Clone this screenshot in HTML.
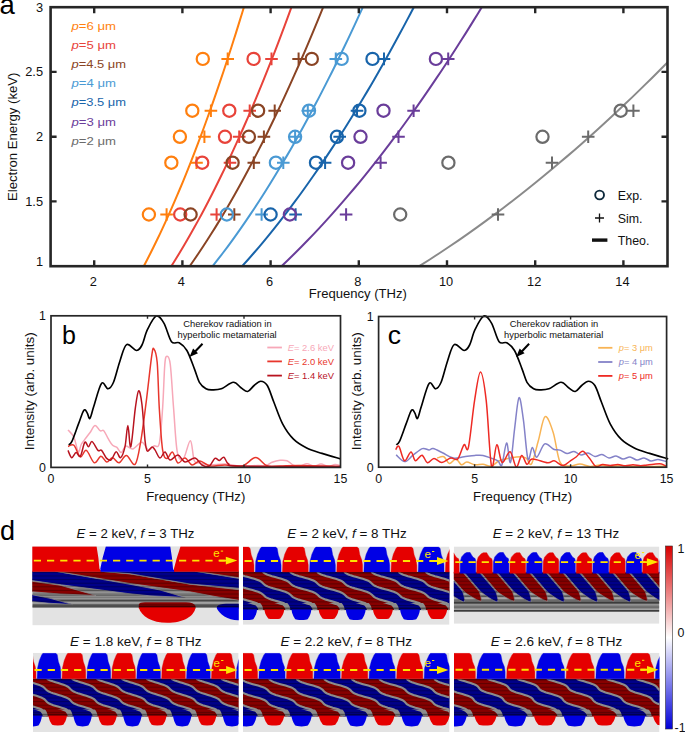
<!DOCTYPE html><html><head><meta charset="utf-8"><style>html,body{margin:0;padding:0;background:#fff;}svg{display:block;}</style></head><body>
<svg width="685" height="732" viewBox="0 0 685 732" font-family='"Liberation Sans", sans-serif'>
<rect width="685" height="732" fill="#fff"/>
<g>
<text x="-0.5" y="14.2" font-size="27.5" fill="#000" text-anchor="start" >a</text>
<clipPath id="clipa"><rect x="50.1" y="7.2" width="617.4" height="259"/></clipPath>
<g clip-path="url(#clipa)" fill="none" stroke-width="2">
<path d="M143.75,266.20 L147.14,259.72 L150.45,253.25 L153.68,246.78 L156.85,240.30 L159.95,233.82 L162.98,227.35 L165.96,220.87 L168.89,214.40 L171.76,207.93 L174.58,201.45 L177.35,194.97 L180.08,188.50 L182.77,182.03 L185.41,175.55 L188.02,169.07 L190.59,162.60 L193.12,156.12 L195.62,149.65 L198.08,143.18 L200.52,136.70 L202.92,130.23 L205.29,123.75 L207.63,117.28 L209.95,110.80 L212.24,104.32 L214.50,97.85 L216.74,91.37 L218.96,84.90 L221.15,78.42 L223.32,71.95 L225.46,65.48 L227.59,59.00 L229.69,52.53 L231.78,46.05 L233.84,39.57 L235.89,33.10 L237.91,26.62 L239.92,20.15 L241.91,13.67 L243.89,7.20" stroke="#ff7f0e"/>
<path d="M171.29,266.20 L175.36,259.72 L179.34,253.25 L183.22,246.78 L187.02,240.30 L190.74,233.82 L194.38,227.35 L197.96,220.87 L201.46,214.40 L204.91,207.93 L208.30,201.45 L211.62,194.97 L214.90,188.50 L218.12,182.03 L221.30,175.55 L224.42,169.07 L227.51,162.60 L230.55,156.12 L233.54,149.65 L236.50,143.18 L239.42,136.70 L242.30,130.23 L245.15,123.75 L247.96,117.28 L250.74,110.80 L253.49,104.32 L256.21,97.85 L258.89,91.37 L261.55,84.90 L264.18,78.42 L266.78,71.95 L269.36,65.48 L271.91,59.00 L274.43,52.53 L276.93,46.05 L279.41,39.57 L281.86,33.10 L284.30,26.62 L286.71,20.15 L289.09,13.67 L291.46,7.20" stroke="#e8433a"/>
<path d="M189.66,266.20 L194.18,259.72 L198.60,253.25 L202.91,246.78 L207.13,240.30 L211.26,233.82 L215.31,227.35 L219.28,220.87 L223.18,214.40 L227.01,207.93 L230.77,201.45 L234.47,194.97 L238.11,188.50 L241.69,182.03 L245.22,175.55 L248.69,169.07 L252.12,162.60 L255.49,156.12 L258.83,149.65 L262.11,143.18 L265.36,136.70 L268.56,130.23 L271.72,123.75 L274.85,117.28 L277.93,110.80 L280.99,104.32 L284.01,97.85 L286.99,91.37 L289.94,84.90 L292.87,78.42 L295.76,71.95 L298.62,65.48 L301.45,59.00 L304.26,52.53 L307.04,46.05 L309.79,39.57 L312.52,33.10 L315.22,26.62 L317.90,20.15 L320.55,13.67 L323.18,7.20" stroke="#8a4424"/>
<path d="M212.62,266.20 L217.70,259.72 L222.67,253.25 L227.52,246.78 L232.27,240.30 L236.92,233.82 L241.48,227.35 L245.95,220.87 L250.33,214.40 L254.64,207.93 L258.87,201.45 L263.03,194.97 L267.12,188.50 L271.15,182.03 L275.12,175.55 L279.03,169.07 L282.88,162.60 L286.68,156.12 L290.43,149.65 L294.13,143.18 L297.77,136.70 L301.38,130.23 L304.94,123.75 L308.45,117.28 L311.93,110.80 L315.36,104.32 L318.76,97.85 L322.11,91.37 L325.44,84.90 L328.72,78.42 L331.98,71.95 L335.20,65.48 L338.38,59.00 L341.54,52.53 L344.67,46.05 L347.76,39.57 L350.83,33.10 L353.87,26.62 L356.88,20.15 L359.87,13.67 L362.83,7.20" stroke="#4a9ad4"/>
<path d="M242.13,266.20 L247.95,259.72 L253.62,253.25 L259.17,246.78 L264.60,240.30 L269.91,233.82 L275.12,227.35 L280.22,220.87 L285.23,214.40 L290.16,207.93 L294.99,201.45 L299.75,194.97 L304.43,188.50 L309.03,182.03 L313.57,175.55 L318.03,169.07 L322.44,162.60 L326.78,156.12 L331.06,149.65 L335.29,143.18 L339.46,136.70 L343.57,130.23 L347.64,123.75 L351.66,117.28 L355.63,110.80 L359.56,104.32 L363.44,97.85 L367.27,91.37 L371.07,84.90 L374.83,78.42 L378.54,71.95 L382.22,65.48 L385.87,59.00 L389.47,52.53 L393.05,46.05 L396.58,39.57 L400.09,33.10 L403.56,26.62 L407.01,20.15 L410.42,13.67 L413.80,7.20" stroke="#1864aa"/>
<path d="M281.49,266.20 L288.27,259.72 L294.89,253.25 L301.37,246.78 L307.70,240.30 L313.89,233.82 L319.97,227.35 L325.93,220.87 L331.77,214.40 L337.52,207.93 L343.16,201.45 L348.71,194.97 L354.17,188.50 L359.54,182.03 L364.83,175.55 L370.04,169.07 L375.18,162.60 L380.24,156.12 L385.24,149.65 L390.17,143.18 L395.03,136.70 L399.84,130.23 L404.58,123.75 L409.27,117.28 L413.90,110.80 L418.48,104.32 L423.01,97.85 L427.49,91.37 L431.92,84.90 L436.30,78.42 L440.63,71.95 L444.93,65.48 L449.18,59.00 L453.39,52.53 L457.55,46.05 L461.68,39.57 L465.77,33.10 L469.83,26.62 L473.84,20.15 L477.82,13.67 L481.77,7.20" stroke="#6a3d9a"/>
<path d="M419.24,266.20 L429.41,259.72 L439.34,253.25 L449.05,246.78 L458.54,240.30 L467.84,233.82 L476.95,227.35 L485.89,220.87 L494.66,214.40 L503.27,207.93 L511.74,201.45 L520.06,194.97 L528.25,188.50 L536.31,182.03 L544.24,175.55 L552.06,169.07 L559.77,162.60 L567.36,156.12 L574.86,149.65 L582.25,143.18 L589.55,136.70 L596.76,130.23 L603.87,123.75 L610.90,117.28 L617.85,110.80 L624.72,104.32 L631.51,97.85 L638.23,91.37 L644.87,84.90 L651.45,78.42 L657.95,71.95 L664.39,65.48 L670.77,59.00 L677.08,52.53 L683.33,46.05 L689.52,39.57 L695.66,33.10 L701.74,26.62 L707.76,20.15 L713.74,13.67 L719.66,7.20" stroke="#8a8a8a"/>
</g>
<g fill="none" stroke-width="2.2">
<circle cx="202.8" cy="58.9" r="6.1" stroke="#ff7f0e"/>
<path d="M221.4,58.9 h12.6 M227.7,52.6 v12.6" stroke="#ff7f0e" stroke-width="2"/>
<circle cx="253.6" cy="58.9" r="6.1" stroke="#e8433a"/>
<path d="M265.2,58.9 h12.6 M271.5,52.6 v12.6" stroke="#e8433a" stroke-width="2"/>
<path d="M292.3,58.9 h12.6 M298.6,52.6 v12.6" stroke="#8a4424" stroke-width="2"/>
<circle cx="311.8" cy="58.9" r="6.1" stroke="#8a4424"/>
<path d="M329.5,58.9 h12.6 M335.8,52.6 v12.6" stroke="#4a9ad4" stroke-width="2"/>
<circle cx="341.7" cy="58.9" r="6.1" stroke="#4a9ad4"/>
<circle cx="372.5" cy="58.9" r="6.1" stroke="#1864aa"/>
<path d="M377.7,58.9 h12.6 M384,52.6 v12.6" stroke="#1864aa" stroke-width="2"/>
<circle cx="435.9" cy="58.9" r="6.1" stroke="#6a3d9a"/>
<path d="M441.9,58.9 h12.6 M448.2,52.6 v12.6" stroke="#6a3d9a" stroke-width="2"/>
<circle cx="192.3" cy="110.7" r="6.1" stroke="#ff7f0e"/>
<path d="M204.6,110.7 h12.6 M210.9,104.4 v12.6" stroke="#ff7f0e" stroke-width="2"/>
<circle cx="229.3" cy="110.7" r="6.1" stroke="#e8433a"/>
<path d="M243.4,110.7 h12.6 M249.7,104.4 v12.6" stroke="#e8433a" stroke-width="2"/>
<circle cx="258.1" cy="110.7" r="6.1" stroke="#8a4424"/>
<path d="M268.4,110.7 h12.6 M274.7,104.4 v12.6" stroke="#8a4424" stroke-width="2"/>
<circle cx="309" cy="110.7" r="6.1" stroke="#4a9ad4"/>
<path d="M301.5,110.7 h12.6 M307.8,104.4 v12.6" stroke="#4a9ad4" stroke-width="2"/>
<circle cx="359.4" cy="110.7" r="6.1" stroke="#1864aa"/>
<path d="M350.7,110.7 h12.6 M357,104.4 v12.6" stroke="#1864aa" stroke-width="2"/>
<circle cx="383.5" cy="110.7" r="6.1" stroke="#6a3d9a"/>
<path d="M407.3,110.7 h12.6 M413.6,104.4 v12.6" stroke="#6a3d9a" stroke-width="2"/>
<circle cx="620.7" cy="110.7" r="6.1" stroke="#6b6b6b"/>
<path d="M627.1,110.7 h12.6 M633.4,104.4 v12.6" stroke="#6b6b6b" stroke-width="2"/>
<circle cx="179.9" cy="136.8" r="6.1" stroke="#ff7f0e"/>
<path d="M198.1,136.8 h12.6 M204.4,130.5 v12.6" stroke="#ff7f0e" stroke-width="2"/>
<circle cx="225" cy="136.8" r="6.1" stroke="#e8433a"/>
<path d="M232.9,136.8 h12.6 M239.2,130.5 v12.6" stroke="#e8433a" stroke-width="2"/>
<circle cx="248.9" cy="136.8" r="6.1" stroke="#8a4424"/>
<path d="M257.6,136.8 h12.6 M263.9,130.5 v12.6" stroke="#8a4424" stroke-width="2"/>
<circle cx="295.1" cy="136.8" r="6.1" stroke="#4a9ad4"/>
<path d="M288.8,136.8 h12.6 M295.1,130.5 v12.6" stroke="#4a9ad4" stroke-width="2"/>
<circle cx="336.9" cy="136.8" r="6.1" stroke="#1864aa"/>
<path d="M333.4,136.8 h12.6 M339.7,130.5 v12.6" stroke="#1864aa" stroke-width="2"/>
<circle cx="360.5" cy="136.8" r="6.1" stroke="#6a3d9a"/>
<path d="M392.2,136.8 h12.6 M398.5,130.5 v12.6" stroke="#6a3d9a" stroke-width="2"/>
<circle cx="542.5" cy="136.8" r="6.1" stroke="#6b6b6b"/>
<path d="M581.9,136.8 h12.6 M588.2,130.5 v12.6" stroke="#6b6b6b" stroke-width="2"/>
<circle cx="171.35" cy="162.7" r="6.1" stroke="#ff7f0e"/>
<path d="M190.2,162.7 h12.6 M196.5,156.4 v12.6" stroke="#ff7f0e" stroke-width="2"/>
<circle cx="202.2" cy="162.7" r="6.1" stroke="#e8433a"/>
<path d="M223.7,162.7 h12.6 M230,156.4 v12.6" stroke="#e8433a" stroke-width="2"/>
<circle cx="232.6" cy="162.7" r="6.1" stroke="#8a4424"/>
<path d="M247.5,162.7 h12.6 M253.8,156.4 v12.6" stroke="#8a4424" stroke-width="2"/>
<circle cx="275.9" cy="162.7" r="6.1" stroke="#4a9ad4"/>
<path d="M277.0,162.7 h12.6 M283.3,156.4 v12.6" stroke="#4a9ad4" stroke-width="2"/>
<circle cx="316" cy="162.7" r="6.1" stroke="#1864aa"/>
<path d="M318.8,162.7 h12.6 M325.1,156.4 v12.6" stroke="#1864aa" stroke-width="2"/>
<circle cx="348.1" cy="162.7" r="6.1" stroke="#6a3d9a"/>
<path d="M374.3,162.7 h12.6 M380.6,156.4 v12.6" stroke="#6a3d9a" stroke-width="2"/>
<circle cx="448.4" cy="162.7" r="6.1" stroke="#6b6b6b"/>
<path d="M545.7,162.7 h12.6 M552,156.4 v12.6" stroke="#6b6b6b" stroke-width="2"/>
<circle cx="148.9" cy="214.5" r="6.1" stroke="#ff7f0e"/>
<path d="M160.3,214.5 h12.6 M166.6,208.2 v12.6" stroke="#ff7f0e" stroke-width="2"/>
<circle cx="180.2" cy="214.5" r="6.1" stroke="#e8433a"/>
<path d="M210.3,214.5 h12.6 M216.6,208.2 v12.6" stroke="#e8433a" stroke-width="2"/>
<circle cx="190.6" cy="214.5" r="6.1" stroke="#8a4424"/>
<path d="M228.0,214.5 h12.6 M234.3,208.2 v12.6" stroke="#8a4424" stroke-width="2"/>
<circle cx="226.8" cy="214.5" r="6.1" stroke="#4a9ad4"/>
<path d="M255.3,214.5 h12.6 M261.6,208.2 v12.6" stroke="#4a9ad4" stroke-width="2"/>
<circle cx="270.6" cy="214.5" r="6.1" stroke="#1864aa"/>
<path d="M289.3,214.5 h12.6 M295.6,208.2 v12.6" stroke="#1864aa" stroke-width="2"/>
<circle cx="289.9" cy="214.5" r="6.1" stroke="#6a3d9a"/>
<path d="M339.8,214.5 h12.6 M346.1,208.2 v12.6" stroke="#6a3d9a" stroke-width="2"/>
<circle cx="400.2" cy="214.5" r="6.1" stroke="#6b6b6b"/>
<path d="M491.7,214.5 h12.6 M498,208.2 v12.6" stroke="#6b6b6b" stroke-width="2"/>
</g>
<rect x="50.6" y="7.2" width="616.9" height="259" fill="none" stroke="#262626" stroke-width="2.6"/>
<path d="M94.2,266.2 v-6 M94.2,7.2 v6 M182.4,266.2 v-6 M182.4,7.2 v6 M270.6,266.2 v-6 M270.6,7.2 v6 M358.8,266.2 v-6 M358.8,7.2 v6 M447.0,266.2 v-6 M447.0,7.2 v6 M535.2,266.2 v-6 M535.2,7.2 v6 M623.4,266.2 v-6 M623.4,7.2 v6 M50.6,201.4 h6 M667.5,201.4 h-6 M50.6,136.7 h6 M667.5,136.7 h-6 M50.6,71.9 h6 M667.5,71.9 h-6" stroke="#262626" stroke-width="2.4" fill="none"/>
<g font-family='"Liberation Sans", sans-serif' font-size="12.8" fill="#111">
<text x="93.2" y="285.8" font-size="12.8" fill="#111" text-anchor="middle" >2</text>
<text x="181.4" y="285.8" font-size="12.8" fill="#111" text-anchor="middle" >4</text>
<text x="269.6" y="285.8" font-size="12.8" fill="#111" text-anchor="middle" >6</text>
<text x="357.8" y="285.8" font-size="12.8" fill="#111" text-anchor="middle" >8</text>
<text x="446.0" y="285.8" font-size="12.8" fill="#111" text-anchor="middle" >10</text>
<text x="534.2" y="285.8" font-size="12.8" fill="#111" text-anchor="middle" >12</text>
<text x="622.4" y="285.8" font-size="12.8" fill="#111" text-anchor="middle" >14</text>
<text x="43" y="266.0" font-size="12.8" fill="#111" text-anchor="end" >1</text>
<text x="43" y="205.9" font-size="12.8" fill="#111" text-anchor="end" >1.5</text>
<text x="43" y="141.2" font-size="12.8" fill="#111" text-anchor="end" >2</text>
<text x="43" y="76.4" font-size="12.8" fill="#111" text-anchor="end" >2.5</text>
<text x="43" y="11.7" font-size="12.8" fill="#111" text-anchor="end" >3</text>
</g>
<text x="357.8" y="298.4" font-size="13" fill="#111" text-anchor="middle" textLength="98" lengthAdjust="spacingAndGlyphs" >Frequency (THz)</text>
<text transform="translate(16.7,136.8) rotate(-90)" x="0" y="0" font-size="13.2" fill="#111" text-anchor="middle" textLength="128.5" lengthAdjust="spacingAndGlyphs">Electron Energy (keV)</text>
<text x="71.5" y="30.2" font-size="11.3" fill="#ff7f0e" textLength="44.5" lengthAdjust="spacingAndGlyphs"><tspan font-style="italic">p</tspan>=6 μm</text>
<text x="71.5" y="49.2" font-size="11.3" fill="#e8433a" textLength="44.5" lengthAdjust="spacingAndGlyphs"><tspan font-style="italic">p</tspan>=5 μm</text>
<text x="71.5" y="68.3" font-size="11.3" fill="#8a4424" textLength="54.5" lengthAdjust="spacingAndGlyphs"><tspan font-style="italic">p</tspan>=4.5 μm</text>
<text x="71.5" y="87.4" font-size="11.3" fill="#4a9ad4" textLength="44.5" lengthAdjust="spacingAndGlyphs"><tspan font-style="italic">p</tspan>=4 μm</text>
<text x="71.5" y="106.4" font-size="11.3" fill="#1864aa" textLength="54.5" lengthAdjust="spacingAndGlyphs"><tspan font-style="italic">p</tspan>=3.5 μm</text>
<text x="71.5" y="125.5" font-size="11.3" fill="#6a3d9a" textLength="44.5" lengthAdjust="spacingAndGlyphs"><tspan font-style="italic">p</tspan>=3 μm</text>
<text x="71.5" y="144.5" font-size="11.3" fill="#6b6b6b" textLength="44.5" lengthAdjust="spacingAndGlyphs"><tspan font-style="italic">p</tspan>=2 μm</text>
<circle cx="599.6" cy="195" r="4.4" fill="none" stroke="#0e2a3c" stroke-width="1.9"/>
<path d="M595,218 h9 M599.5,213.5 v9" stroke="#111" stroke-width="1.3"/>
<path d="M592,240.1 h15.4" stroke="#111" stroke-width="3.4"/>
<text x="617.7" y="199.9" font-size="12.4" fill="#111" text-anchor="start" >Exp.</text>
<text x="617.7" y="222.6" font-size="12.4" fill="#111" text-anchor="start" >Sim.</text>
<text x="617.7" y="244.8" font-size="12.4" fill="#111" text-anchor="start" >Theo.</text>
</g>
<g fill="none" stroke-width="1.5" stroke-linejoin="round">
<path d="M68.00,429.90 C68.98,431.12 72.20,433.55 73.90,437.20 C75.60,440.85 76.98,450.58 78.20,451.80 C79.42,453.02 80.10,446.57 81.20,444.50 C82.30,442.43 83.35,441.35 84.80,439.40 C86.25,437.45 88.20,435.12 89.90,432.80 C91.60,430.48 93.30,425.85 95.00,425.50 C96.70,425.15 98.63,429.83 100.10,430.70 C101.57,431.57 102.45,429.37 103.80,430.70 C105.15,432.03 106.73,436.27 108.20,438.70 C109.67,441.13 111.15,443.85 112.60,445.30 C114.05,446.75 115.45,446.18 116.90,447.40 C118.35,448.62 119.83,452.83 121.30,452.60 C122.77,452.37 123.75,446.62 125.70,446.00 C127.65,445.38 130.30,449.53 133.00,448.90 C135.70,448.27 139.33,442.03 141.90,442.20 C144.47,442.37 146.38,449.27 148.40,449.90 C150.42,450.53 152.18,447.10 154.00,446.00 C155.82,444.90 157.87,449.57 159.30,443.30 C160.73,437.03 161.68,421.52 162.60,408.40 C163.52,395.28 164.07,373.28 164.80,364.60 C165.53,355.92 166.08,356.30 167.00,356.30 C167.92,356.30 169.20,355.92 170.30,364.60 C171.40,373.28 172.43,393.82 173.60,408.40 C174.77,422.98 175.67,443.73 177.30,452.10 C178.93,460.47 181.22,460.50 183.40,458.60 C185.58,456.70 188.58,440.33 190.40,440.70 C192.22,441.07 192.70,457.08 194.30,460.80 C195.90,464.52 197.38,462.30 200.00,463.00 C202.62,463.70 205.83,464.83 210.00,465.00 C214.17,465.17 220.00,463.83 225.00,464.00 C230.00,464.17 234.50,465.75 240.00,466.00 C245.50,466.25 253.67,465.57 258.00,465.50 C262.33,465.43 263.67,466.13 266.00,465.60 C268.33,465.07 269.67,463.18 272.00,462.30 C274.33,461.42 277.50,460.55 280.00,460.30 C282.50,460.05 284.67,459.93 287.00,460.80 C289.33,461.67 291.83,464.63 294.00,465.50 C296.17,466.37 297.83,466.28 300.00,466.00 C302.17,465.72 304.67,463.77 307.00,463.80 C309.33,463.83 311.67,466.17 314.00,466.20 C316.33,466.23 318.67,463.98 321.00,464.00 C323.33,464.02 325.67,466.22 328.00,466.30 C330.33,466.38 333.00,464.63 335.00,464.50 C337.00,464.37 339.17,465.33 340.00,465.50" stroke="#f7a8b8"/>
<path d="M68.00,446.40 C68.98,446.22 71.83,443.55 73.90,445.30 C75.97,447.05 78.33,456.05 80.40,456.90 C82.47,457.75 83.98,449.42 86.30,450.40 C88.62,451.38 91.87,461.83 94.30,462.80 C96.73,463.77 98.83,456.33 100.90,456.20 C102.97,456.07 104.75,461.75 106.70,462.00 C108.65,462.25 110.53,457.57 112.60,457.70 C114.67,457.83 116.80,463.17 119.10,462.80 C121.40,462.43 123.72,455.27 126.40,455.50 C129.08,455.73 132.80,466.60 135.20,464.20 C137.60,461.80 138.97,451.50 140.80,441.10 C142.63,430.70 144.38,416.00 146.20,401.80 C148.02,387.60 150.42,364.72 151.70,355.90 C152.98,347.08 152.98,347.80 153.90,348.90 C154.82,350.00 156.30,352.58 157.20,362.50 C158.10,372.42 158.40,393.83 159.30,408.40 C160.20,422.97 161.32,441.53 162.60,449.90 C163.88,458.27 165.35,458.23 167.00,458.60 C168.65,458.97 170.68,451.37 172.50,452.10 C174.32,452.83 175.82,462.02 177.90,463.00 C179.98,463.98 182.65,457.67 185.00,458.00 C187.35,458.33 189.50,464.50 192.00,465.00 C194.50,465.50 197.00,460.83 200.00,461.00 C203.00,461.17 205.83,465.33 210.00,466.00 C214.17,466.67 219.67,464.97 225.00,465.00 C230.33,465.03 236.90,467.43 242.00,466.20 C247.10,464.97 251.45,457.67 255.60,457.60 C259.75,457.53 262.83,464.40 266.90,465.80 C270.97,467.20 274.48,466.05 280.00,466.00 C285.52,465.95 290.00,465.42 300.00,465.50 C310.00,465.58 333.33,466.33 340.00,466.50" stroke="#e8362c"/>
<path d="M68.00,450.40 C68.62,451.62 70.35,457.33 71.70,457.70 C73.05,458.07 74.65,452.85 76.10,452.60 C77.55,452.35 78.95,457.92 80.40,456.20 C81.85,454.48 83.45,443.88 84.80,442.30 C86.15,440.72 87.28,446.82 88.50,446.70 C89.72,446.58 90.52,440.98 92.10,441.60 C93.68,442.22 96.42,448.93 98.00,450.40 C99.58,451.87 100.15,449.07 101.60,450.40 C103.05,451.73 105.12,456.82 106.70,458.40 C108.28,459.98 109.52,461.00 111.10,459.90 C112.68,458.80 114.62,452.17 116.20,451.80 C117.78,451.43 119.13,458.55 120.60,457.70 C122.07,456.85 123.78,452.07 125.00,446.70 C126.22,441.33 126.93,425.50 127.90,425.50 C128.87,425.50 129.57,449.55 130.80,446.70 C132.03,443.85 134.00,417.70 135.30,408.40 C136.60,399.10 137.50,391.63 138.60,390.90 C139.70,390.17 140.82,395.63 141.90,404.00 C142.98,412.37 144.20,433.27 145.10,441.10 C146.00,448.93 146.15,450.02 147.30,451.00 C148.45,451.98 150.72,447.18 152.00,447.00 C153.28,446.82 153.67,448.07 155.00,449.90 C156.33,451.73 158.33,457.65 160.00,458.00 C161.67,458.35 163.33,451.67 165.00,452.00 C166.67,452.33 167.83,459.50 170.00,460.00 C172.17,460.50 175.50,454.67 178.00,455.00 C180.50,455.33 182.17,461.50 185.00,462.00 C187.83,462.50 192.17,457.50 195.00,458.00 C197.83,458.50 199.63,463.63 202.00,465.00 C204.37,466.37 207.05,467.32 209.20,466.20 C211.35,465.08 213.20,459.25 214.90,458.30 C216.60,457.35 217.90,460.68 219.40,460.50 C220.90,460.32 222.38,456.62 223.90,457.20 C225.42,457.78 225.82,462.53 228.50,464.00 C231.18,465.47 221.42,465.58 240.00,466.00 C258.58,466.42 323.33,466.42 340.00,466.50" stroke="#b8131f"/>
<path d="M68.60,444.70 C69.15,444.15 70.25,444.87 71.90,441.40 C73.55,437.93 76.50,429.08 78.50,423.90 C80.50,418.72 82.45,412.13 83.90,410.30 C85.35,408.47 86.20,411.55 87.20,412.90 C88.20,414.25 88.80,419.50 89.90,418.40 C91.00,417.30 91.87,412.13 93.80,406.30 C95.73,400.47 99.13,386.32 101.50,383.40 C103.87,380.48 106.00,388.98 108.00,388.80 C110.00,388.62 111.48,387.03 113.50,382.30 C115.52,377.57 117.92,366.68 120.10,360.40 C122.28,354.12 123.87,346.25 126.60,344.60 C129.33,342.95 133.93,350.43 136.50,350.50 C139.07,350.57 140.18,348.47 142.00,345.00 C143.82,341.53 145.03,334.52 147.40,329.70 C149.77,324.88 153.45,317.20 156.20,316.10 C158.95,315.00 161.35,318.83 163.90,323.10 C166.45,327.37 168.95,338.42 171.50,341.70 C174.05,344.98 176.63,341.33 179.20,342.80 C181.77,344.27 184.35,346.12 186.90,350.50 C189.45,354.88 192.42,363.80 194.50,369.10 C196.58,374.40 197.48,379.02 199.40,382.30 C201.32,385.58 203.82,387.53 206.00,388.80 C208.18,390.07 209.95,389.90 212.50,389.90 C215.05,389.90 217.83,390.07 221.30,388.80 C224.77,387.53 230.02,382.48 233.30,382.30 C236.58,382.12 238.62,386.17 241.00,387.70 C243.38,389.23 245.42,391.87 247.60,391.50 C249.78,391.13 251.92,387.22 254.10,385.50 C256.28,383.78 258.50,381.20 260.70,381.20 C262.90,381.20 265.12,382.03 267.30,385.50 C269.48,388.97 271.25,395.60 273.80,402.00 C276.35,408.40 279.32,417.70 282.60,423.90 C285.88,430.10 289.48,435.18 293.50,439.20 C297.52,443.22 301.95,445.63 306.70,448.00 C311.45,450.37 316.35,451.58 322.00,453.40 C327.65,455.22 337.50,457.98 340.60,458.90" stroke="#000" stroke-width="1.65"/>
</g>
<rect x="51.0" y="315.8" width="289.5" height="151.6" fill="none" stroke="#262626" stroke-width="1.7"/>
<path d="M147.5,467.4 v-3 M147.5,315.8 v3 M244.0,467.4 v-3 M244.0,315.8 v3" stroke="#262626" stroke-width="1.4"/>
<text x="51.0" y="483.4" font-size="12.4" fill="#111" text-anchor="middle" >0</text>
<text x="147.5" y="483.4" font-size="12.4" fill="#111" text-anchor="middle" >5</text>
<text x="244.0" y="483.4" font-size="12.4" fill="#111" text-anchor="middle" >10</text>
<text x="340.5" y="483.4" font-size="12.4" fill="#111" text-anchor="middle" >15</text>
<text x="46.0" y="320.2" font-size="12.4" fill="#111" text-anchor="end" >1</text>
<text x="46.0" y="472.0" font-size="12.4" fill="#111" text-anchor="end" >0</text>
<text x="195.8" y="500.9" font-size="13" fill="#111" text-anchor="middle" textLength="99" lengthAdjust="spacingAndGlyphs" >Frequency (THz)</text>
<text transform="translate(33.7,391.3) rotate(-90)" font-size="13" fill="#111" text-anchor="middle" textLength="118" lengthAdjust="spacingAndGlyphs">Intensity (arb. units)</text>
<text x="62" y="344.1" font-size="25" fill="#000" text-anchor="start" >b</text>
<text x="183.2" y="327.4" font-size="9.3" fill="#111" text-anchor="start" textLength="88.4" lengthAdjust="spacingAndGlyphs" >Cherekov radiation in</text>
<text x="177.5" y="338.2" font-size="9.3" fill="#111" text-anchor="start" textLength="99.2" lengthAdjust="spacingAndGlyphs" >hyperbolic metamaterial</text>
<path d="M202.5,343.7 L193.5,353.2" stroke="#000" stroke-width="2"/>
<path d="M189.5,357.0 L193.1,348.4 L198.0,353.2 Z" fill="#000"/>
<path d="M267.3,347.5 H281.9" stroke="#f7a8b8" stroke-width="1.8"/>
<text x="287.7" y="350.7" font-size="9.2" fill="#f7a8b8" textLength="46.2" lengthAdjust="spacingAndGlyphs"><tspan font-style="italic">E</tspan>= 2.6 keV</text>
<path d="M267.3,361.4 H281.9" stroke="#e8362c" stroke-width="1.8"/>
<text x="287.7" y="364.6" font-size="9.2" fill="#e8362c" textLength="46.2" lengthAdjust="spacingAndGlyphs"><tspan font-style="italic">E</tspan>= 2.0 keV</text>
<path d="M267.3,375.6 H281.9" stroke="#b8131f" stroke-width="1.8"/>
<text x="287.7" y="378.8" font-size="9.2" fill="#b8131f" textLength="46.2" lengthAdjust="spacingAndGlyphs"><tspan font-style="italic">E</tspan>= 1.4 keV</text>
<g fill="none" stroke-width="1.5" stroke-linejoin="round">
<path d="M437.10,458.10 C438.23,457.87 441.87,455.80 443.90,456.70 C445.93,457.60 447.28,463.13 449.30,463.50 C451.32,463.87 453.98,458.68 456.00,458.90 C458.02,459.12 459.60,464.27 461.40,464.80 C463.20,465.33 464.55,462.10 466.80,462.10 C469.05,462.10 472.20,464.43 474.90,464.80 C477.60,465.17 480.30,464.07 483.00,464.30 C485.70,464.53 488.40,466.78 491.10,466.20 C493.80,465.62 496.05,462.15 499.20,460.80 C502.35,459.45 506.40,458.78 510.00,458.10 C513.60,457.42 518.10,456.70 520.80,456.70 C523.50,456.70 524.40,456.93 526.20,458.10 C528.00,459.27 529.57,466.63 531.60,463.70 C533.63,460.77 536.15,448.33 538.40,440.50 C540.65,432.67 542.63,418.05 545.10,416.70 C547.57,415.35 550.72,424.83 553.20,432.40 C555.68,439.97 557.20,456.50 560.00,462.10 C562.80,467.70 566.67,465.68 570.00,466.00 C573.33,466.32 576.67,463.92 580.00,464.00 C583.33,464.08 586.67,466.33 590.00,466.50 C593.33,466.67 596.67,465.00 600.00,465.00 C603.33,465.00 606.67,466.42 610.00,466.50 C613.33,466.58 615.00,465.50 620.00,465.50 C625.00,465.50 632.33,466.42 640.00,466.50 C647.67,466.58 661.67,466.08 666.00,466.00" stroke="#f8b455"/>
<path d="M396.10,454.80 C397.53,455.93 401.92,461.50 404.70,461.60 C407.48,461.70 409.87,457.57 412.80,455.40 C415.73,453.23 419.60,449.50 422.30,448.60 C425.00,447.70 427.20,450.00 429.00,450.00 C430.80,450.00 430.85,448.15 433.10,448.60 C435.35,449.05 439.13,451.12 442.50,452.70 C445.87,454.28 449.70,457.43 453.30,458.10 C456.90,458.77 460.50,457.15 464.10,456.70 C467.70,456.25 471.75,455.62 474.90,455.40 C478.05,455.18 480.30,454.95 483.00,455.40 C485.70,455.85 488.62,457.20 491.10,458.10 C493.58,459.00 496.10,459.68 497.90,460.80 C499.70,461.92 500.45,467.77 501.90,464.80 C503.35,461.83 505.17,443.38 506.60,443.00 C508.03,442.62 509.17,464.87 510.50,462.50 C511.83,460.13 513.18,439.60 514.60,428.80 C516.02,418.00 517.53,399.18 519.00,397.70 C520.47,396.22 521.92,409.70 523.40,419.90 C524.88,430.10 526.42,454.32 527.90,458.90 C529.38,463.48 530.82,447.68 532.30,447.40 C533.78,447.12 534.73,457.78 536.80,457.20 C538.87,456.62 541.90,445.23 544.70,443.90 C547.50,442.57 551.05,448.17 553.60,449.20 C556.15,450.23 557.77,449.38 560.00,450.10 C562.23,450.82 564.67,453.27 567.00,453.50 C569.33,453.73 571.67,451.25 574.00,451.50 C576.33,451.75 578.67,454.75 581.00,455.00 C583.33,455.25 585.67,452.75 588.00,453.00 C590.33,453.25 592.67,456.25 595.00,456.50 C597.33,456.75 599.67,454.25 602.00,454.50 C604.33,454.75 606.67,457.75 609.00,458.00 C611.33,458.25 613.67,455.83 616.00,456.00 C618.33,456.17 620.67,458.83 623.00,459.00 C625.33,459.17 627.67,456.83 630.00,457.00 C632.33,457.17 634.67,459.83 637.00,460.00 C639.33,460.17 641.67,457.83 644.00,458.00 C646.33,458.17 648.67,460.75 651.00,461.00 C653.33,461.25 655.43,459.40 658.00,459.50 C660.57,459.60 665.00,461.25 666.40,461.60" stroke="#8482c8"/>
<path d="M395.70,449.70 C396.25,449.17 397.53,444.67 399.00,446.50 C400.47,448.33 402.50,459.78 404.50,460.70 C406.50,461.62 409.18,452.00 411.00,452.00 C412.82,452.00 413.57,460.17 415.40,460.70 C417.23,461.23 420.00,454.85 422.00,455.20 C424.00,455.55 425.40,462.25 427.40,462.80 C429.40,463.35 431.60,458.55 434.00,458.50 C436.40,458.45 439.02,462.57 441.80,462.50 C444.58,462.43 448.03,458.70 450.70,458.10 C453.37,457.50 455.58,461.13 457.80,458.90 C460.02,456.67 462.23,446.62 464.00,444.70 C465.77,442.78 466.63,454.78 468.40,447.40 C470.17,440.02 472.58,412.97 474.60,400.40 C476.62,387.83 478.57,372.00 480.50,372.00 C482.43,372.00 484.37,384.73 486.20,400.40 C488.03,416.07 489.73,458.62 491.50,466.00 C493.27,473.38 495.03,445.28 496.80,444.70 C498.57,444.12 499.88,461.32 502.10,462.50 C504.32,463.68 507.73,451.07 510.10,451.80 C512.47,452.53 514.37,466.30 516.30,466.90 C518.23,467.50 519.92,455.83 521.70,455.40 C523.48,454.97 525.23,463.72 527.00,464.30 C528.77,464.88 528.87,459.17 532.30,458.90 C535.73,458.63 543.95,462.38 547.60,462.70 C551.25,463.02 551.67,460.33 554.20,460.80 C556.73,461.27 560.10,465.50 562.80,465.50 C565.50,465.50 568.18,462.22 570.40,460.80 C572.62,459.38 574.05,458.58 576.10,457.00 C578.15,455.42 580.50,451.13 582.70,451.30 C584.90,451.47 587.08,455.47 589.30,458.00 C591.52,460.53 593.78,465.40 596.00,466.50 C598.22,467.60 600.23,464.77 602.60,464.60 C604.97,464.43 607.67,465.52 610.20,465.50 C612.73,465.48 615.27,464.45 617.80,464.50 C620.33,464.55 622.87,465.75 625.40,465.80 C627.93,465.85 630.47,464.80 633.00,464.80 C635.53,464.80 638.27,465.77 640.60,465.80 C642.93,465.83 644.78,465.27 647.00,465.00 C649.22,464.73 651.48,464.37 653.90,464.20 C656.32,464.03 659.45,463.62 661.50,464.00 C663.55,464.38 665.42,466.08 666.20,466.50" stroke="#ee2a24"/>
<path d="M396.20,444.70 C396.75,444.15 397.85,444.87 399.50,441.40 C401.15,437.93 404.10,429.08 406.10,423.90 C408.10,418.72 410.05,412.13 411.50,410.30 C412.95,408.47 413.80,411.55 414.80,412.90 C415.80,414.25 416.40,419.50 417.50,418.40 C418.60,417.30 419.47,412.13 421.40,406.30 C423.33,400.47 426.73,386.32 429.10,383.40 C431.47,380.48 433.60,388.98 435.60,388.80 C437.60,388.62 439.08,387.03 441.10,382.30 C443.12,377.57 445.52,366.68 447.70,360.40 C449.88,354.12 451.47,346.25 454.20,344.60 C456.93,342.95 461.53,350.43 464.10,350.50 C466.67,350.57 467.78,348.47 469.60,345.00 C471.42,341.53 472.63,334.52 475.00,329.70 C477.37,324.88 481.05,317.20 483.80,316.10 C486.55,315.00 488.95,318.83 491.50,323.10 C494.05,327.37 496.55,338.42 499.10,341.70 C501.65,344.98 504.23,341.33 506.80,342.80 C509.37,344.27 511.95,346.12 514.50,350.50 C517.05,354.88 520.02,363.80 522.10,369.10 C524.18,374.40 525.08,379.02 527.00,382.30 C528.92,385.58 531.42,387.53 533.60,388.80 C535.78,390.07 537.55,389.90 540.10,389.90 C542.65,389.90 545.43,390.07 548.90,388.80 C552.37,387.53 557.62,382.48 560.90,382.30 C564.18,382.12 566.22,386.17 568.60,387.70 C570.98,389.23 573.02,391.87 575.20,391.50 C577.38,391.13 579.52,387.22 581.70,385.50 C583.88,383.78 586.10,381.20 588.30,381.20 C590.50,381.20 592.72,382.03 594.90,385.50 C597.08,388.97 598.85,395.60 601.40,402.00 C603.95,408.40 606.92,417.70 610.20,423.90 C613.48,430.10 617.08,435.18 621.10,439.20 C625.12,443.22 629.55,445.63 634.30,448.00 C639.05,450.37 643.95,451.58 649.60,453.40 C655.25,455.22 665.10,457.98 668.20,458.90" stroke="#000" stroke-width="1.65"/>
</g>
<rect x="378.6" y="316.5" width="288.0" height="150.7" fill="none" stroke="#262626" stroke-width="1.7"/>
<path d="M474.6,467.2 v-3 M474.6,316.5 v3 M570.6,467.2 v-3 M570.6,316.5 v3" stroke="#262626" stroke-width="1.4"/>
<text x="378.6" y="483.4" font-size="12.4" fill="#111" text-anchor="middle" >0</text>
<text x="474.6" y="483.4" font-size="12.4" fill="#111" text-anchor="middle" >5</text>
<text x="570.6" y="483.4" font-size="12.4" fill="#111" text-anchor="middle" >10</text>
<text x="666.6" y="483.4" font-size="12.4" fill="#111" text-anchor="middle" >15</text>
<text x="373.6" y="320.9" font-size="12.4" fill="#111" text-anchor="end" >1</text>
<text x="373.6" y="471.8" font-size="12.4" fill="#111" text-anchor="end" >0</text>
<text x="522.6" y="500.9" font-size="13" fill="#111" text-anchor="middle" textLength="99" lengthAdjust="spacingAndGlyphs" >Frequency (THz)</text>
<text transform="translate(361.3,391.3) rotate(-90)" font-size="13" fill="#111" text-anchor="middle" textLength="118" lengthAdjust="spacingAndGlyphs">Intensity (arb. units)</text>
<text x="387.8" y="343.9" font-size="26.5" fill="#000" text-anchor="start" >c</text>
<text x="509.8" y="327.4" font-size="9.3" fill="#111" text-anchor="start" textLength="88.4" lengthAdjust="spacingAndGlyphs" >Cherekov radiation in</text>
<text x="504.1" y="338.2" font-size="9.3" fill="#111" text-anchor="start" textLength="99.2" lengthAdjust="spacingAndGlyphs" >hyperbolic metamaterial</text>
<path d="M529.1,343.7 L520.1,353.2" stroke="#000" stroke-width="2"/>
<path d="M516.1,357.0 L519.7,348.4 L524.6,353.2 Z" fill="#000"/>
<path d="M598.2,347.8 H612.4" stroke="#f8b455" stroke-width="1.8"/>
<text x="618.7" y="351.0" font-size="9.2" fill="#f8b455" textLength="34.1" lengthAdjust="spacingAndGlyphs"><tspan font-style="italic">p</tspan>= 3 μm</text>
<path d="M598.2,362 H612.4" stroke="#8482c8" stroke-width="1.8"/>
<text x="618.7" y="365.2" font-size="9.2" fill="#8482c8" textLength="34.1" lengthAdjust="spacingAndGlyphs"><tspan font-style="italic">p</tspan>= 4 μm</text>
<path d="M598.2,375.9 H612.4" stroke="#ee2a24" stroke-width="1.8"/>
<text x="618.7" y="379.1" font-size="9.2" fill="#ee2a24" textLength="34.1" lengthAdjust="spacingAndGlyphs"><tspan font-style="italic">p</tspan>= 5 μm</text>
<text x="0" y="539.5" font-size="27" fill="#000" text-anchor="start" >d</text>
<text x="135.5" y="538.2" font-size="12.7" fill="#111" text-anchor="middle" textLength="117.9" lengthAdjust="spacingAndGlyphs"><tspan font-style="italic">E</tspan> = 2 keV, <tspan font-style="italic">f</tspan> = 3 THz</text>
<text x="346.9" y="538.2" font-size="12.7" fill="#111" text-anchor="middle" textLength="119.5" lengthAdjust="spacingAndGlyphs"><tspan font-style="italic">E</tspan> = 2 keV, <tspan font-style="italic">f</tspan> = 8 THz</text>
<text x="555.9" y="538.2" font-size="12.7" fill="#111" text-anchor="middle" textLength="126.5" lengthAdjust="spacingAndGlyphs"><tspan font-style="italic">E</tspan> = 2 keV, <tspan font-style="italic">f</tspan> = 13 THz</text>
<text x="135.8" y="646.3" font-size="12.7" fill="#111" text-anchor="middle" textLength="131.6" lengthAdjust="spacingAndGlyphs"><tspan font-style="italic">E</tspan> = 1.8 keV, <tspan font-style="italic">f</tspan> = 8 THz</text>
<text x="346.2" y="646.3" font-size="12.7" fill="#111" text-anchor="middle" textLength="131.6" lengthAdjust="spacingAndGlyphs"><tspan font-style="italic">E</tspan> = 2.2 keV, <tspan font-style="italic">f</tspan> = 8 THz</text>
<text x="556.6" y="646.3" font-size="12.7" fill="#111" text-anchor="middle" textLength="131.6" lengthAdjust="spacingAndGlyphs"><tspan font-style="italic">E</tspan> = 2.6 keV, <tspan font-style="italic">f</tspan> = 8 THz</text>
<defs><linearGradient id="cbar" x1="0" y1="0" x2="0" y2="1"><stop offset="0" stop-color="#d80000"/><stop offset="0.5" stop-color="#ffffff"/><stop offset="1" stop-color="#0000d8"/></linearGradient></defs>
<rect x="665.5" y="546" width="7" height="183" fill="url(#cbar)" stroke="#333" stroke-width="0.6"/>
<text x="677.5" y="553.4" font-size="12.4" fill="#111" text-anchor="start" >1</text>
<text x="677.5" y="637.4" font-size="12.4" fill="#111" text-anchor="start" >0</text>
<text x="674.5" y="731.5" font-size="12.4" fill="#111" text-anchor="start" >-1</text>
<clipPath id="cp1"><rect x="32.3" y="546.2" width="206.5" height="79.2"/></clipPath><g clip-path="url(#cp1)"><rect x="32.3" y="546.2" width="206.5" height="79.2" fill="#e3e3e3"/><rect x="32.3" y="571.20" width="206.5" height="1.36" fill="#929292"/><rect x="32.3" y="572.50" width="206.5" height="1.36" fill="#7e7e7e"/><rect x="32.3" y="573.80" width="206.5" height="1.36" fill="#626262"/><rect x="32.3" y="575.10" width="206.5" height="1.36" fill="#8c8c8c"/><rect x="32.3" y="576.40" width="206.5" height="1.36" fill="#a2a2a2"/><rect x="32.3" y="577.70" width="206.5" height="1.36" fill="#727272"/><rect x="32.3" y="579.00" width="206.5" height="1.36" fill="#4e4e4e"/><rect x="32.3" y="580.30" width="206.5" height="1.36" fill="#868686"/><rect x="32.3" y="581.60" width="206.5" height="1.36" fill="#929292"/><rect x="32.3" y="582.90" width="206.5" height="1.36" fill="#7e7e7e"/><rect x="32.3" y="584.20" width="206.5" height="1.36" fill="#626262"/><rect x="32.3" y="585.50" width="206.5" height="1.36" fill="#8c8c8c"/><rect x="32.3" y="586.80" width="206.5" height="1.36" fill="#a2a2a2"/><rect x="32.3" y="588.10" width="206.5" height="1.36" fill="#727272"/><rect x="32.3" y="589.40" width="206.5" height="1.36" fill="#4e4e4e"/><rect x="32.3" y="590.70" width="206.5" height="1.36" fill="#868686"/><rect x="32.3" y="592.00" width="206.5" height="1.36" fill="#929292"/><rect x="32.3" y="593.30" width="206.5" height="1.36" fill="#7e7e7e"/><rect x="32.3" y="594.60" width="206.5" height="1.36" fill="#626262"/><rect x="32.3" y="595.90" width="206.5" height="1.36" fill="#8c8c8c"/><rect x="32.3" y="597.20" width="206.5" height="1.36" fill="#a2a2a2"/><rect x="32.3" y="598.50" width="206.5" height="1.36" fill="#727272"/><rect x="32.3" y="599.80" width="206.5" height="1.36" fill="#4e4e4e"/><rect x="32.3" y="601.10" width="206.5" height="1.36" fill="#868686"/><rect x="32.3" y="602.40" width="206.5" height="1.36" fill="#929292"/><rect x="32.3" y="603.70" width="206.5" height="1.36" fill="#7e7e7e"/><rect x="32.3" y="605.00" width="206.5" height="1.36" fill="#626262"/><rect x="32.3" y="606.30" width="206.5" height="1.36" fill="#8c8c8c"/><path d="M30.00,571.20 L55.40,571.20 L130.00,584.30 L160.00,590.00 L185.20,597.40 L150.00,595.80 L130.00,593.80 L61.20,584.80 L30.00,580.30 Z" fill="#000088" stroke="#8c8c8c" stroke-width="0.8" stroke-linejoin="round"/><path d="M30.00,581.00 L60.00,585.20 L96.00,595.40 L60.00,594.00 L30.00,591.60 Z" fill="#860000" stroke="#8c8c8c" stroke-width="0.8" stroke-linejoin="round"/><path d="M30.00,594.30 L50.00,598.30 L73.00,604.60 L50.00,603.30 L30.00,601.40 Z" fill="#000088" stroke="#8c8c8c" stroke-width="0.8" stroke-linejoin="round"/><path d="M55.40,571.20 L100.00,571.20 L130.00,573.90 L190.00,584.20 L245.00,590.40 L245.00,601.30 L215.00,596.50 L190.00,591.80 L130.00,583.50 Z" fill="#860000" stroke="#8c8c8c" stroke-width="0.8" stroke-linejoin="round"/><path d="M100.00,571.20 L195.00,571.20 L245.00,579.40 L245.00,588.80 L190.00,584.00 L130.00,573.70 Z" fill="#000088" stroke="#8c8c8c" stroke-width="0.8" stroke-linejoin="round"/><path d="M195.00,571.20 L245.00,571.20 L245.00,578.60 Z" fill="#860000" stroke="#8c8c8c" stroke-width="0.8" stroke-linejoin="round"/><path d="M138.8,608.5 L138.8,604.5 Q139.5,602.2 145,602.2 L186,602.2 Q194,602.2 195.5,606 L195.5,608.5 Z" fill="#860000"/><path d="M217,608.5 L217,606.5 Q219,603.8 226,603.8 L245,603.8 L245,608.5 Z" fill="#000088"/><path d="M32.3,572.40 H238.8 M32.3,576.00 H238.8 M32.3,579.60 H238.8 M32.3,583.20 H238.8 M32.3,586.80 H238.8 M32.3,590.40 H238.8 M32.3,594.00 H238.8 M32.3,597.60 H238.8 M32.3,601.20 H238.8 M32.3,604.80 H238.8" stroke="#000" stroke-opacity="0.3" stroke-width="1.0" fill="none"/><rect x="32.3" y="605.8" width="206.5" height="1.6" fill="#000" fill-opacity="0.5"/><path d="M138.8,607.4 L195.5,607.4 C194.5,616 183,622.8 167.2,622.8 C152,622.8 141,616 138.8,607.4 Z" fill="#e50000"/><path d="M216.5,607.4 L245,607.4 L245,620.2 L238,620.2 C228,620.2 219,614 216.5,607.4 Z" fill="#0000e5"/><path d="M30.3,571.7 L30.3,546.4 L96.6,546.4 L98.4,558 L99.4,568.5 Q99.8,570.6 101.5,570.8 L101.5,571.7 Z" fill="#e50000"/><path d="M100.6,571.7 L100.3,568.8 L102.6,558 L105.8,546.4 L170.3,546.4 L172.0,558 L173.0,568.5 Q173.4,570.6 175,570.8 L175,571.7 Z" fill="#0000e5"/><path d="M174.0,571.7 L174.0,568.5 L176.8,558 L180.5,546.4 L245,546.4 L245,571.7 Z" fill="#e50000"/><path d="M33.8,560.6 H224.8" stroke="#ffe500" stroke-width="1.9" stroke-dasharray="7.2 6"/><path d="M225.8,556.7 L237.3,560.6 L225.8,564.5 Z" fill="#ffe500"/><path d="M219.3,560.6 H228.3" stroke="#ffe500" stroke-width="1.9"/><text x="213.3" y="557.3" font-size="11.5" fill="#ffe500">e</text><rect x="220.8" y="550.6" width="2.3" height="1.0" fill="#ffe500"/></g><clipPath id="cp2"><rect x="243.0" y="546.5" width="206.5" height="78.3"/></clipPath><clipPath id="cp3"><rect x="243.0" y="603.1" width="206.5" height="7"/></clipPath><g clip-path="url(#cp2)"><rect x="243.0" y="546.5" width="206.5" height="78.3" fill="#e3e3e3"/><rect x="243.0" y="571.90" width="206.5" height="1.36" fill="#929292"/><rect x="243.0" y="573.20" width="206.5" height="1.36" fill="#7e7e7e"/><rect x="243.0" y="574.50" width="206.5" height="1.36" fill="#626262"/><rect x="243.0" y="575.80" width="206.5" height="1.36" fill="#8c8c8c"/><rect x="243.0" y="577.10" width="206.5" height="1.36" fill="#a2a2a2"/><rect x="243.0" y="578.40" width="206.5" height="1.36" fill="#727272"/><rect x="243.0" y="579.70" width="206.5" height="1.36" fill="#4e4e4e"/><rect x="243.0" y="581.00" width="206.5" height="1.36" fill="#868686"/><rect x="243.0" y="582.30" width="206.5" height="1.36" fill="#929292"/><rect x="243.0" y="583.60" width="206.5" height="1.36" fill="#7e7e7e"/><rect x="243.0" y="584.90" width="206.5" height="1.36" fill="#626262"/><rect x="243.0" y="586.20" width="206.5" height="1.36" fill="#8c8c8c"/><rect x="243.0" y="587.50" width="206.5" height="1.36" fill="#a2a2a2"/><rect x="243.0" y="588.80" width="206.5" height="1.36" fill="#727272"/><rect x="243.0" y="590.10" width="206.5" height="1.36" fill="#4e4e4e"/><rect x="243.0" y="591.40" width="206.5" height="1.36" fill="#868686"/><rect x="243.0" y="592.70" width="206.5" height="1.36" fill="#929292"/><rect x="243.0" y="594.00" width="206.5" height="1.36" fill="#7e7e7e"/><rect x="243.0" y="595.30" width="206.5" height="1.36" fill="#626262"/><rect x="243.0" y="596.60" width="206.5" height="1.36" fill="#8c8c8c"/><rect x="243.0" y="597.90" width="206.5" height="1.36" fill="#a2a2a2"/><rect x="243.0" y="599.20" width="206.5" height="1.36" fill="#727272"/><rect x="243.0" y="600.50" width="206.5" height="1.36" fill="#4e4e4e"/><rect x="243.0" y="601.80" width="206.5" height="1.36" fill="#868686"/><rect x="243.0" y="603.10" width="206.5" height="1.36" fill="#929292"/><rect x="243.0" y="604.40" width="206.5" height="1.36" fill="#7e7e7e"/><rect x="243.0" y="605.70" width="206.5" height="1.36" fill="#626262"/><rect x="243.0" y="607.00" width="206.5" height="1.36" fill="#8c8c8c"/><rect x="243.0" y="608.30" width="206.5" height="1.36" fill="#a2a2a2"/><rect x="243.0" y="609.60" width="206.5" height="0.56" fill="#727272"/><path d="M99.90,571.90 L100.89,572.77 L102.22,573.63 L104.03,574.50 L106.37,575.37 L109.18,576.23 L112.28,577.10 L115.46,577.97 L118.50,578.83 L121.17,579.70 L123.35,580.57 L125.01,581.43 L126.22,582.30 L127.14,583.17 L127.99,584.03 L129.02,584.90 L130.42,585.77 L132.31,586.63 L134.73,587.50 L137.59,588.37 L140.72,589.23 L143.90,590.10 L146.89,590.97 L149.49,591.83 L151.60,592.70 L153.18,593.57 L154.33,594.43 L155.22,595.30 L156.09,596.17 L157.16,597.03 L158.63,597.90 L160.61,598.77 L163.10,599.63 L166.02,600.50 L169.17,601.37 L172.33,602.23 L175.28,603.10 L176.72,604.50 L177.84,605.90 L178.64,607.30 L179.12,608.70 L179.28,610.10 L206.43,610.10 L206.27,608.70 L205.79,607.30 L204.99,605.90 L203.87,604.50 L202.43,603.10 L199.48,602.23 L196.32,601.37 L193.17,600.50 L190.25,599.63 L187.76,598.77 L185.78,597.90 L184.31,597.03 L183.24,596.17 L182.37,595.30 L181.48,594.43 L180.33,593.57 L178.75,592.70 L176.64,591.83 L174.04,590.97 L171.05,590.10 L167.87,589.23 L164.74,588.37 L161.88,587.50 L159.46,586.63 L157.57,585.77 L156.17,584.90 L155.14,584.03 L154.29,583.17 L153.37,582.30 L152.16,581.43 L150.50,580.57 L148.32,579.70 L145.65,578.83 L142.61,577.97 L139.43,577.10 L136.33,576.23 L133.52,575.37 L131.18,574.50 L129.37,573.63 L128.04,572.77 L127.05,571.90 Z" fill="#000088"/><path d="M127.05,571.90 L128.04,572.77 L129.37,573.63 L131.18,574.50 L133.52,575.37 L136.33,576.23 L139.43,577.10 L142.61,577.97 L145.65,578.83 L148.32,579.70 L150.50,580.57 L152.16,581.43 L153.37,582.30 L154.29,583.17 L155.14,584.03 L156.17,584.90 L157.57,585.77 L159.46,586.63 L161.88,587.50 L164.74,588.37 L167.87,589.23 L171.05,590.10 L174.04,590.97 L176.64,591.83 L178.75,592.70 L180.33,593.57 L181.48,594.43 L182.37,595.30 L183.24,596.17 L184.31,597.03 L185.78,597.90 L187.76,598.77 L190.25,599.63 L193.17,600.50 L196.32,601.37 L199.48,602.23 L202.43,603.10 L203.87,604.50 L204.99,605.90 L205.79,607.30 L206.27,608.70 L206.43,610.10 L233.58,610.10 L233.42,608.70 L232.94,607.30 L232.14,605.90 L231.02,604.50 L229.58,603.10 L226.63,602.23 L223.47,601.37 L220.32,600.50 L217.40,599.63 L214.91,598.77 L212.93,597.90 L211.46,597.03 L210.39,596.17 L209.52,595.30 L208.63,594.43 L207.48,593.57 L205.90,592.70 L203.79,591.83 L201.19,590.97 L198.20,590.10 L195.02,589.23 L191.89,588.37 L189.03,587.50 L186.61,586.63 L184.72,585.77 L183.32,584.90 L182.29,584.03 L181.44,583.17 L180.52,582.30 L179.31,581.43 L177.65,580.57 L175.47,579.70 L172.80,578.83 L169.76,577.97 L166.58,577.10 L163.48,576.23 L160.67,575.37 L158.33,574.50 L156.52,573.63 L155.19,572.77 L154.20,571.90 Z" fill="#860000"/><path d="M154.20,571.90 L155.19,572.77 L156.52,573.63 L158.33,574.50 L160.67,575.37 L163.48,576.23 L166.58,577.10 L169.76,577.97 L172.80,578.83 L175.47,579.70 L177.65,580.57 L179.31,581.43 L180.52,582.30 L181.44,583.17 L182.29,584.03 L183.32,584.90 L184.72,585.77 L186.61,586.63 L189.03,587.50 L191.89,588.37 L195.02,589.23 L198.20,590.10 L201.19,590.97 L203.79,591.83 L205.90,592.70 L207.48,593.57 L208.63,594.43 L209.52,595.30 L210.39,596.17 L211.46,597.03 L212.93,597.90 L214.91,598.77 L217.40,599.63 L220.32,600.50 L223.47,601.37 L226.63,602.23 L229.58,603.10 L231.02,604.50 L232.14,605.90 L232.94,607.30 L233.42,608.70 L233.58,610.10 L260.73,610.10 L260.56,608.70 L260.09,607.30 L259.29,605.90 L258.17,604.50 L256.73,603.10 L253.78,602.23 L250.62,601.37 L247.47,600.50 L244.55,599.63 L242.06,598.77 L240.08,597.90 L238.61,597.03 L237.54,596.17 L236.67,595.30 L235.78,594.43 L234.63,593.57 L233.05,592.70 L230.94,591.83 L228.34,590.97 L225.35,590.10 L222.17,589.23 L219.04,588.37 L216.18,587.50 L213.76,586.63 L211.87,585.77 L210.47,584.90 L209.44,584.03 L208.59,583.17 L207.67,582.30 L206.46,581.43 L204.80,580.57 L202.62,579.70 L199.95,578.83 L196.91,577.97 L193.73,577.10 L190.63,576.23 L187.82,575.37 L185.48,574.50 L183.67,573.63 L182.34,572.77 L181.35,571.90 Z" fill="#000088"/><path d="M181.35,571.90 L182.34,572.77 L183.67,573.63 L185.48,574.50 L187.82,575.37 L190.63,576.23 L193.73,577.10 L196.91,577.97 L199.95,578.83 L202.62,579.70 L204.80,580.57 L206.46,581.43 L207.67,582.30 L208.59,583.17 L209.44,584.03 L210.47,584.90 L211.87,585.77 L213.76,586.63 L216.18,587.50 L219.04,588.37 L222.17,589.23 L225.35,590.10 L228.34,590.97 L230.94,591.83 L233.05,592.70 L234.63,593.57 L235.78,594.43 L236.67,595.30 L237.54,596.17 L238.61,597.03 L240.08,597.90 L242.06,598.77 L244.55,599.63 L247.47,600.50 L250.62,601.37 L253.78,602.23 L256.72,603.10 L258.16,604.50 L259.28,605.90 L260.08,607.30 L260.56,608.70 L260.72,610.10 L287.88,610.10 L287.71,608.70 L287.24,607.30 L286.44,605.90 L285.31,604.50 L283.88,603.10 L280.93,602.23 L277.77,601.37 L274.62,600.50 L271.70,599.63 L269.21,598.77 L267.23,597.90 L265.76,597.03 L264.69,596.17 L263.82,595.30 L262.93,594.43 L261.78,593.57 L260.20,592.70 L258.09,591.83 L255.49,590.97 L252.50,590.10 L249.32,589.23 L246.19,588.37 L243.33,587.50 L240.91,586.63 L239.02,585.77 L237.62,584.90 L236.59,584.03 L235.74,583.17 L234.82,582.30 L233.61,581.43 L231.95,580.57 L229.77,579.70 L227.10,578.83 L224.06,577.97 L220.88,577.10 L217.78,576.23 L214.97,575.37 L212.63,574.50 L210.82,573.63 L209.49,572.77 L208.50,571.90 Z" fill="#860000"/><path d="M208.50,571.90 L209.49,572.77 L210.82,573.63 L212.63,574.50 L214.97,575.37 L217.78,576.23 L220.88,577.10 L224.06,577.97 L227.10,578.83 L229.77,579.70 L231.95,580.57 L233.61,581.43 L234.82,582.30 L235.74,583.17 L236.59,584.03 L237.62,584.90 L239.02,585.77 L240.91,586.63 L243.33,587.50 L246.19,588.37 L249.32,589.23 L252.50,590.10 L255.49,590.97 L258.09,591.83 L260.20,592.70 L261.78,593.57 L262.93,594.43 L263.82,595.30 L264.69,596.17 L265.76,597.03 L267.23,597.90 L269.21,598.77 L271.70,599.63 L274.62,600.50 L277.77,601.37 L280.93,602.23 L283.88,603.10 L285.31,604.50 L286.44,605.90 L287.24,607.30 L287.71,608.70 L287.88,610.10 L315.02,610.10 L314.86,608.70 L314.38,607.30 L313.58,605.90 L312.46,604.50 L311.02,603.10 L308.08,602.23 L304.92,601.37 L301.77,600.50 L298.85,599.63 L296.36,598.77 L294.38,597.90 L292.91,597.03 L291.84,596.17 L290.97,595.30 L290.08,594.43 L288.93,593.57 L287.35,592.70 L285.24,591.83 L282.64,590.97 L279.65,590.10 L276.47,589.23 L273.34,588.37 L270.48,587.50 L268.06,586.63 L266.17,585.77 L264.77,584.90 L263.74,584.03 L262.89,583.17 L261.97,582.30 L260.76,581.43 L259.10,580.57 L256.92,579.70 L254.25,578.83 L251.21,577.97 L248.03,577.10 L244.93,576.23 L242.12,575.37 L239.78,574.50 L237.97,573.63 L236.64,572.77 L235.65,571.90 Z" fill="#000088"/><path d="M235.65,571.90 L236.64,572.77 L237.97,573.63 L239.78,574.50 L242.12,575.37 L244.93,576.23 L248.03,577.10 L251.21,577.97 L254.25,578.83 L256.92,579.70 L259.10,580.57 L260.76,581.43 L261.97,582.30 L262.89,583.17 L263.74,584.03 L264.77,584.90 L266.17,585.77 L268.06,586.63 L270.48,587.50 L273.34,588.37 L276.47,589.23 L279.65,590.10 L282.64,590.97 L285.24,591.83 L287.35,592.70 L288.93,593.57 L290.08,594.43 L290.97,595.30 L291.84,596.17 L292.91,597.03 L294.38,597.90 L296.36,598.77 L298.85,599.63 L301.77,600.50 L304.92,601.37 L308.08,602.23 L311.02,603.10 L312.46,604.50 L313.58,605.90 L314.38,607.30 L314.86,608.70 L315.02,610.10 L342.17,610.10 L342.01,608.70 L341.53,607.30 L340.73,605.90 L339.61,604.50 L338.17,603.10 L335.23,602.23 L332.07,601.37 L328.92,600.50 L326.00,599.63 L323.51,598.77 L321.53,597.90 L320.06,597.03 L318.99,596.17 L318.12,595.30 L317.23,594.43 L316.08,593.57 L314.50,592.70 L312.39,591.83 L309.79,590.97 L306.80,590.10 L303.62,589.23 L300.49,588.37 L297.63,587.50 L295.21,586.63 L293.32,585.77 L291.92,584.90 L290.89,584.03 L290.04,583.17 L289.12,582.30 L287.91,581.43 L286.25,580.57 L284.07,579.70 L281.40,578.83 L278.36,577.97 L275.18,577.10 L272.08,576.23 L269.27,575.37 L266.93,574.50 L265.12,573.63 L263.79,572.77 L262.80,571.90 Z" fill="#860000"/><path d="M262.80,571.90 L263.79,572.77 L265.12,573.63 L266.93,574.50 L269.27,575.37 L272.08,576.23 L275.18,577.10 L278.36,577.97 L281.40,578.83 L284.07,579.70 L286.25,580.57 L287.91,581.43 L289.12,582.30 L290.04,583.17 L290.89,584.03 L291.92,584.90 L293.32,585.77 L295.21,586.63 L297.63,587.50 L300.49,588.37 L303.62,589.23 L306.80,590.10 L309.79,590.97 L312.39,591.83 L314.50,592.70 L316.08,593.57 L317.23,594.43 L318.12,595.30 L318.99,596.17 L320.06,597.03 L321.53,597.90 L323.51,598.77 L326.00,599.63 L328.92,600.50 L332.07,601.37 L335.23,602.23 L338.17,603.10 L339.61,604.50 L340.73,605.90 L341.53,607.30 L342.01,608.70 L342.17,610.10 L369.32,610.10 L369.16,608.70 L368.68,607.30 L367.88,605.90 L366.76,604.50 L365.32,603.10 L362.38,602.23 L359.22,601.37 L356.07,600.50 L353.15,599.63 L350.66,598.77 L348.68,597.90 L347.21,597.03 L346.14,596.17 L345.27,595.30 L344.38,594.43 L343.23,593.57 L341.65,592.70 L339.54,591.83 L336.94,590.97 L333.95,590.10 L330.77,589.23 L327.64,588.37 L324.78,587.50 L322.36,586.63 L320.47,585.77 L319.07,584.90 L318.04,584.03 L317.19,583.17 L316.27,582.30 L315.06,581.43 L313.40,580.57 L311.22,579.70 L308.55,578.83 L305.51,577.97 L302.33,577.10 L299.23,576.23 L296.42,575.37 L294.08,574.50 L292.27,573.63 L290.94,572.77 L289.95,571.90 Z" fill="#000088"/><path d="M289.95,571.90 L290.94,572.77 L292.27,573.63 L294.08,574.50 L296.42,575.37 L299.23,576.23 L302.33,577.10 L305.51,577.97 L308.55,578.83 L311.22,579.70 L313.40,580.57 L315.06,581.43 L316.27,582.30 L317.19,583.17 L318.04,584.03 L319.07,584.90 L320.47,585.77 L322.36,586.63 L324.78,587.50 L327.64,588.37 L330.77,589.23 L333.95,590.10 L336.94,590.97 L339.54,591.83 L341.65,592.70 L343.23,593.57 L344.38,594.43 L345.27,595.30 L346.14,596.17 L347.21,597.03 L348.68,597.90 L350.66,598.77 L353.15,599.63 L356.07,600.50 L359.22,601.37 L362.38,602.23 L365.32,603.10 L366.76,604.50 L367.88,605.90 L368.69,607.30 L369.16,608.70 L369.32,610.10 L396.47,610.10 L396.31,608.70 L395.83,607.30 L395.03,605.90 L393.91,604.50 L392.47,603.10 L389.53,602.23 L386.37,601.37 L383.22,600.50 L380.30,599.63 L377.81,598.77 L375.83,597.90 L374.36,597.03 L373.29,596.17 L372.42,595.30 L371.53,594.43 L370.38,593.57 L368.80,592.70 L366.69,591.83 L364.09,590.97 L361.10,590.10 L357.92,589.23 L354.79,588.37 L351.93,587.50 L349.51,586.63 L347.62,585.77 L346.22,584.90 L345.19,584.03 L344.34,583.17 L343.42,582.30 L342.21,581.43 L340.55,580.57 L338.37,579.70 L335.70,578.83 L332.66,577.97 L329.48,577.10 L326.38,576.23 L323.57,575.37 L321.23,574.50 L319.42,573.63 L318.09,572.77 L317.10,571.90 Z" fill="#860000"/><path d="M317.10,571.90 L318.09,572.77 L319.42,573.63 L321.23,574.50 L323.57,575.37 L326.38,576.23 L329.48,577.10 L332.66,577.97 L335.70,578.83 L338.37,579.70 L340.55,580.57 L342.21,581.43 L343.42,582.30 L344.34,583.17 L345.19,584.03 L346.22,584.90 L347.62,585.77 L349.51,586.63 L351.93,587.50 L354.79,588.37 L357.92,589.23 L361.10,590.10 L364.09,590.97 L366.69,591.83 L368.80,592.70 L370.38,593.57 L371.53,594.43 L372.42,595.30 L373.29,596.17 L374.36,597.03 L375.83,597.90 L377.81,598.77 L380.30,599.63 L383.22,600.50 L386.37,601.37 L389.53,602.23 L392.47,603.10 L393.91,604.50 L395.03,605.90 L395.83,607.30 L396.31,608.70 L396.47,610.10 L423.62,610.10 L423.46,608.70 L422.98,607.30 L422.18,605.90 L421.06,604.50 L419.62,603.10 L416.68,602.23 L413.52,601.37 L410.37,600.50 L407.45,599.63 L404.96,598.77 L402.98,597.90 L401.51,597.03 L400.44,596.17 L399.57,595.30 L398.68,594.43 L397.53,593.57 L395.95,592.70 L393.84,591.83 L391.24,590.97 L388.25,590.10 L385.07,589.23 L381.94,588.37 L379.08,587.50 L376.66,586.63 L374.77,585.77 L373.37,584.90 L372.34,584.03 L371.49,583.17 L370.57,582.30 L369.36,581.43 L367.70,580.57 L365.52,579.70 L362.85,578.83 L359.81,577.97 L356.63,577.10 L353.53,576.23 L350.72,575.37 L348.38,574.50 L346.57,573.63 L345.24,572.77 L344.25,571.90 Z" fill="#000088"/><path d="M344.25,571.90 L345.24,572.77 L346.57,573.63 L348.38,574.50 L350.72,575.37 L353.53,576.23 L356.63,577.10 L359.81,577.97 L362.85,578.83 L365.52,579.70 L367.70,580.57 L369.36,581.43 L370.57,582.30 L371.49,583.17 L372.34,584.03 L373.37,584.90 L374.77,585.77 L376.66,586.63 L379.08,587.50 L381.94,588.37 L385.07,589.23 L388.25,590.10 L391.24,590.97 L393.84,591.83 L395.95,592.70 L397.53,593.57 L398.68,594.43 L399.57,595.30 L400.44,596.17 L401.51,597.03 L402.98,597.90 L404.96,598.77 L407.45,599.63 L410.37,600.50 L413.52,601.37 L416.68,602.23 L419.62,603.10 L421.06,604.50 L422.18,605.90 L422.98,607.30 L423.46,608.70 L423.62,610.10 L450.77,610.10 L450.61,608.70 L450.13,607.30 L449.33,605.90 L448.21,604.50 L446.77,603.10 L443.83,602.23 L440.67,601.37 L437.52,600.50 L434.60,599.63 L432.11,598.77 L430.13,597.90 L428.66,597.03 L427.59,596.17 L426.72,595.30 L425.83,594.43 L424.68,593.57 L423.10,592.70 L420.99,591.83 L418.39,590.97 L415.40,590.10 L412.22,589.23 L409.09,588.37 L406.23,587.50 L403.81,586.63 L401.92,585.77 L400.52,584.90 L399.49,584.03 L398.64,583.17 L397.72,582.30 L396.51,581.43 L394.85,580.57 L392.67,579.70 L390.00,578.83 L386.96,577.97 L383.78,577.10 L380.68,576.23 L377.87,575.37 L375.53,574.50 L373.72,573.63 L372.39,572.77 L371.40,571.90 Z" fill="#860000"/><path d="M371.40,571.90 L372.39,572.77 L373.72,573.63 L375.53,574.50 L377.87,575.37 L380.68,576.23 L383.78,577.10 L386.96,577.97 L390.00,578.83 L392.67,579.70 L394.85,580.57 L396.51,581.43 L397.72,582.30 L398.64,583.17 L399.49,584.03 L400.52,584.90 L401.92,585.77 L403.81,586.63 L406.23,587.50 L409.09,588.37 L412.22,589.23 L415.40,590.10 L418.39,590.97 L420.99,591.83 L423.10,592.70 L424.68,593.57 L425.83,594.43 L426.72,595.30 L427.59,596.17 L428.66,597.03 L430.13,597.90 L432.11,598.77 L434.60,599.63 L437.52,600.50 L440.67,601.37 L443.83,602.23 L446.77,603.10 L448.21,604.50 L449.33,605.90 L450.13,607.30 L450.61,608.70 L450.77,610.10 L477.92,610.10 L477.76,608.70 L477.28,607.30 L476.48,605.90 L475.36,604.50 L473.92,603.10 L470.98,602.23 L467.82,601.37 L464.67,600.50 L461.75,599.63 L459.26,598.77 L457.28,597.90 L455.81,597.03 L454.74,596.17 L453.87,595.30 L452.98,594.43 L451.83,593.57 L450.25,592.70 L448.14,591.83 L445.54,590.97 L442.55,590.10 L439.37,589.23 L436.24,588.37 L433.38,587.50 L430.96,586.63 L429.07,585.77 L427.67,584.90 L426.64,584.03 L425.79,583.17 L424.87,582.30 L423.66,581.43 L422.00,580.57 L419.82,579.70 L417.15,578.83 L414.11,577.97 L410.93,577.10 L407.83,576.23 L405.02,575.37 L402.68,574.50 L400.87,573.63 L399.54,572.77 L398.55,571.90 Z" fill="#000088"/><path d="M398.55,571.90 L399.54,572.77 L400.87,573.63 L402.68,574.50 L405.02,575.37 L407.83,576.23 L410.93,577.10 L414.11,577.97 L417.15,578.83 L419.82,579.70 L422.00,580.57 L423.66,581.43 L424.87,582.30 L425.79,583.17 L426.64,584.03 L427.67,584.90 L429.07,585.77 L430.96,586.63 L433.38,587.50 L436.24,588.37 L439.37,589.23 L442.55,590.10 L445.54,590.97 L448.14,591.83 L450.25,592.70 L451.83,593.57 L452.98,594.43 L453.87,595.30 L454.74,596.17 L455.81,597.03 L457.28,597.90 L459.26,598.77 L461.75,599.63 L464.67,600.50 L467.82,601.37 L470.98,602.23 L473.92,603.10 L475.36,604.50 L476.48,605.90 L477.28,607.30 L477.76,608.70 L477.92,610.10 L505.07,610.10 L504.91,608.70 L504.43,607.30 L503.63,605.90 L502.51,604.50 L501.07,603.10 L498.13,602.23 L494.97,601.37 L491.82,600.50 L488.90,599.63 L486.41,598.77 L484.43,597.90 L482.96,597.03 L481.89,596.17 L481.02,595.30 L480.13,594.43 L478.98,593.57 L477.40,592.70 L475.29,591.83 L472.69,590.97 L469.70,590.10 L466.52,589.23 L463.39,588.37 L460.53,587.50 L458.11,586.63 L456.22,585.77 L454.82,584.90 L453.79,584.03 L452.94,583.17 L452.02,582.30 L450.81,581.43 L449.15,580.57 L446.97,579.70 L444.30,578.83 L441.26,577.97 L438.08,577.10 L434.98,576.23 L432.17,575.37 L429.83,574.50 L428.02,573.63 L426.69,572.77 L425.70,571.90 Z" fill="#860000"/><path d="M425.70,571.90 L426.69,572.77 L428.02,573.63 L429.83,574.50 L432.17,575.37 L434.98,576.23 L438.08,577.10 L441.26,577.97 L444.30,578.83 L446.97,579.70 L449.15,580.57 L450.81,581.43 L452.02,582.30 L452.94,583.17 L453.79,584.03 L454.82,584.90 L456.22,585.77 L458.11,586.63 L460.53,587.50 L463.39,588.37 L466.52,589.23 L469.70,590.10 L472.69,590.97 L475.29,591.83 L477.40,592.70 L478.98,593.57 L480.13,594.43 L481.02,595.30 L481.89,596.17 L482.96,597.03 L484.43,597.90 L486.41,598.77 L488.90,599.63 L491.82,600.50 L494.97,601.37 L498.13,602.23 L501.07,603.10 L502.51,604.50 L503.63,605.90 L504.44,607.30 L504.91,608.70 L505.07,610.10 L532.23,610.10 L532.07,608.70 L531.59,607.30 L530.78,605.90 L529.67,604.50 L528.23,603.10 L525.28,602.23 L522.12,601.37 L518.97,600.50 L516.05,599.63 L513.56,598.77 L511.58,597.90 L510.11,597.03 L509.04,596.17 L508.17,595.30 L507.28,594.43 L506.13,593.57 L504.55,592.70 L502.44,591.83 L499.84,590.97 L496.85,590.10 L493.67,589.23 L490.54,588.37 L487.68,587.50 L485.26,586.63 L483.37,585.77 L481.97,584.90 L480.94,584.03 L480.09,583.17 L479.17,582.30 L477.96,581.43 L476.30,580.57 L474.12,579.70 L471.45,578.83 L468.41,577.97 L465.23,577.10 L462.13,576.23 L459.32,575.37 L456.98,574.50 L455.17,573.63 L453.84,572.77 L452.85,571.90 Z" fill="#000088"/><path d="M452.85,571.90 L453.84,572.77 L455.17,573.63 L456.98,574.50 L459.32,575.37 L462.13,576.23 L465.23,577.10 L468.41,577.97 L471.45,578.83 L474.12,579.70 L476.30,580.57 L477.96,581.43 L479.17,582.30 L480.09,583.17 L480.94,584.03 L481.97,584.90 L483.37,585.77 L485.26,586.63 L487.68,587.50 L490.54,588.37 L493.67,589.23 L496.85,590.10 L499.84,590.97 L502.44,591.83 L504.55,592.70 L506.13,593.57 L507.28,594.43 L508.17,595.30 L509.04,596.17 L510.11,597.03 L511.58,597.90 L513.56,598.77 L516.05,599.63 L518.97,600.50 L522.12,601.37 L525.28,602.23 L528.23,603.10 L529.67,604.50 L530.78,605.90 L531.59,607.30 L532.07,608.70 L532.23,610.10 L559.38,610.10 L559.22,608.70 L558.74,607.30 L557.93,605.90 L556.82,604.50 L555.38,603.10 L552.43,602.23 L549.27,601.37 L546.12,600.50 L543.20,599.63 L540.71,598.77 L538.73,597.90 L537.26,597.03 L536.19,596.17 L535.32,595.30 L534.43,594.43 L533.28,593.57 L531.70,592.70 L529.59,591.83 L526.99,590.97 L524.00,590.10 L520.82,589.23 L517.69,588.37 L514.83,587.50 L512.41,586.63 L510.52,585.77 L509.12,584.90 L508.09,584.03 L507.24,583.17 L506.32,582.30 L505.11,581.43 L503.45,580.57 L501.27,579.70 L498.60,578.83 L495.56,577.97 L492.38,577.10 L489.28,576.23 L486.47,575.37 L484.13,574.50 L482.32,573.63 L480.99,572.77 L480.00,571.90 Z" fill="#860000"/><path d="M243.0,573.10 H449.5 M243.0,576.70 H449.5 M243.0,580.30 H449.5 M243.0,583.90 H449.5 M243.0,587.50 H449.5 M243.0,591.10 H449.5 M243.0,594.70 H449.5 M243.0,598.30 H449.5 M243.0,601.90 H449.5 M243.0,605.50 H449.5 M243.0,609.10 H449.5" stroke="#000" stroke-opacity="0.3" stroke-width="1.0" fill="none"/><path d="M99.90,571.90 L100.89,572.77 L102.22,573.63 L104.03,574.50 L106.37,575.37 L109.18,576.23 L112.28,577.10 L115.46,577.97 L118.50,578.83 L121.17,579.70 L123.35,580.57 L125.01,581.43 L126.22,582.30 L127.14,583.17 L127.99,584.03 L129.02,584.90 L130.42,585.77 L132.31,586.63 L134.73,587.50 L137.59,588.37 L140.72,589.23 L143.90,590.10 L146.89,590.97 L149.49,591.83 L151.60,592.70 L153.18,593.57 L154.33,594.43 L155.22,595.30 L156.09,596.17 L157.16,597.03 L158.63,597.90 L160.61,598.77 L163.10,599.63 L166.02,600.50 L169.17,601.37 L172.33,602.23 L175.28,603.10 L176.72,604.50 L177.84,605.90 L178.64,607.30 L179.12,608.70 L179.28,610.10 M127.05,571.90 L128.04,572.77 L129.37,573.63 L131.18,574.50 L133.52,575.37 L136.33,576.23 L139.43,577.10 L142.61,577.97 L145.65,578.83 L148.32,579.70 L150.50,580.57 L152.16,581.43 L153.37,582.30 L154.29,583.17 L155.14,584.03 L156.17,584.90 L157.57,585.77 L159.46,586.63 L161.88,587.50 L164.74,588.37 L167.87,589.23 L171.05,590.10 L174.04,590.97 L176.64,591.83 L178.75,592.70 L180.33,593.57 L181.48,594.43 L182.37,595.30 L183.24,596.17 L184.31,597.03 L185.78,597.90 L187.76,598.77 L190.25,599.63 L193.17,600.50 L196.32,601.37 L199.48,602.23 L202.43,603.10 L203.87,604.50 L204.99,605.90 L205.79,607.30 L206.27,608.70 L206.43,610.10 M154.20,571.90 L155.19,572.77 L156.52,573.63 L158.33,574.50 L160.67,575.37 L163.48,576.23 L166.58,577.10 L169.76,577.97 L172.80,578.83 L175.47,579.70 L177.65,580.57 L179.31,581.43 L180.52,582.30 L181.44,583.17 L182.29,584.03 L183.32,584.90 L184.72,585.77 L186.61,586.63 L189.03,587.50 L191.89,588.37 L195.02,589.23 L198.20,590.10 L201.19,590.97 L203.79,591.83 L205.90,592.70 L207.48,593.57 L208.63,594.43 L209.52,595.30 L210.39,596.17 L211.46,597.03 L212.93,597.90 L214.91,598.77 L217.40,599.63 L220.32,600.50 L223.47,601.37 L226.63,602.23 L229.58,603.10 L231.02,604.50 L232.14,605.90 L232.94,607.30 L233.42,608.70 L233.58,610.10 M181.35,571.90 L182.34,572.77 L183.67,573.63 L185.48,574.50 L187.82,575.37 L190.63,576.23 L193.73,577.10 L196.91,577.97 L199.95,578.83 L202.62,579.70 L204.80,580.57 L206.46,581.43 L207.67,582.30 L208.59,583.17 L209.44,584.03 L210.47,584.90 L211.87,585.77 L213.76,586.63 L216.18,587.50 L219.04,588.37 L222.17,589.23 L225.35,590.10 L228.34,590.97 L230.94,591.83 L233.05,592.70 L234.63,593.57 L235.78,594.43 L236.67,595.30 L237.54,596.17 L238.61,597.03 L240.08,597.90 L242.06,598.77 L244.55,599.63 L247.47,600.50 L250.62,601.37 L253.78,602.23 L256.72,603.10 L258.16,604.50 L259.28,605.90 L260.08,607.30 L260.56,608.70 L260.72,610.10 M208.50,571.90 L209.49,572.77 L210.82,573.63 L212.63,574.50 L214.97,575.37 L217.78,576.23 L220.88,577.10 L224.06,577.97 L227.10,578.83 L229.77,579.70 L231.95,580.57 L233.61,581.43 L234.82,582.30 L235.74,583.17 L236.59,584.03 L237.62,584.90 L239.02,585.77 L240.91,586.63 L243.33,587.50 L246.19,588.37 L249.32,589.23 L252.50,590.10 L255.49,590.97 L258.09,591.83 L260.20,592.70 L261.78,593.57 L262.93,594.43 L263.82,595.30 L264.69,596.17 L265.76,597.03 L267.23,597.90 L269.21,598.77 L271.70,599.63 L274.62,600.50 L277.77,601.37 L280.93,602.23 L283.88,603.10 L285.31,604.50 L286.44,605.90 L287.24,607.30 L287.71,608.70 L287.88,610.10 M235.65,571.90 L236.64,572.77 L237.97,573.63 L239.78,574.50 L242.12,575.37 L244.93,576.23 L248.03,577.10 L251.21,577.97 L254.25,578.83 L256.92,579.70 L259.10,580.57 L260.76,581.43 L261.97,582.30 L262.89,583.17 L263.74,584.03 L264.77,584.90 L266.17,585.77 L268.06,586.63 L270.48,587.50 L273.34,588.37 L276.47,589.23 L279.65,590.10 L282.64,590.97 L285.24,591.83 L287.35,592.70 L288.93,593.57 L290.08,594.43 L290.97,595.30 L291.84,596.17 L292.91,597.03 L294.38,597.90 L296.36,598.77 L298.85,599.63 L301.77,600.50 L304.92,601.37 L308.08,602.23 L311.02,603.10 L312.46,604.50 L313.58,605.90 L314.38,607.30 L314.86,608.70 L315.02,610.10 M262.80,571.90 L263.79,572.77 L265.12,573.63 L266.93,574.50 L269.27,575.37 L272.08,576.23 L275.18,577.10 L278.36,577.97 L281.40,578.83 L284.07,579.70 L286.25,580.57 L287.91,581.43 L289.12,582.30 L290.04,583.17 L290.89,584.03 L291.92,584.90 L293.32,585.77 L295.21,586.63 L297.63,587.50 L300.49,588.37 L303.62,589.23 L306.80,590.10 L309.79,590.97 L312.39,591.83 L314.50,592.70 L316.08,593.57 L317.23,594.43 L318.12,595.30 L318.99,596.17 L320.06,597.03 L321.53,597.90 L323.51,598.77 L326.00,599.63 L328.92,600.50 L332.07,601.37 L335.23,602.23 L338.17,603.10 L339.61,604.50 L340.73,605.90 L341.53,607.30 L342.01,608.70 L342.17,610.10 M289.95,571.90 L290.94,572.77 L292.27,573.63 L294.08,574.50 L296.42,575.37 L299.23,576.23 L302.33,577.10 L305.51,577.97 L308.55,578.83 L311.22,579.70 L313.40,580.57 L315.06,581.43 L316.27,582.30 L317.19,583.17 L318.04,584.03 L319.07,584.90 L320.47,585.77 L322.36,586.63 L324.78,587.50 L327.64,588.37 L330.77,589.23 L333.95,590.10 L336.94,590.97 L339.54,591.83 L341.65,592.70 L343.23,593.57 L344.38,594.43 L345.27,595.30 L346.14,596.17 L347.21,597.03 L348.68,597.90 L350.66,598.77 L353.15,599.63 L356.07,600.50 L359.22,601.37 L362.38,602.23 L365.32,603.10 L366.76,604.50 L367.88,605.90 L368.69,607.30 L369.16,608.70 L369.32,610.10 M317.10,571.90 L318.09,572.77 L319.42,573.63 L321.23,574.50 L323.57,575.37 L326.38,576.23 L329.48,577.10 L332.66,577.97 L335.70,578.83 L338.37,579.70 L340.55,580.57 L342.21,581.43 L343.42,582.30 L344.34,583.17 L345.19,584.03 L346.22,584.90 L347.62,585.77 L349.51,586.63 L351.93,587.50 L354.79,588.37 L357.92,589.23 L361.10,590.10 L364.09,590.97 L366.69,591.83 L368.80,592.70 L370.38,593.57 L371.53,594.43 L372.42,595.30 L373.29,596.17 L374.36,597.03 L375.83,597.90 L377.81,598.77 L380.30,599.63 L383.22,600.50 L386.37,601.37 L389.53,602.23 L392.47,603.10 L393.91,604.50 L395.03,605.90 L395.83,607.30 L396.31,608.70 L396.47,610.10 M344.25,571.90 L345.24,572.77 L346.57,573.63 L348.38,574.50 L350.72,575.37 L353.53,576.23 L356.63,577.10 L359.81,577.97 L362.85,578.83 L365.52,579.70 L367.70,580.57 L369.36,581.43 L370.57,582.30 L371.49,583.17 L372.34,584.03 L373.37,584.90 L374.77,585.77 L376.66,586.63 L379.08,587.50 L381.94,588.37 L385.07,589.23 L388.25,590.10 L391.24,590.97 L393.84,591.83 L395.95,592.70 L397.53,593.57 L398.68,594.43 L399.57,595.30 L400.44,596.17 L401.51,597.03 L402.98,597.90 L404.96,598.77 L407.45,599.63 L410.37,600.50 L413.52,601.37 L416.68,602.23 L419.62,603.10 L421.06,604.50 L422.18,605.90 L422.98,607.30 L423.46,608.70 L423.62,610.10 M371.40,571.90 L372.39,572.77 L373.72,573.63 L375.53,574.50 L377.87,575.37 L380.68,576.23 L383.78,577.10 L386.96,577.97 L390.00,578.83 L392.67,579.70 L394.85,580.57 L396.51,581.43 L397.72,582.30 L398.64,583.17 L399.49,584.03 L400.52,584.90 L401.92,585.77 L403.81,586.63 L406.23,587.50 L409.09,588.37 L412.22,589.23 L415.40,590.10 L418.39,590.97 L420.99,591.83 L423.10,592.70 L424.68,593.57 L425.83,594.43 L426.72,595.30 L427.59,596.17 L428.66,597.03 L430.13,597.90 L432.11,598.77 L434.60,599.63 L437.52,600.50 L440.67,601.37 L443.83,602.23 L446.77,603.10 L448.21,604.50 L449.33,605.90 L450.13,607.30 L450.61,608.70 L450.77,610.10 M398.55,571.90 L399.54,572.77 L400.87,573.63 L402.68,574.50 L405.02,575.37 L407.83,576.23 L410.93,577.10 L414.11,577.97 L417.15,578.83 L419.82,579.70 L422.00,580.57 L423.66,581.43 L424.87,582.30 L425.79,583.17 L426.64,584.03 L427.67,584.90 L429.07,585.77 L430.96,586.63 L433.38,587.50 L436.24,588.37 L439.37,589.23 L442.55,590.10 L445.54,590.97 L448.14,591.83 L450.25,592.70 L451.83,593.57 L452.98,594.43 L453.87,595.30 L454.74,596.17 L455.81,597.03 L457.28,597.90 L459.26,598.77 L461.75,599.63 L464.67,600.50 L467.82,601.37 L470.98,602.23 L473.92,603.10 L475.36,604.50 L476.48,605.90 L477.28,607.30 L477.76,608.70 L477.92,610.10 M425.70,571.90 L426.69,572.77 L428.02,573.63 L429.83,574.50 L432.17,575.37 L434.98,576.23 L438.08,577.10 L441.26,577.97 L444.30,578.83 L446.97,579.70 L449.15,580.57 L450.81,581.43 L452.02,582.30 L452.94,583.17 L453.79,584.03 L454.82,584.90 L456.22,585.77 L458.11,586.63 L460.53,587.50 L463.39,588.37 L466.52,589.23 L469.70,590.10 L472.69,590.97 L475.29,591.83 L477.40,592.70 L478.98,593.57 L480.13,594.43 L481.02,595.30 L481.89,596.17 L482.96,597.03 L484.43,597.90 L486.41,598.77 L488.90,599.63 L491.82,600.50 L494.97,601.37 L498.13,602.23 L501.07,603.10 L502.51,604.50 L503.63,605.90 L504.44,607.30 L504.91,608.70 L505.07,610.10 M452.85,571.90 L453.84,572.77 L455.17,573.63 L456.98,574.50 L459.32,575.37 L462.13,576.23 L465.23,577.10 L468.41,577.97 L471.45,578.83 L474.12,579.70 L476.30,580.57 L477.96,581.43 L479.17,582.30 L480.09,583.17 L480.94,584.03 L481.97,584.90 L483.37,585.77 L485.26,586.63 L487.68,587.50 L490.54,588.37 L493.67,589.23 L496.85,590.10 L499.84,590.97 L502.44,591.83 L504.55,592.70 L506.13,593.57 L507.28,594.43 L508.17,595.30 L509.04,596.17 L510.11,597.03 L511.58,597.90 L513.56,598.77 L516.05,599.63 L518.97,600.50 L522.12,601.37 L525.28,602.23 L528.23,603.10 L529.67,604.50 L530.78,605.90 L531.59,607.30 L532.07,608.70 L532.23,610.10" stroke="#8c8c8c" stroke-width="2.1" fill="none"/><path d="M99.90,571.90 L100.89,572.77 L102.22,573.63 L104.03,574.50 L106.37,575.37 L109.18,576.23 L112.28,577.10 L115.46,577.97 L118.50,578.83 L121.17,579.70 L123.35,580.57 L125.01,581.43 L126.22,582.30 L127.14,583.17 L127.99,584.03 L129.02,584.90 L130.42,585.77 L132.31,586.63 L134.73,587.50 L137.59,588.37 L140.72,589.23 L143.90,590.10 L146.89,590.97 L149.49,591.83 L151.60,592.70 L153.18,593.57 L154.33,594.43 L155.22,595.30 L156.09,596.17 L157.16,597.03 L158.63,597.90 L160.61,598.77 L163.10,599.63 L166.02,600.50 L169.17,601.37 L172.33,602.23 L175.28,603.10 L176.72,604.50 L177.84,605.90 L178.64,607.30 L179.12,608.70 L179.28,610.10 M127.05,571.90 L128.04,572.77 L129.37,573.63 L131.18,574.50 L133.52,575.37 L136.33,576.23 L139.43,577.10 L142.61,577.97 L145.65,578.83 L148.32,579.70 L150.50,580.57 L152.16,581.43 L153.37,582.30 L154.29,583.17 L155.14,584.03 L156.17,584.90 L157.57,585.77 L159.46,586.63 L161.88,587.50 L164.74,588.37 L167.87,589.23 L171.05,590.10 L174.04,590.97 L176.64,591.83 L178.75,592.70 L180.33,593.57 L181.48,594.43 L182.37,595.30 L183.24,596.17 L184.31,597.03 L185.78,597.90 L187.76,598.77 L190.25,599.63 L193.17,600.50 L196.32,601.37 L199.48,602.23 L202.43,603.10 L203.87,604.50 L204.99,605.90 L205.79,607.30 L206.27,608.70 L206.43,610.10 M154.20,571.90 L155.19,572.77 L156.52,573.63 L158.33,574.50 L160.67,575.37 L163.48,576.23 L166.58,577.10 L169.76,577.97 L172.80,578.83 L175.47,579.70 L177.65,580.57 L179.31,581.43 L180.52,582.30 L181.44,583.17 L182.29,584.03 L183.32,584.90 L184.72,585.77 L186.61,586.63 L189.03,587.50 L191.89,588.37 L195.02,589.23 L198.20,590.10 L201.19,590.97 L203.79,591.83 L205.90,592.70 L207.48,593.57 L208.63,594.43 L209.52,595.30 L210.39,596.17 L211.46,597.03 L212.93,597.90 L214.91,598.77 L217.40,599.63 L220.32,600.50 L223.47,601.37 L226.63,602.23 L229.58,603.10 L231.02,604.50 L232.14,605.90 L232.94,607.30 L233.42,608.70 L233.58,610.10 M181.35,571.90 L182.34,572.77 L183.67,573.63 L185.48,574.50 L187.82,575.37 L190.63,576.23 L193.73,577.10 L196.91,577.97 L199.95,578.83 L202.62,579.70 L204.80,580.57 L206.46,581.43 L207.67,582.30 L208.59,583.17 L209.44,584.03 L210.47,584.90 L211.87,585.77 L213.76,586.63 L216.18,587.50 L219.04,588.37 L222.17,589.23 L225.35,590.10 L228.34,590.97 L230.94,591.83 L233.05,592.70 L234.63,593.57 L235.78,594.43 L236.67,595.30 L237.54,596.17 L238.61,597.03 L240.08,597.90 L242.06,598.77 L244.55,599.63 L247.47,600.50 L250.62,601.37 L253.78,602.23 L256.72,603.10 L258.16,604.50 L259.28,605.90 L260.08,607.30 L260.56,608.70 L260.72,610.10 M208.50,571.90 L209.49,572.77 L210.82,573.63 L212.63,574.50 L214.97,575.37 L217.78,576.23 L220.88,577.10 L224.06,577.97 L227.10,578.83 L229.77,579.70 L231.95,580.57 L233.61,581.43 L234.82,582.30 L235.74,583.17 L236.59,584.03 L237.62,584.90 L239.02,585.77 L240.91,586.63 L243.33,587.50 L246.19,588.37 L249.32,589.23 L252.50,590.10 L255.49,590.97 L258.09,591.83 L260.20,592.70 L261.78,593.57 L262.93,594.43 L263.82,595.30 L264.69,596.17 L265.76,597.03 L267.23,597.90 L269.21,598.77 L271.70,599.63 L274.62,600.50 L277.77,601.37 L280.93,602.23 L283.88,603.10 L285.31,604.50 L286.44,605.90 L287.24,607.30 L287.71,608.70 L287.88,610.10 M235.65,571.90 L236.64,572.77 L237.97,573.63 L239.78,574.50 L242.12,575.37 L244.93,576.23 L248.03,577.10 L251.21,577.97 L254.25,578.83 L256.92,579.70 L259.10,580.57 L260.76,581.43 L261.97,582.30 L262.89,583.17 L263.74,584.03 L264.77,584.90 L266.17,585.77 L268.06,586.63 L270.48,587.50 L273.34,588.37 L276.47,589.23 L279.65,590.10 L282.64,590.97 L285.24,591.83 L287.35,592.70 L288.93,593.57 L290.08,594.43 L290.97,595.30 L291.84,596.17 L292.91,597.03 L294.38,597.90 L296.36,598.77 L298.85,599.63 L301.77,600.50 L304.92,601.37 L308.08,602.23 L311.02,603.10 L312.46,604.50 L313.58,605.90 L314.38,607.30 L314.86,608.70 L315.02,610.10 M262.80,571.90 L263.79,572.77 L265.12,573.63 L266.93,574.50 L269.27,575.37 L272.08,576.23 L275.18,577.10 L278.36,577.97 L281.40,578.83 L284.07,579.70 L286.25,580.57 L287.91,581.43 L289.12,582.30 L290.04,583.17 L290.89,584.03 L291.92,584.90 L293.32,585.77 L295.21,586.63 L297.63,587.50 L300.49,588.37 L303.62,589.23 L306.80,590.10 L309.79,590.97 L312.39,591.83 L314.50,592.70 L316.08,593.57 L317.23,594.43 L318.12,595.30 L318.99,596.17 L320.06,597.03 L321.53,597.90 L323.51,598.77 L326.00,599.63 L328.92,600.50 L332.07,601.37 L335.23,602.23 L338.17,603.10 L339.61,604.50 L340.73,605.90 L341.53,607.30 L342.01,608.70 L342.17,610.10 M289.95,571.90 L290.94,572.77 L292.27,573.63 L294.08,574.50 L296.42,575.37 L299.23,576.23 L302.33,577.10 L305.51,577.97 L308.55,578.83 L311.22,579.70 L313.40,580.57 L315.06,581.43 L316.27,582.30 L317.19,583.17 L318.04,584.03 L319.07,584.90 L320.47,585.77 L322.36,586.63 L324.78,587.50 L327.64,588.37 L330.77,589.23 L333.95,590.10 L336.94,590.97 L339.54,591.83 L341.65,592.70 L343.23,593.57 L344.38,594.43 L345.27,595.30 L346.14,596.17 L347.21,597.03 L348.68,597.90 L350.66,598.77 L353.15,599.63 L356.07,600.50 L359.22,601.37 L362.38,602.23 L365.32,603.10 L366.76,604.50 L367.88,605.90 L368.69,607.30 L369.16,608.70 L369.32,610.10 M317.10,571.90 L318.09,572.77 L319.42,573.63 L321.23,574.50 L323.57,575.37 L326.38,576.23 L329.48,577.10 L332.66,577.97 L335.70,578.83 L338.37,579.70 L340.55,580.57 L342.21,581.43 L343.42,582.30 L344.34,583.17 L345.19,584.03 L346.22,584.90 L347.62,585.77 L349.51,586.63 L351.93,587.50 L354.79,588.37 L357.92,589.23 L361.10,590.10 L364.09,590.97 L366.69,591.83 L368.80,592.70 L370.38,593.57 L371.53,594.43 L372.42,595.30 L373.29,596.17 L374.36,597.03 L375.83,597.90 L377.81,598.77 L380.30,599.63 L383.22,600.50 L386.37,601.37 L389.53,602.23 L392.47,603.10 L393.91,604.50 L395.03,605.90 L395.83,607.30 L396.31,608.70 L396.47,610.10 M344.25,571.90 L345.24,572.77 L346.57,573.63 L348.38,574.50 L350.72,575.37 L353.53,576.23 L356.63,577.10 L359.81,577.97 L362.85,578.83 L365.52,579.70 L367.70,580.57 L369.36,581.43 L370.57,582.30 L371.49,583.17 L372.34,584.03 L373.37,584.90 L374.77,585.77 L376.66,586.63 L379.08,587.50 L381.94,588.37 L385.07,589.23 L388.25,590.10 L391.24,590.97 L393.84,591.83 L395.95,592.70 L397.53,593.57 L398.68,594.43 L399.57,595.30 L400.44,596.17 L401.51,597.03 L402.98,597.90 L404.96,598.77 L407.45,599.63 L410.37,600.50 L413.52,601.37 L416.68,602.23 L419.62,603.10 L421.06,604.50 L422.18,605.90 L422.98,607.30 L423.46,608.70 L423.62,610.10 M371.40,571.90 L372.39,572.77 L373.72,573.63 L375.53,574.50 L377.87,575.37 L380.68,576.23 L383.78,577.10 L386.96,577.97 L390.00,578.83 L392.67,579.70 L394.85,580.57 L396.51,581.43 L397.72,582.30 L398.64,583.17 L399.49,584.03 L400.52,584.90 L401.92,585.77 L403.81,586.63 L406.23,587.50 L409.09,588.37 L412.22,589.23 L415.40,590.10 L418.39,590.97 L420.99,591.83 L423.10,592.70 L424.68,593.57 L425.83,594.43 L426.72,595.30 L427.59,596.17 L428.66,597.03 L430.13,597.90 L432.11,598.77 L434.60,599.63 L437.52,600.50 L440.67,601.37 L443.83,602.23 L446.77,603.10 L448.21,604.50 L449.33,605.90 L450.13,607.30 L450.61,608.70 L450.77,610.10 M398.55,571.90 L399.54,572.77 L400.87,573.63 L402.68,574.50 L405.02,575.37 L407.83,576.23 L410.93,577.10 L414.11,577.97 L417.15,578.83 L419.82,579.70 L422.00,580.57 L423.66,581.43 L424.87,582.30 L425.79,583.17 L426.64,584.03 L427.67,584.90 L429.07,585.77 L430.96,586.63 L433.38,587.50 L436.24,588.37 L439.37,589.23 L442.55,590.10 L445.54,590.97 L448.14,591.83 L450.25,592.70 L451.83,593.57 L452.98,594.43 L453.87,595.30 L454.74,596.17 L455.81,597.03 L457.28,597.90 L459.26,598.77 L461.75,599.63 L464.67,600.50 L467.82,601.37 L470.98,602.23 L473.92,603.10 L475.36,604.50 L476.48,605.90 L477.28,607.30 L477.76,608.70 L477.92,610.10 M425.70,571.90 L426.69,572.77 L428.02,573.63 L429.83,574.50 L432.17,575.37 L434.98,576.23 L438.08,577.10 L441.26,577.97 L444.30,578.83 L446.97,579.70 L449.15,580.57 L450.81,581.43 L452.02,582.30 L452.94,583.17 L453.79,584.03 L454.82,584.90 L456.22,585.77 L458.11,586.63 L460.53,587.50 L463.39,588.37 L466.52,589.23 L469.70,590.10 L472.69,590.97 L475.29,591.83 L477.40,592.70 L478.98,593.57 L480.13,594.43 L481.02,595.30 L481.89,596.17 L482.96,597.03 L484.43,597.90 L486.41,598.77 L488.90,599.63 L491.82,600.50 L494.97,601.37 L498.13,602.23 L501.07,603.10 L502.51,604.50 L503.63,605.90 L504.44,607.30 L504.91,608.70 L505.07,610.10 M452.85,571.90 L453.84,572.77 L455.17,573.63 L456.98,574.50 L459.32,575.37 L462.13,576.23 L465.23,577.10 L468.41,577.97 L471.45,578.83 L474.12,579.70 L476.30,580.57 L477.96,581.43 L479.17,582.30 L480.09,583.17 L480.94,584.03 L481.97,584.90 L483.37,585.77 L485.26,586.63 L487.68,587.50 L490.54,588.37 L493.67,589.23 L496.85,590.10 L499.84,590.97 L502.44,591.83 L504.55,592.70 L506.13,593.57 L507.28,594.43 L508.17,595.30 L509.04,596.17 L510.11,597.03 L511.58,597.90 L513.56,598.77 L516.05,599.63 L518.97,600.50 L522.12,601.37 L525.28,602.23 L528.23,603.10 L529.67,604.50 L530.78,605.90 L531.59,607.30 L532.07,608.70 L532.23,610.10" stroke="#8c8c8c" stroke-width="5.0" fill="none" clip-path="url(#cp3)"/><rect x="243.0" y="607.5" width="206.5" height="1.6" fill="#000" fill-opacity="0.4"/><rect x="243.0" y="571.9" width="206.5" height="1.2" fill="#000" fill-opacity="0.35"/><path d="M155.88,609.50 L175.53,609.50 C175.53,613.25 172.81,617.30 171.81,618.38 Q170.61,619.10 165.70,619.10 Q160.79,619.10 159.59,618.38 C158.59,617.30 155.88,613.25 155.88,609.50 Z" fill="#e50000"/><path d="M183.03,609.50 L202.68,609.50 C202.68,613.60 199.96,618.10 198.96,619.30 Q197.76,620.10 192.85,620.10 Q187.94,620.10 186.74,619.30 C185.74,618.10 183.03,613.60 183.03,609.50 Z" fill="#0000e5"/><path d="M210.18,609.50 L229.82,609.50 C229.82,613.25 227.11,617.30 226.11,618.38 Q224.91,619.10 220.00,619.10 Q215.09,619.10 213.89,618.38 C212.89,617.30 210.18,613.25 210.18,609.50 Z" fill="#e50000"/><path d="M237.33,609.50 L256.98,609.50 C256.98,613.60 254.26,618.10 253.26,619.30 Q252.06,620.10 247.15,620.10 Q242.24,620.10 241.04,619.30 C240.04,618.10 237.33,613.60 237.33,609.50 Z" fill="#0000e5"/><path d="M264.48,609.50 L284.12,609.50 C284.12,613.25 281.41,617.30 280.41,618.38 Q279.21,619.10 274.30,619.10 Q269.39,619.10 268.19,618.38 C267.19,617.30 264.48,613.25 264.48,609.50 Z" fill="#e50000"/><path d="M291.62,609.50 L311.27,609.50 C311.27,613.60 308.56,618.10 307.56,619.30 Q306.36,620.10 301.45,620.10 Q296.54,620.10 295.34,619.30 C294.34,618.10 291.62,613.60 291.62,609.50 Z" fill="#0000e5"/><path d="M318.78,609.50 L338.43,609.50 C338.43,613.25 335.71,617.30 334.71,618.38 Q333.51,619.10 328.60,619.10 Q323.69,619.10 322.49,618.38 C321.49,617.30 318.78,613.25 318.78,609.50 Z" fill="#e50000"/><path d="M345.93,609.50 L365.57,609.50 C365.57,613.60 362.86,618.10 361.86,619.30 Q360.66,620.10 355.75,620.10 Q350.84,620.10 349.64,619.30 C348.64,618.10 345.93,613.60 345.93,609.50 Z" fill="#0000e5"/><path d="M373.07,609.50 L392.72,609.50 C392.72,613.25 390.01,617.30 389.01,618.38 Q387.81,619.10 382.90,619.10 Q377.99,619.10 376.79,618.38 C375.79,617.30 373.07,613.25 373.07,609.50 Z" fill="#e50000"/><path d="M400.22,609.50 L419.87,609.50 C419.87,613.60 417.16,618.10 416.16,619.30 Q414.96,620.10 410.05,620.10 Q405.14,620.10 403.94,619.30 C402.94,618.10 400.22,613.60 400.22,609.50 Z" fill="#0000e5"/><path d="M427.38,609.50 L447.02,609.50 C447.02,613.25 444.31,617.30 443.31,618.38 Q442.11,619.10 437.20,619.10 Q432.29,619.10 431.09,618.38 C430.09,617.30 427.38,613.25 427.38,609.50 Z" fill="#e50000"/><path d="M454.52,609.50 L474.17,609.50 C474.17,613.60 471.46,618.10 470.46,619.30 Q469.26,620.10 464.35,620.10 Q459.44,620.10 458.24,619.30 C457.24,618.10 454.52,613.60 454.52,609.50 Z" fill="#0000e5"/><path d="M481.68,609.50 L501.32,609.50 C501.32,613.25 498.61,617.30 497.61,618.38 Q496.41,619.10 491.50,619.10 Q486.59,619.10 485.39,618.38 C484.39,617.30 481.68,613.25 481.68,609.50 Z" fill="#e50000"/><path d="M508.82,609.50 L528.48,609.50 C528.48,613.60 525.76,618.10 524.76,619.30 Q523.56,620.10 518.65,620.10 Q513.74,620.10 512.54,619.30 C511.54,618.10 508.82,613.60 508.82,609.50 Z" fill="#0000e5"/><path d="M146.70,571.90 L146.70,571.10 L147.10,561.42 L149.00,554.16 L151.60,548.59 L153.00,546.90 L167.00,546.90 L168.60,548.35 L169.80,554.89 L171.80,560.21 L172.50,565.05 L172.50,571.10 L172.50,571.90 Z" fill="#0000e5" stroke="#0000e5" stroke-width="0.4" stroke-linejoin="round"/><path d="M173.85,571.90 L173.85,571.10 L174.25,561.42 L176.15,554.16 L178.75,548.59 L180.15,546.90 L194.15,546.90 L195.75,548.35 L196.95,554.89 L198.95,560.21 L199.65,565.05 L199.65,571.10 L199.65,571.90 Z" fill="#e50000" stroke="#e50000" stroke-width="0.4" stroke-linejoin="round"/><path d="M201.00,571.90 L201.00,571.10 L201.40,561.42 L203.30,554.16 L205.90,548.59 L207.30,546.90 L221.30,546.90 L222.90,548.35 L224.10,554.89 L226.10,560.21 L226.80,565.05 L226.80,571.10 L226.80,571.90 Z" fill="#0000e5" stroke="#0000e5" stroke-width="0.4" stroke-linejoin="round"/><path d="M228.15,571.90 L228.15,571.10 L228.55,561.42 L230.45,554.16 L233.05,548.59 L234.45,546.90 L248.45,546.90 L250.05,548.35 L251.25,554.89 L253.25,560.21 L253.95,565.05 L253.95,571.10 L253.95,571.90 Z" fill="#e50000" stroke="#e50000" stroke-width="0.4" stroke-linejoin="round"/><path d="M255.30,571.90 L255.30,571.10 L255.70,561.42 L257.60,554.16 L260.20,548.59 L261.60,546.90 L275.60,546.90 L277.20,548.35 L278.40,554.89 L280.40,560.21 L281.10,565.05 L281.10,571.10 L281.10,571.90 Z" fill="#0000e5" stroke="#0000e5" stroke-width="0.4" stroke-linejoin="round"/><path d="M282.45,571.90 L282.45,571.10 L282.85,561.42 L284.75,554.16 L287.35,548.59 L288.75,546.90 L302.75,546.90 L304.35,548.35 L305.55,554.89 L307.55,560.21 L308.25,565.05 L308.25,571.10 L308.25,571.90 Z" fill="#e50000" stroke="#e50000" stroke-width="0.4" stroke-linejoin="round"/><path d="M309.60,571.90 L309.60,571.10 L310.00,561.42 L311.90,554.16 L314.50,548.59 L315.90,546.90 L329.90,546.90 L331.50,548.35 L332.70,554.89 L334.70,560.21 L335.40,565.05 L335.40,571.10 L335.40,571.90 Z" fill="#0000e5" stroke="#0000e5" stroke-width="0.4" stroke-linejoin="round"/><path d="M336.75,571.90 L336.75,571.10 L337.15,561.42 L339.05,554.16 L341.65,548.59 L343.05,546.90 L357.05,546.90 L358.65,548.35 L359.85,554.89 L361.85,560.21 L362.55,565.05 L362.55,571.10 L362.55,571.90 Z" fill="#e50000" stroke="#e50000" stroke-width="0.4" stroke-linejoin="round"/><path d="M363.90,571.90 L363.90,571.10 L364.30,561.42 L366.20,554.16 L368.80,548.59 L370.20,546.90 L384.20,546.90 L385.80,548.35 L387.00,554.89 L389.00,560.21 L389.70,565.05 L389.70,571.10 L389.70,571.90 Z" fill="#0000e5" stroke="#0000e5" stroke-width="0.4" stroke-linejoin="round"/><path d="M391.05,571.90 L391.05,571.10 L391.45,561.42 L393.35,554.16 L395.95,548.59 L397.35,546.90 L411.35,546.90 L412.95,548.35 L414.15,554.89 L416.15,560.21 L416.85,565.05 L416.85,571.10 L416.85,571.90 Z" fill="#e50000" stroke="#e50000" stroke-width="0.4" stroke-linejoin="round"/><path d="M418.20,571.90 L418.20,571.10 L418.60,561.42 L420.50,554.16 L423.10,548.59 L424.50,546.90 L438.50,546.90 L440.10,548.35 L441.30,554.89 L443.30,560.21 L444.00,565.05 L444.00,571.10 L444.00,571.90 Z" fill="#0000e5" stroke="#0000e5" stroke-width="0.4" stroke-linejoin="round"/><path d="M445.35,571.90 L445.35,571.10 L445.75,561.42 L447.65,554.16 L450.25,548.59 L451.65,546.90 L465.65,546.90 L467.25,548.35 L468.45,554.89 L470.45,560.21 L471.15,565.05 L471.15,571.10 L471.15,571.90 Z" fill="#e50000" stroke="#e50000" stroke-width="0.4" stroke-linejoin="round"/><path d="M472.50,571.90 L472.50,571.10 L472.90,561.42 L474.80,554.16 L477.40,548.59 L478.80,546.90 L492.80,546.90 L494.40,548.35 L495.60,554.89 L497.60,560.21 L498.30,565.05 L498.30,571.10 L498.30,571.90 Z" fill="#0000e5" stroke="#0000e5" stroke-width="0.4" stroke-linejoin="round"/><path d="M499.65,571.90 L499.65,571.10 L500.05,561.42 L501.95,554.16 L504.55,548.59 L505.95,546.90 L519.95,546.90 L521.55,548.35 L522.75,554.89 L524.75,560.21 L525.45,565.05 L525.45,571.10 L525.45,571.90 Z" fill="#e50000" stroke="#e50000" stroke-width="0.4" stroke-linejoin="round"/><path d="M244.5,561.0 H435.5" stroke="#ffe500" stroke-width="1.9" stroke-dasharray="7.2 6"/><path d="M437.0,557.1 L448.5,561.0 L437.0,564.9 Z" fill="#ffe500"/><path d="M430.5,561.0 H439.5" stroke="#ffe500" stroke-width="1.9"/><text x="424.5" y="557.7" font-size="11.5" fill="#ffe500">e</text><rect x="432.0" y="551.0" width="2.3" height="1.0" fill="#ffe500"/></g><clipPath id="cp4"><rect x="453.8" y="546.4" width="205.6" height="77.4"/></clipPath><g clip-path="url(#cp4)"><rect x="453.8" y="546.4" width="205.6" height="77.4" fill="#e3e3e3"/><rect x="453.8" y="572.60" width="205.6" height="1.36" fill="#929292"/><rect x="453.8" y="573.90" width="205.6" height="1.36" fill="#7e7e7e"/><rect x="453.8" y="575.20" width="205.6" height="1.36" fill="#626262"/><rect x="453.8" y="576.50" width="205.6" height="1.36" fill="#8c8c8c"/><rect x="453.8" y="577.80" width="205.6" height="1.36" fill="#a2a2a2"/><rect x="453.8" y="579.10" width="205.6" height="1.36" fill="#727272"/><rect x="453.8" y="580.40" width="205.6" height="1.36" fill="#4e4e4e"/><rect x="453.8" y="581.70" width="205.6" height="1.36" fill="#868686"/><rect x="453.8" y="583.00" width="205.6" height="1.36" fill="#929292"/><rect x="453.8" y="584.30" width="205.6" height="1.36" fill="#7e7e7e"/><rect x="453.8" y="585.60" width="205.6" height="1.36" fill="#626262"/><rect x="453.8" y="586.90" width="205.6" height="1.36" fill="#8c8c8c"/><rect x="453.8" y="588.20" width="205.6" height="1.36" fill="#a2a2a2"/><rect x="453.8" y="589.50" width="205.6" height="1.36" fill="#727272"/><rect x="453.8" y="590.80" width="205.6" height="1.36" fill="#4e4e4e"/><rect x="453.8" y="592.10" width="205.6" height="1.36" fill="#868686"/><rect x="453.8" y="593.40" width="205.6" height="1.36" fill="#929292"/><rect x="453.8" y="594.70" width="205.6" height="1.36" fill="#7e7e7e"/><rect x="453.8" y="596.00" width="205.6" height="1.36" fill="#626262"/><rect x="453.8" y="597.30" width="205.6" height="1.36" fill="#8c8c8c"/><rect x="453.8" y="598.60" width="205.6" height="1.36" fill="#a2a2a2"/><rect x="453.8" y="599.90" width="205.6" height="1.36" fill="#727272"/><rect x="453.8" y="601.20" width="205.6" height="1.36" fill="#4e4e4e"/><rect x="453.8" y="602.50" width="205.6" height="1.36" fill="#868686"/><rect x="453.8" y="603.80" width="205.6" height="1.36" fill="#929292"/><rect x="453.8" y="605.10" width="205.6" height="1.36" fill="#7e7e7e"/><rect x="453.8" y="606.40" width="205.6" height="1.36" fill="#626262"/><rect x="453.8" y="607.70" width="205.6" height="1.36" fill="#8c8c8c"/><rect x="453.8" y="609.00" width="205.6" height="1.36" fill="#a2a2a2"/><rect x="453.8" y="610.30" width="205.6" height="1.36" fill="#727272"/><path d="M397.50,572.10 L412.80,572.10 L429.26,591.30 C430.46,594.30 432.06,599.20 431.26,602.20 C426.26,600.70 417.96,594.80 413.96,591.30 Z" fill="#000088" stroke="#8c8c8c" stroke-width="0.7" stroke-linejoin="round"/><path d="M414.10,572.10 L429.40,572.10 L445.86,591.30 C447.06,594.30 448.66,598.40 447.86,601.40 C442.86,599.90 434.56,594.80 430.56,591.30 Z" fill="#860000" stroke="#8c8c8c" stroke-width="0.7" stroke-linejoin="round"/><path d="M430.70,572.10 L446.00,572.10 L462.46,591.30 C463.66,594.30 465.26,599.20 464.46,602.20 C459.46,600.70 451.16,594.80 447.16,591.30 Z" fill="#000088" stroke="#8c8c8c" stroke-width="0.7" stroke-linejoin="round"/><path d="M447.30,572.10 L462.60,572.10 L479.06,591.30 C480.26,594.30 481.86,598.40 481.06,601.40 C476.06,599.90 467.76,594.80 463.76,591.30 Z" fill="#860000" stroke="#8c8c8c" stroke-width="0.7" stroke-linejoin="round"/><path d="M463.90,572.10 L479.20,572.10 L495.66,591.30 C496.86,594.30 498.46,599.20 497.66,602.20 C492.66,600.70 484.36,594.80 480.36,591.30 Z" fill="#000088" stroke="#8c8c8c" stroke-width="0.7" stroke-linejoin="round"/><path d="M480.50,572.10 L495.80,572.10 L512.26,591.30 C513.46,594.30 515.06,598.40 514.26,601.40 C509.26,599.90 500.96,594.80 496.96,591.30 Z" fill="#860000" stroke="#8c8c8c" stroke-width="0.7" stroke-linejoin="round"/><path d="M497.10,572.10 L512.40,572.10 L528.86,591.30 C530.06,594.30 531.66,599.20 530.86,602.20 C525.86,600.70 517.56,594.80 513.56,591.30 Z" fill="#000088" stroke="#8c8c8c" stroke-width="0.7" stroke-linejoin="round"/><path d="M513.70,572.10 L529.00,572.10 L545.46,591.30 C546.66,594.30 548.26,598.40 547.46,601.40 C542.46,599.90 534.16,594.80 530.16,591.30 Z" fill="#860000" stroke="#8c8c8c" stroke-width="0.7" stroke-linejoin="round"/><path d="M530.30,572.10 L545.60,572.10 L562.06,591.30 C563.26,594.30 564.86,599.20 564.06,602.20 C559.06,600.70 550.76,594.80 546.76,591.30 Z" fill="#000088" stroke="#8c8c8c" stroke-width="0.7" stroke-linejoin="round"/><path d="M546.90,572.10 L562.20,572.10 L578.66,591.30 C579.86,594.30 581.46,598.40 580.66,601.40 C575.66,599.90 567.36,594.80 563.36,591.30 Z" fill="#860000" stroke="#8c8c8c" stroke-width="0.7" stroke-linejoin="round"/><path d="M563.50,572.10 L578.80,572.10 L595.26,591.30 C596.46,594.30 598.06,599.20 597.26,602.20 C592.26,600.70 583.96,594.80 579.96,591.30 Z" fill="#000088" stroke="#8c8c8c" stroke-width="0.7" stroke-linejoin="round"/><path d="M580.10,572.10 L595.40,572.10 L611.86,591.30 C613.06,594.30 614.66,598.40 613.86,601.40 C608.86,599.90 600.56,594.80 596.56,591.30 Z" fill="#860000" stroke="#8c8c8c" stroke-width="0.7" stroke-linejoin="round"/><path d="M596.70,572.10 L612.00,572.10 L628.46,591.30 C629.66,594.30 631.26,599.20 630.46,602.20 C625.46,600.70 617.16,594.80 613.16,591.30 Z" fill="#000088" stroke="#8c8c8c" stroke-width="0.7" stroke-linejoin="round"/><path d="M613.30,572.10 L628.60,572.10 L645.06,591.30 C646.26,594.30 647.86,598.40 647.06,601.40 C642.06,599.90 633.76,594.80 629.76,591.30 Z" fill="#860000" stroke="#8c8c8c" stroke-width="0.7" stroke-linejoin="round"/><path d="M629.90,572.10 L645.20,572.10 L661.66,591.30 C662.86,594.30 664.46,599.20 663.66,602.20 C658.66,600.70 650.36,594.80 646.36,591.30 Z" fill="#000088" stroke="#8c8c8c" stroke-width="0.7" stroke-linejoin="round"/><path d="M646.50,572.10 L661.80,572.10 L678.26,591.30 C679.46,594.30 681.06,598.40 680.26,601.40 C675.26,599.90 666.96,594.80 662.96,591.30 Z" fill="#860000" stroke="#8c8c8c" stroke-width="0.7" stroke-linejoin="round"/><path d="M663.10,572.10 L678.40,572.10 L694.86,591.30 C696.06,594.30 697.66,599.20 696.86,602.20 C691.86,600.70 683.56,594.80 679.56,591.30 Z" fill="#000088" stroke="#8c8c8c" stroke-width="0.7" stroke-linejoin="round"/><path d="M679.70,572.10 L695.00,572.10 L711.46,591.30 C712.66,594.30 714.26,598.40 713.46,601.40 C708.46,599.90 700.16,594.80 696.16,591.30 Z" fill="#860000" stroke="#8c8c8c" stroke-width="0.7" stroke-linejoin="round"/><path d="M696.30,572.10 L711.60,572.10 L728.06,591.30 C729.26,594.30 730.86,599.20 730.06,602.20 C725.06,600.70 716.76,594.80 712.76,591.30 Z" fill="#000088" stroke="#8c8c8c" stroke-width="0.7" stroke-linejoin="round"/><path d="M712.90,572.10 L728.20,572.10 L744.66,591.30 C745.86,594.30 747.46,598.40 746.66,601.40 C741.66,599.90 733.36,594.80 729.36,591.30 Z" fill="#860000" stroke="#8c8c8c" stroke-width="0.7" stroke-linejoin="round"/><path d="M453.8,573.80 H659.4 M453.8,577.50 H659.4 M453.8,581.20 H659.4 M453.8,584.90 H659.4 M453.8,588.60 H659.4 M453.8,592.30 H659.4 M453.8,596.00 H659.4 M453.8,599.70 H659.4 M453.8,603.40 H659.4 M453.8,607.10 H659.4 M453.8,610.80 H659.4" stroke="#000" stroke-opacity="0.3" stroke-width="1.0" fill="none"/><rect x="453.8" y="602.0" width="205.6" height="1.3" fill="#000" fill-opacity="0.55"/><rect x="453.8" y="610.0" width="205.6" height="1.5" fill="#000" fill-opacity="0.45"/><path d="M393.70,573.20 L393.90,561.54 L395.20,556.92 L398.30,553.50 L400.30,552.50 L403.70,552.50 L405.10,554.91 L406.70,557.32 L408.70,558.53 L409.30,560.94 L409.30,573.20 Z" fill="#0000e5" stroke="#0000e5" stroke-width="0.5" stroke-linejoin="round"/><path d="M410.30,573.20 L410.50,561.71 L411.80,557.16 L414.90,553.79 L416.90,552.80 L420.30,552.80 L421.70,555.18 L423.30,557.55 L425.30,558.74 L425.90,561.12 L425.90,573.20 Z" fill="#e50000" stroke="#e50000" stroke-width="0.5" stroke-linejoin="round"/><path d="M426.90,573.20 L427.10,561.54 L428.40,556.92 L431.50,553.50 L433.50,552.50 L436.90,552.50 L438.30,554.91 L439.90,557.32 L441.90,558.53 L442.50,560.94 L442.50,573.20 Z" fill="#0000e5" stroke="#0000e5" stroke-width="0.5" stroke-linejoin="round"/><path d="M443.50,573.20 L443.70,561.71 L445.00,557.16 L448.10,553.79 L450.10,552.80 L453.50,552.80 L454.90,555.18 L456.50,557.55 L458.50,558.74 L459.10,561.12 L459.10,573.20 Z" fill="#e50000" stroke="#e50000" stroke-width="0.5" stroke-linejoin="round"/><path d="M460.10,573.20 L460.30,561.54 L461.60,556.92 L464.70,553.50 L466.70,552.50 L470.10,552.50 L471.50,554.91 L473.10,557.32 L475.10,558.53 L475.70,560.94 L475.70,573.20 Z" fill="#0000e5" stroke="#0000e5" stroke-width="0.5" stroke-linejoin="round"/><path d="M476.70,573.20 L476.90,561.71 L478.20,557.16 L481.30,553.79 L483.30,552.80 L486.70,552.80 L488.10,555.18 L489.70,557.55 L491.70,558.74 L492.30,561.12 L492.30,573.20 Z" fill="#e50000" stroke="#e50000" stroke-width="0.5" stroke-linejoin="round"/><path d="M493.30,573.20 L493.50,561.54 L494.80,556.92 L497.90,553.50 L499.90,552.50 L503.30,552.50 L504.70,554.91 L506.30,557.32 L508.30,558.53 L508.90,560.94 L508.90,573.20 Z" fill="#0000e5" stroke="#0000e5" stroke-width="0.5" stroke-linejoin="round"/><path d="M509.90,573.20 L510.10,561.71 L511.40,557.16 L514.50,553.79 L516.50,552.80 L519.90,552.80 L521.30,555.18 L522.90,557.55 L524.90,558.74 L525.50,561.12 L525.50,573.20 Z" fill="#e50000" stroke="#e50000" stroke-width="0.5" stroke-linejoin="round"/><path d="M526.50,573.20 L526.70,561.54 L528.00,556.92 L531.10,553.50 L533.10,552.50 L536.50,552.50 L537.90,554.91 L539.50,557.32 L541.50,558.53 L542.10,560.94 L542.10,573.20 Z" fill="#0000e5" stroke="#0000e5" stroke-width="0.5" stroke-linejoin="round"/><path d="M543.10,573.20 L543.30,561.71 L544.60,557.16 L547.70,553.79 L549.70,552.80 L553.10,552.80 L554.50,555.18 L556.10,557.55 L558.10,558.74 L558.70,561.12 L558.70,573.20 Z" fill="#e50000" stroke="#e50000" stroke-width="0.5" stroke-linejoin="round"/><path d="M559.70,573.20 L559.90,561.54 L561.20,556.92 L564.30,553.50 L566.30,552.50 L569.70,552.50 L571.10,554.91 L572.70,557.32 L574.70,558.53 L575.30,560.94 L575.30,573.20 Z" fill="#0000e5" stroke="#0000e5" stroke-width="0.5" stroke-linejoin="round"/><path d="M576.30,573.20 L576.50,561.71 L577.80,557.16 L580.90,553.79 L582.90,552.80 L586.30,552.80 L587.70,555.18 L589.30,557.55 L591.30,558.74 L591.90,561.12 L591.90,573.20 Z" fill="#e50000" stroke="#e50000" stroke-width="0.5" stroke-linejoin="round"/><path d="M592.90,573.20 L593.10,561.54 L594.40,556.92 L597.50,553.50 L599.50,552.50 L602.90,552.50 L604.30,554.91 L605.90,557.32 L607.90,558.53 L608.50,560.94 L608.50,573.20 Z" fill="#0000e5" stroke="#0000e5" stroke-width="0.5" stroke-linejoin="round"/><path d="M609.50,573.20 L609.70,561.71 L611.00,557.16 L614.10,553.79 L616.10,552.80 L619.50,552.80 L620.90,555.18 L622.50,557.55 L624.50,558.74 L625.10,561.12 L625.10,573.20 Z" fill="#e50000" stroke="#e50000" stroke-width="0.5" stroke-linejoin="round"/><path d="M626.10,573.20 L626.30,561.54 L627.60,556.92 L630.70,553.50 L632.70,552.50 L636.10,552.50 L637.50,554.91 L639.10,557.32 L641.10,558.53 L641.70,560.94 L641.70,573.20 Z" fill="#0000e5" stroke="#0000e5" stroke-width="0.5" stroke-linejoin="round"/><path d="M642.70,573.20 L642.90,561.71 L644.20,557.16 L647.30,553.79 L649.30,552.80 L652.70,552.80 L654.10,555.18 L655.70,557.55 L657.70,558.74 L658.30,561.12 L658.30,573.20 Z" fill="#e50000" stroke="#e50000" stroke-width="0.5" stroke-linejoin="round"/><path d="M659.30,573.20 L659.50,561.54 L660.80,556.92 L663.90,553.50 L665.90,552.50 L669.30,552.50 L670.70,554.91 L672.30,557.32 L674.30,558.53 L674.90,560.94 L674.90,573.20 Z" fill="#0000e5" stroke="#0000e5" stroke-width="0.5" stroke-linejoin="round"/><path d="M675.90,573.20 L676.10,561.71 L677.40,557.16 L680.50,553.79 L682.50,552.80 L685.90,552.80 L687.30,555.18 L688.90,557.55 L690.90,558.74 L691.50,561.12 L691.50,573.20 Z" fill="#e50000" stroke="#e50000" stroke-width="0.5" stroke-linejoin="round"/><path d="M692.50,573.20 L692.70,561.54 L694.00,556.92 L697.10,553.50 L699.10,552.50 L702.50,552.50 L703.90,554.91 L705.50,557.32 L707.50,558.53 L708.10,560.94 L708.10,573.20 Z" fill="#0000e5" stroke="#0000e5" stroke-width="0.5" stroke-linejoin="round"/><path d="M709.10,573.20 L709.30,561.71 L710.60,557.16 L713.70,553.79 L715.70,552.80 L719.10,552.80 L720.50,555.18 L722.10,557.55 L724.10,558.74 L724.70,561.12 L724.70,573.20 Z" fill="#e50000" stroke="#e50000" stroke-width="0.5" stroke-linejoin="round"/><path d="M725.70,573.20 L725.90,561.54 L727.20,556.92 L730.30,553.50 L732.30,552.50 L735.70,552.50 L737.10,554.91 L738.70,557.32 L740.70,558.53 L741.30,560.94 L741.30,573.20 Z" fill="#0000e5" stroke="#0000e5" stroke-width="0.5" stroke-linejoin="round"/><path d="M742.30,573.20 L742.50,561.71 L743.80,557.16 L746.90,553.79 L748.90,552.80 L752.30,552.80 L753.70,555.18 L755.30,557.55 L757.30,558.74 L757.90,561.12 L757.90,573.20 Z" fill="#e50000" stroke="#e50000" stroke-width="0.5" stroke-linejoin="round"/><path d="M455.3,562.1 H645.4" stroke="#ffe500" stroke-width="1.9" stroke-dasharray="7.2 6"/><path d="M646.9,558.2 L658.4,562.1 L646.9,566.0 Z" fill="#ffe500"/><path d="M640.4,562.1 H649.4" stroke="#ffe500" stroke-width="1.9"/><text x="634.4" y="558.8" font-size="11.5" fill="#ffe500">e</text><rect x="641.9" y="552.1" width="2.3" height="1.0" fill="#ffe500"/></g><clipPath id="cp5"><rect x="33.0" y="652.8" width="205.6" height="79.2"/></clipPath><clipPath id="cp6"><rect x="33.0" y="709.4" width="205.6" height="7"/></clipPath><g clip-path="url(#cp5)"><rect x="33.0" y="652.8" width="205.6" height="79.2" fill="#e3e3e3"/><rect x="33.0" y="678.80" width="205.6" height="1.36" fill="#929292"/><rect x="33.0" y="680.10" width="205.6" height="1.36" fill="#7e7e7e"/><rect x="33.0" y="681.40" width="205.6" height="1.36" fill="#626262"/><rect x="33.0" y="682.70" width="205.6" height="1.36" fill="#8c8c8c"/><rect x="33.0" y="684.00" width="205.6" height="1.36" fill="#a2a2a2"/><rect x="33.0" y="685.30" width="205.6" height="1.36" fill="#727272"/><rect x="33.0" y="686.60" width="205.6" height="1.36" fill="#4e4e4e"/><rect x="33.0" y="687.90" width="205.6" height="1.36" fill="#868686"/><rect x="33.0" y="689.20" width="205.6" height="1.36" fill="#929292"/><rect x="33.0" y="690.50" width="205.6" height="1.36" fill="#7e7e7e"/><rect x="33.0" y="691.80" width="205.6" height="1.36" fill="#626262"/><rect x="33.0" y="693.10" width="205.6" height="1.36" fill="#8c8c8c"/><rect x="33.0" y="694.40" width="205.6" height="1.36" fill="#a2a2a2"/><rect x="33.0" y="695.70" width="205.6" height="1.36" fill="#727272"/><rect x="33.0" y="697.00" width="205.6" height="1.36" fill="#4e4e4e"/><rect x="33.0" y="698.30" width="205.6" height="1.36" fill="#868686"/><rect x="33.0" y="699.60" width="205.6" height="1.36" fill="#929292"/><rect x="33.0" y="700.90" width="205.6" height="1.36" fill="#7e7e7e"/><rect x="33.0" y="702.20" width="205.6" height="1.36" fill="#626262"/><rect x="33.0" y="703.50" width="205.6" height="1.36" fill="#8c8c8c"/><rect x="33.0" y="704.80" width="205.6" height="1.36" fill="#a2a2a2"/><rect x="33.0" y="706.10" width="205.6" height="1.36" fill="#727272"/><rect x="33.0" y="707.40" width="205.6" height="1.36" fill="#4e4e4e"/><rect x="33.0" y="708.70" width="205.6" height="1.36" fill="#868686"/><rect x="33.0" y="710.00" width="205.6" height="1.36" fill="#929292"/><rect x="33.0" y="711.30" width="205.6" height="1.36" fill="#7e7e7e"/><rect x="33.0" y="712.60" width="205.6" height="1.36" fill="#626262"/><rect x="33.0" y="713.90" width="205.6" height="1.36" fill="#8c8c8c"/><rect x="33.0" y="715.20" width="205.6" height="1.26" fill="#a2a2a2"/><path d="M-77.60,678.80 L-76.11,679.65 L-74.16,680.50 L-71.78,681.35 L-69.07,682.20 L-66.22,683.05 L-63.42,683.90 L-60.88,684.75 L-58.73,685.60 L-57.04,686.45 L-55.79,687.30 L-54.87,688.15 L-54.11,689.00 L-53.31,689.85 L-52.26,690.70 L-50.82,691.55 L-48.93,692.40 L-46.59,693.25 L-43.91,694.10 L-41.07,694.95 L-38.25,695.80 L-35.67,696.65 L-33.47,697.50 L-31.73,698.35 L-30.43,699.20 L-29.48,700.05 L-28.71,700.90 L-27.92,701.75 L-26.91,702.60 L-25.53,703.45 L-23.69,704.30 L-21.40,705.15 L-18.75,706.00 L-15.92,706.85 L-13.09,707.70 L-10.47,708.55 L-8.22,709.40 L-6.90,710.80 L-5.87,712.20 L-5.14,713.60 L-4.70,715.00 L-4.55,716.40 L20.35,716.40 L20.20,715.00 L19.76,713.60 L19.03,712.20 L18.00,710.80 L16.68,709.40 L14.43,708.55 L11.81,707.70 L8.98,706.85 L6.15,706.00 L3.50,705.15 L1.21,704.30 L-0.63,703.45 L-2.01,702.60 L-3.02,701.75 L-3.81,700.90 L-4.58,700.05 L-5.53,699.20 L-6.83,698.35 L-8.57,697.50 L-10.77,696.65 L-13.35,695.80 L-16.17,694.95 L-19.01,694.10 L-21.69,693.25 L-24.03,692.40 L-25.92,691.55 L-27.36,690.70 L-28.41,689.85 L-29.21,689.00 L-29.97,688.15 L-30.89,687.30 L-32.14,686.45 L-33.83,685.60 L-35.98,684.75 L-38.52,683.90 L-41.32,683.05 L-44.17,682.20 L-46.88,681.35 L-49.26,680.50 L-51.21,679.65 L-52.70,678.80 Z" fill="#860000"/><path d="M-52.70,678.80 L-51.21,679.65 L-49.26,680.50 L-46.88,681.35 L-44.17,682.20 L-41.32,683.05 L-38.52,683.90 L-35.98,684.75 L-33.83,685.60 L-32.14,686.45 L-30.89,687.30 L-29.97,688.15 L-29.21,689.00 L-28.41,689.85 L-27.36,690.70 L-25.92,691.55 L-24.03,692.40 L-21.69,693.25 L-19.01,694.10 L-16.17,694.95 L-13.35,695.80 L-10.77,696.65 L-8.57,697.50 L-6.83,698.35 L-5.53,699.20 L-4.58,700.05 L-3.81,700.90 L-3.02,701.75 L-2.01,702.60 L-0.63,703.45 L1.21,704.30 L3.50,705.15 L6.15,706.00 L8.98,706.85 L11.81,707.70 L14.43,708.55 L16.68,709.40 L18.00,710.80 L19.03,712.20 L19.76,713.60 L20.20,715.00 L20.35,716.40 L45.25,716.40 L45.10,715.00 L44.66,713.60 L43.93,712.20 L42.90,710.80 L41.58,709.40 L39.33,708.55 L36.71,707.70 L33.88,706.85 L31.05,706.00 L28.40,705.15 L26.11,704.30 L24.27,703.45 L22.89,702.60 L21.88,701.75 L21.09,700.90 L20.32,700.05 L19.37,699.20 L18.07,698.35 L16.33,697.50 L14.13,696.65 L11.55,695.80 L8.73,694.95 L5.89,694.10 L3.21,693.25 L0.87,692.40 L-1.02,691.55 L-2.46,690.70 L-3.51,689.85 L-4.31,689.00 L-5.07,688.15 L-5.99,687.30 L-7.24,686.45 L-8.93,685.60 L-11.08,684.75 L-13.62,683.90 L-16.42,683.05 L-19.27,682.20 L-21.98,681.35 L-24.36,680.50 L-26.31,679.65 L-27.80,678.80 Z" fill="#000088"/><path d="M-27.80,678.80 L-26.31,679.65 L-24.36,680.50 L-21.98,681.35 L-19.27,682.20 L-16.42,683.05 L-13.62,683.90 L-11.08,684.75 L-8.93,685.60 L-7.24,686.45 L-5.99,687.30 L-5.07,688.15 L-4.31,689.00 L-3.51,689.85 L-2.46,690.70 L-1.02,691.55 L0.87,692.40 L3.21,693.25 L5.89,694.10 L8.73,694.95 L11.55,695.80 L14.13,696.65 L16.33,697.50 L18.07,698.35 L19.37,699.20 L20.32,700.05 L21.09,700.90 L21.88,701.75 L22.89,702.60 L24.27,703.45 L26.11,704.30 L28.40,705.15 L31.05,706.00 L33.88,706.85 L36.71,707.70 L39.33,708.55 L41.58,709.40 L42.90,710.80 L43.93,712.20 L44.66,713.60 L45.10,715.00 L45.25,716.40 L70.15,716.40 L70.00,715.00 L69.56,713.60 L68.83,712.20 L67.80,710.80 L66.48,709.40 L64.23,708.55 L61.61,707.70 L58.78,706.85 L55.95,706.00 L53.30,705.15 L51.01,704.30 L49.17,703.45 L47.79,702.60 L46.78,701.75 L45.99,700.90 L45.22,700.05 L44.27,699.20 L42.97,698.35 L41.23,697.50 L39.03,696.65 L36.45,695.80 L33.63,694.95 L30.79,694.10 L28.11,693.25 L25.77,692.40 L23.88,691.55 L22.44,690.70 L21.39,689.85 L20.59,689.00 L19.83,688.15 L18.91,687.30 L17.66,686.45 L15.97,685.60 L13.82,684.75 L11.28,683.90 L8.48,683.05 L5.63,682.20 L2.92,681.35 L0.54,680.50 L-1.41,679.65 L-2.90,678.80 Z" fill="#860000"/><path d="M-2.90,678.80 L-1.41,679.65 L0.54,680.50 L2.92,681.35 L5.63,682.20 L8.48,683.05 L11.28,683.90 L13.82,684.75 L15.97,685.60 L17.66,686.45 L18.91,687.30 L19.83,688.15 L20.59,689.00 L21.39,689.85 L22.44,690.70 L23.88,691.55 L25.77,692.40 L28.11,693.25 L30.79,694.10 L33.63,694.95 L36.45,695.80 L39.03,696.65 L41.23,697.50 L42.97,698.35 L44.27,699.20 L45.22,700.05 L45.99,700.90 L46.78,701.75 L47.79,702.60 L49.17,703.45 L51.01,704.30 L53.30,705.15 L55.95,706.00 L58.78,706.85 L61.61,707.70 L64.23,708.55 L66.48,709.40 L67.80,710.80 L68.83,712.20 L69.56,713.60 L70.00,715.00 L70.15,716.40 L95.05,716.40 L94.90,715.00 L94.46,713.60 L93.73,712.20 L92.70,710.80 L91.38,709.40 L89.13,708.55 L86.51,707.70 L83.68,706.85 L80.85,706.00 L78.20,705.15 L75.91,704.30 L74.07,703.45 L72.69,702.60 L71.68,701.75 L70.89,700.90 L70.12,700.05 L69.17,699.20 L67.87,698.35 L66.13,697.50 L63.93,696.65 L61.35,695.80 L58.53,694.95 L55.69,694.10 L53.01,693.25 L50.67,692.40 L48.78,691.55 L47.34,690.70 L46.29,689.85 L45.49,689.00 L44.73,688.15 L43.81,687.30 L42.56,686.45 L40.87,685.60 L38.72,684.75 L36.18,683.90 L33.38,683.05 L30.53,682.20 L27.82,681.35 L25.44,680.50 L23.49,679.65 L22.00,678.80 Z" fill="#000088"/><path d="M22.00,678.80 L23.49,679.65 L25.44,680.50 L27.82,681.35 L30.53,682.20 L33.38,683.05 L36.18,683.90 L38.72,684.75 L40.87,685.60 L42.56,686.45 L43.81,687.30 L44.73,688.15 L45.49,689.00 L46.29,689.85 L47.34,690.70 L48.78,691.55 L50.67,692.40 L53.01,693.25 L55.69,694.10 L58.53,694.95 L61.35,695.80 L63.93,696.65 L66.13,697.50 L67.87,698.35 L69.17,699.20 L70.12,700.05 L70.89,700.90 L71.68,701.75 L72.69,702.60 L74.07,703.45 L75.91,704.30 L78.20,705.15 L80.85,706.00 L83.68,706.85 L86.51,707.70 L89.13,708.55 L91.38,709.40 L92.70,710.80 L93.73,712.20 L94.46,713.60 L94.90,715.00 L95.05,716.40 L119.95,716.40 L119.80,715.00 L119.36,713.60 L118.63,712.20 L117.60,710.80 L116.28,709.40 L114.03,708.55 L111.41,707.70 L108.58,706.85 L105.75,706.00 L103.10,705.15 L100.81,704.30 L98.97,703.45 L97.59,702.60 L96.58,701.75 L95.79,700.90 L95.02,700.05 L94.07,699.20 L92.77,698.35 L91.03,697.50 L88.83,696.65 L86.25,695.80 L83.43,694.95 L80.59,694.10 L77.91,693.25 L75.57,692.40 L73.68,691.55 L72.24,690.70 L71.19,689.85 L70.39,689.00 L69.63,688.15 L68.71,687.30 L67.46,686.45 L65.77,685.60 L63.62,684.75 L61.08,683.90 L58.28,683.05 L55.43,682.20 L52.72,681.35 L50.34,680.50 L48.39,679.65 L46.90,678.80 Z" fill="#860000"/><path d="M46.90,678.80 L48.39,679.65 L50.34,680.50 L52.72,681.35 L55.43,682.20 L58.28,683.05 L61.08,683.90 L63.62,684.75 L65.77,685.60 L67.46,686.45 L68.71,687.30 L69.63,688.15 L70.39,689.00 L71.19,689.85 L72.24,690.70 L73.68,691.55 L75.57,692.40 L77.91,693.25 L80.59,694.10 L83.43,694.95 L86.25,695.80 L88.83,696.65 L91.03,697.50 L92.77,698.35 L94.07,699.20 L95.02,700.05 L95.79,700.90 L96.58,701.75 L97.59,702.60 L98.97,703.45 L100.81,704.30 L103.10,705.15 L105.75,706.00 L108.58,706.85 L111.41,707.70 L114.03,708.55 L116.28,709.40 L117.60,710.80 L118.63,712.20 L119.36,713.60 L119.80,715.00 L119.95,716.40 L144.85,716.40 L144.70,715.00 L144.26,713.60 L143.53,712.20 L142.50,710.80 L141.18,709.40 L138.93,708.55 L136.31,707.70 L133.48,706.85 L130.65,706.00 L128.00,705.15 L125.71,704.30 L123.87,703.45 L122.49,702.60 L121.48,701.75 L120.69,700.90 L119.92,700.05 L118.97,699.20 L117.67,698.35 L115.93,697.50 L113.73,696.65 L111.15,695.80 L108.33,694.95 L105.49,694.10 L102.81,693.25 L100.47,692.40 L98.58,691.55 L97.14,690.70 L96.09,689.85 L95.29,689.00 L94.53,688.15 L93.61,687.30 L92.36,686.45 L90.67,685.60 L88.52,684.75 L85.98,683.90 L83.18,683.05 L80.33,682.20 L77.62,681.35 L75.24,680.50 L73.29,679.65 L71.80,678.80 Z" fill="#000088"/><path d="M71.80,678.80 L73.29,679.65 L75.24,680.50 L77.62,681.35 L80.33,682.20 L83.18,683.05 L85.98,683.90 L88.52,684.75 L90.67,685.60 L92.36,686.45 L93.61,687.30 L94.53,688.15 L95.29,689.00 L96.09,689.85 L97.14,690.70 L98.58,691.55 L100.47,692.40 L102.81,693.25 L105.49,694.10 L108.33,694.95 L111.15,695.80 L113.73,696.65 L115.93,697.50 L117.67,698.35 L118.97,699.20 L119.92,700.05 L120.69,700.90 L121.48,701.75 L122.49,702.60 L123.87,703.45 L125.71,704.30 L128.00,705.15 L130.65,706.00 L133.48,706.85 L136.31,707.70 L138.93,708.55 L141.18,709.40 L142.50,710.80 L143.53,712.20 L144.26,713.60 L144.70,715.00 L144.85,716.40 L169.75,716.40 L169.60,715.00 L169.16,713.60 L168.43,712.20 L167.40,710.80 L166.08,709.40 L163.83,708.55 L161.21,707.70 L158.38,706.85 L155.55,706.00 L152.90,705.15 L150.61,704.30 L148.77,703.45 L147.39,702.60 L146.38,701.75 L145.59,700.90 L144.82,700.05 L143.87,699.20 L142.57,698.35 L140.83,697.50 L138.63,696.65 L136.05,695.80 L133.23,694.95 L130.39,694.10 L127.71,693.25 L125.37,692.40 L123.48,691.55 L122.04,690.70 L120.99,689.85 L120.19,689.00 L119.43,688.15 L118.51,687.30 L117.26,686.45 L115.57,685.60 L113.42,684.75 L110.88,683.90 L108.08,683.05 L105.23,682.20 L102.52,681.35 L100.14,680.50 L98.19,679.65 L96.70,678.80 Z" fill="#860000"/><path d="M96.70,678.80 L98.19,679.65 L100.14,680.50 L102.52,681.35 L105.23,682.20 L108.08,683.05 L110.88,683.90 L113.42,684.75 L115.57,685.60 L117.26,686.45 L118.51,687.30 L119.43,688.15 L120.19,689.00 L120.99,689.85 L122.04,690.70 L123.48,691.55 L125.37,692.40 L127.71,693.25 L130.39,694.10 L133.23,694.95 L136.05,695.80 L138.63,696.65 L140.83,697.50 L142.57,698.35 L143.87,699.20 L144.82,700.05 L145.59,700.90 L146.38,701.75 L147.39,702.60 L148.77,703.45 L150.61,704.30 L152.90,705.15 L155.55,706.00 L158.38,706.85 L161.21,707.70 L163.83,708.55 L166.08,709.40 L167.40,710.80 L168.43,712.20 L169.16,713.60 L169.60,715.00 L169.75,716.40 L194.65,716.40 L194.50,715.00 L194.06,713.60 L193.33,712.20 L192.30,710.80 L190.98,709.40 L188.73,708.55 L186.11,707.70 L183.28,706.85 L180.45,706.00 L177.80,705.15 L175.51,704.30 L173.67,703.45 L172.29,702.60 L171.28,701.75 L170.49,700.90 L169.72,700.05 L168.77,699.20 L167.47,698.35 L165.73,697.50 L163.53,696.65 L160.95,695.80 L158.13,694.95 L155.29,694.10 L152.61,693.25 L150.27,692.40 L148.38,691.55 L146.94,690.70 L145.89,689.85 L145.09,689.00 L144.33,688.15 L143.41,687.30 L142.16,686.45 L140.47,685.60 L138.32,684.75 L135.78,683.90 L132.98,683.05 L130.13,682.20 L127.42,681.35 L125.04,680.50 L123.09,679.65 L121.60,678.80 Z" fill="#000088"/><path d="M121.60,678.80 L123.09,679.65 L125.04,680.50 L127.42,681.35 L130.13,682.20 L132.98,683.05 L135.78,683.90 L138.32,684.75 L140.47,685.60 L142.16,686.45 L143.41,687.30 L144.33,688.15 L145.09,689.00 L145.89,689.85 L146.94,690.70 L148.38,691.55 L150.27,692.40 L152.61,693.25 L155.29,694.10 L158.13,694.95 L160.95,695.80 L163.53,696.65 L165.73,697.50 L167.47,698.35 L168.77,699.20 L169.72,700.05 L170.49,700.90 L171.28,701.75 L172.29,702.60 L173.67,703.45 L175.51,704.30 L177.80,705.15 L180.45,706.00 L183.28,706.85 L186.11,707.70 L188.73,708.55 L190.98,709.40 L192.30,710.80 L193.33,712.20 L194.06,713.60 L194.50,715.00 L194.65,716.40 L219.55,716.40 L219.40,715.00 L218.96,713.60 L218.23,712.20 L217.20,710.80 L215.88,709.40 L213.63,708.55 L211.01,707.70 L208.18,706.85 L205.35,706.00 L202.70,705.15 L200.41,704.30 L198.57,703.45 L197.19,702.60 L196.18,701.75 L195.39,700.90 L194.62,700.05 L193.67,699.20 L192.37,698.35 L190.63,697.50 L188.43,696.65 L185.85,695.80 L183.03,694.95 L180.19,694.10 L177.51,693.25 L175.17,692.40 L173.28,691.55 L171.84,690.70 L170.79,689.85 L169.99,689.00 L169.23,688.15 L168.31,687.30 L167.06,686.45 L165.37,685.60 L163.22,684.75 L160.68,683.90 L157.88,683.05 L155.03,682.20 L152.32,681.35 L149.94,680.50 L147.99,679.65 L146.50,678.80 Z" fill="#860000"/><path d="M146.50,678.80 L147.99,679.65 L149.94,680.50 L152.32,681.35 L155.03,682.20 L157.88,683.05 L160.68,683.90 L163.22,684.75 L165.37,685.60 L167.06,686.45 L168.31,687.30 L169.23,688.15 L169.99,689.00 L170.79,689.85 L171.84,690.70 L173.28,691.55 L175.17,692.40 L177.51,693.25 L180.19,694.10 L183.03,694.95 L185.85,695.80 L188.43,696.65 L190.63,697.50 L192.37,698.35 L193.67,699.20 L194.62,700.05 L195.39,700.90 L196.18,701.75 L197.19,702.60 L198.57,703.45 L200.41,704.30 L202.70,705.15 L205.35,706.00 L208.18,706.85 L211.01,707.70 L213.63,708.55 L215.88,709.40 L217.20,710.80 L218.23,712.20 L218.96,713.60 L219.40,715.00 L219.55,716.40 L244.45,716.40 L244.30,715.00 L243.86,713.60 L243.13,712.20 L242.10,710.80 L240.78,709.40 L238.53,708.55 L235.91,707.70 L233.08,706.85 L230.25,706.00 L227.60,705.15 L225.31,704.30 L223.47,703.45 L222.09,702.60 L221.08,701.75 L220.29,700.90 L219.52,700.05 L218.57,699.20 L217.27,698.35 L215.53,697.50 L213.33,696.65 L210.75,695.80 L207.93,694.95 L205.09,694.10 L202.41,693.25 L200.07,692.40 L198.18,691.55 L196.74,690.70 L195.69,689.85 L194.89,689.00 L194.13,688.15 L193.21,687.30 L191.96,686.45 L190.27,685.60 L188.12,684.75 L185.58,683.90 L182.78,683.05 L179.93,682.20 L177.22,681.35 L174.84,680.50 L172.89,679.65 L171.40,678.80 Z" fill="#000088"/><path d="M171.40,678.80 L172.89,679.65 L174.84,680.50 L177.22,681.35 L179.93,682.20 L182.78,683.05 L185.58,683.90 L188.12,684.75 L190.27,685.60 L191.96,686.45 L193.21,687.30 L194.13,688.15 L194.89,689.00 L195.69,689.85 L196.74,690.70 L198.18,691.55 L200.07,692.40 L202.41,693.25 L205.09,694.10 L207.93,694.95 L210.75,695.80 L213.33,696.65 L215.53,697.50 L217.27,698.35 L218.57,699.20 L219.52,700.05 L220.29,700.90 L221.08,701.75 L222.09,702.60 L223.47,703.45 L225.31,704.30 L227.60,705.15 L230.25,706.00 L233.08,706.85 L235.91,707.70 L238.53,708.55 L240.78,709.40 L242.10,710.80 L243.13,712.20 L243.86,713.60 L244.30,715.00 L244.45,716.40 L269.35,716.40 L269.20,715.00 L268.76,713.60 L268.03,712.20 L267.00,710.80 L265.68,709.40 L263.43,708.55 L260.81,707.70 L257.98,706.85 L255.15,706.00 L252.50,705.15 L250.21,704.30 L248.37,703.45 L246.99,702.60 L245.98,701.75 L245.19,700.90 L244.42,700.05 L243.47,699.20 L242.17,698.35 L240.43,697.50 L238.23,696.65 L235.65,695.80 L232.83,694.95 L229.99,694.10 L227.31,693.25 L224.97,692.40 L223.08,691.55 L221.64,690.70 L220.59,689.85 L219.79,689.00 L219.03,688.15 L218.11,687.30 L216.86,686.45 L215.17,685.60 L213.02,684.75 L210.48,683.90 L207.68,683.05 L204.83,682.20 L202.12,681.35 L199.74,680.50 L197.79,679.65 L196.30,678.80 Z" fill="#860000"/><path d="M196.30,678.80 L197.79,679.65 L199.74,680.50 L202.12,681.35 L204.83,682.20 L207.68,683.05 L210.48,683.90 L213.02,684.75 L215.17,685.60 L216.86,686.45 L218.11,687.30 L219.03,688.15 L219.79,689.00 L220.59,689.85 L221.64,690.70 L223.08,691.55 L224.97,692.40 L227.31,693.25 L229.99,694.10 L232.83,694.95 L235.65,695.80 L238.23,696.65 L240.43,697.50 L242.17,698.35 L243.47,699.20 L244.42,700.05 L245.19,700.90 L245.98,701.75 L246.99,702.60 L248.37,703.45 L250.21,704.30 L252.50,705.15 L255.15,706.00 L257.98,706.85 L260.81,707.70 L263.43,708.55 L265.68,709.40 L267.00,710.80 L268.03,712.20 L268.76,713.60 L269.20,715.00 L269.35,716.40 L294.25,716.40 L294.10,715.00 L293.66,713.60 L292.93,712.20 L291.90,710.80 L290.58,709.40 L288.33,708.55 L285.71,707.70 L282.88,706.85 L280.05,706.00 L277.40,705.15 L275.11,704.30 L273.27,703.45 L271.89,702.60 L270.88,701.75 L270.09,700.90 L269.32,700.05 L268.37,699.20 L267.07,698.35 L265.33,697.50 L263.13,696.65 L260.55,695.80 L257.73,694.95 L254.89,694.10 L252.21,693.25 L249.87,692.40 L247.98,691.55 L246.54,690.70 L245.49,689.85 L244.69,689.00 L243.93,688.15 L243.01,687.30 L241.76,686.45 L240.07,685.60 L237.92,684.75 L235.38,683.90 L232.58,683.05 L229.73,682.20 L227.02,681.35 L224.64,680.50 L222.69,679.65 L221.20,678.80 Z" fill="#000088"/><path d="M221.20,678.80 L222.69,679.65 L224.64,680.50 L227.02,681.35 L229.73,682.20 L232.58,683.05 L235.38,683.90 L237.92,684.75 L240.07,685.60 L241.76,686.45 L243.01,687.30 L243.93,688.15 L244.69,689.00 L245.49,689.85 L246.54,690.70 L247.98,691.55 L249.87,692.40 L252.21,693.25 L254.89,694.10 L257.73,694.95 L260.55,695.80 L263.13,696.65 L265.33,697.50 L267.07,698.35 L268.37,699.20 L269.32,700.05 L270.09,700.90 L270.88,701.75 L271.89,702.60 L273.27,703.45 L275.11,704.30 L277.40,705.15 L280.05,706.00 L282.88,706.85 L285.71,707.70 L288.33,708.55 L290.58,709.40 L291.90,710.80 L292.93,712.20 L293.66,713.60 L294.10,715.00 L294.25,716.40 L319.15,716.40 L319.00,715.00 L318.56,713.60 L317.83,712.20 L316.80,710.80 L315.48,709.40 L313.23,708.55 L310.61,707.70 L307.78,706.85 L304.95,706.00 L302.30,705.15 L300.01,704.30 L298.17,703.45 L296.79,702.60 L295.78,701.75 L294.99,700.90 L294.22,700.05 L293.27,699.20 L291.97,698.35 L290.23,697.50 L288.03,696.65 L285.45,695.80 L282.63,694.95 L279.79,694.10 L277.11,693.25 L274.77,692.40 L272.88,691.55 L271.44,690.70 L270.39,689.85 L269.59,689.00 L268.83,688.15 L267.91,687.30 L266.66,686.45 L264.97,685.60 L262.82,684.75 L260.28,683.90 L257.48,683.05 L254.63,682.20 L251.92,681.35 L249.54,680.50 L247.59,679.65 L246.10,678.80 Z" fill="#860000"/><path d="M246.10,678.80 L247.59,679.65 L249.54,680.50 L251.92,681.35 L254.63,682.20 L257.48,683.05 L260.28,683.90 L262.82,684.75 L264.97,685.60 L266.66,686.45 L267.91,687.30 L268.83,688.15 L269.59,689.00 L270.39,689.85 L271.44,690.70 L272.88,691.55 L274.77,692.40 L277.11,693.25 L279.79,694.10 L282.63,694.95 L285.45,695.80 L288.03,696.65 L290.23,697.50 L291.97,698.35 L293.27,699.20 L294.22,700.05 L294.99,700.90 L295.78,701.75 L296.79,702.60 L298.17,703.45 L300.01,704.30 L302.30,705.15 L304.95,706.00 L307.78,706.85 L310.61,707.70 L313.23,708.55 L315.48,709.40 L316.80,710.80 L317.83,712.20 L318.56,713.60 L319.00,715.00 L319.15,716.40 L344.05,716.40 L343.90,715.00 L343.46,713.60 L342.73,712.20 L341.70,710.80 L340.38,709.40 L338.13,708.55 L335.51,707.70 L332.68,706.85 L329.85,706.00 L327.20,705.15 L324.91,704.30 L323.07,703.45 L321.69,702.60 L320.68,701.75 L319.89,700.90 L319.12,700.05 L318.17,699.20 L316.87,698.35 L315.13,697.50 L312.93,696.65 L310.35,695.80 L307.53,694.95 L304.69,694.10 L302.01,693.25 L299.67,692.40 L297.78,691.55 L296.34,690.70 L295.29,689.85 L294.49,689.00 L293.73,688.15 L292.81,687.30 L291.56,686.45 L289.87,685.60 L287.72,684.75 L285.18,683.90 L282.38,683.05 L279.53,682.20 L276.82,681.35 L274.44,680.50 L272.49,679.65 L271.00,678.80 Z" fill="#000088"/><path d="M33.0,680.00 H238.6 M33.0,683.60 H238.6 M33.0,687.20 H238.6 M33.0,690.80 H238.6 M33.0,694.40 H238.6 M33.0,698.00 H238.6 M33.0,701.60 H238.6 M33.0,705.20 H238.6 M33.0,708.80 H238.6 M33.0,712.40 H238.6" stroke="#000" stroke-opacity="0.3" stroke-width="1.0" fill="none"/><path d="M-77.60,678.80 L-76.11,679.65 L-74.16,680.50 L-71.78,681.35 L-69.07,682.20 L-66.22,683.05 L-63.42,683.90 L-60.88,684.75 L-58.73,685.60 L-57.04,686.45 L-55.79,687.30 L-54.87,688.15 L-54.11,689.00 L-53.31,689.85 L-52.26,690.70 L-50.82,691.55 L-48.93,692.40 L-46.59,693.25 L-43.91,694.10 L-41.07,694.95 L-38.25,695.80 L-35.67,696.65 L-33.47,697.50 L-31.73,698.35 L-30.43,699.20 L-29.48,700.05 L-28.71,700.90 L-27.92,701.75 L-26.91,702.60 L-25.53,703.45 L-23.69,704.30 L-21.40,705.15 L-18.75,706.00 L-15.92,706.85 L-13.09,707.70 L-10.47,708.55 L-8.22,709.40 L-6.90,710.80 L-5.87,712.20 L-5.14,713.60 L-4.70,715.00 L-4.55,716.40 M-52.70,678.80 L-51.21,679.65 L-49.26,680.50 L-46.88,681.35 L-44.17,682.20 L-41.32,683.05 L-38.52,683.90 L-35.98,684.75 L-33.83,685.60 L-32.14,686.45 L-30.89,687.30 L-29.97,688.15 L-29.21,689.00 L-28.41,689.85 L-27.36,690.70 L-25.92,691.55 L-24.03,692.40 L-21.69,693.25 L-19.01,694.10 L-16.17,694.95 L-13.35,695.80 L-10.77,696.65 L-8.57,697.50 L-6.83,698.35 L-5.53,699.20 L-4.58,700.05 L-3.81,700.90 L-3.02,701.75 L-2.01,702.60 L-0.63,703.45 L1.21,704.30 L3.50,705.15 L6.15,706.00 L8.98,706.85 L11.81,707.70 L14.43,708.55 L16.68,709.40 L18.00,710.80 L19.03,712.20 L19.76,713.60 L20.20,715.00 L20.35,716.40 M-27.80,678.80 L-26.31,679.65 L-24.36,680.50 L-21.98,681.35 L-19.27,682.20 L-16.42,683.05 L-13.62,683.90 L-11.08,684.75 L-8.93,685.60 L-7.24,686.45 L-5.99,687.30 L-5.07,688.15 L-4.31,689.00 L-3.51,689.85 L-2.46,690.70 L-1.02,691.55 L0.87,692.40 L3.21,693.25 L5.89,694.10 L8.73,694.95 L11.55,695.80 L14.13,696.65 L16.33,697.50 L18.07,698.35 L19.37,699.20 L20.32,700.05 L21.09,700.90 L21.88,701.75 L22.89,702.60 L24.27,703.45 L26.11,704.30 L28.40,705.15 L31.05,706.00 L33.88,706.85 L36.71,707.70 L39.33,708.55 L41.58,709.40 L42.90,710.80 L43.93,712.20 L44.66,713.60 L45.10,715.00 L45.25,716.40 M-2.90,678.80 L-1.41,679.65 L0.54,680.50 L2.92,681.35 L5.63,682.20 L8.48,683.05 L11.28,683.90 L13.82,684.75 L15.97,685.60 L17.66,686.45 L18.91,687.30 L19.83,688.15 L20.59,689.00 L21.39,689.85 L22.44,690.70 L23.88,691.55 L25.77,692.40 L28.11,693.25 L30.79,694.10 L33.63,694.95 L36.45,695.80 L39.03,696.65 L41.23,697.50 L42.97,698.35 L44.27,699.20 L45.22,700.05 L45.99,700.90 L46.78,701.75 L47.79,702.60 L49.17,703.45 L51.01,704.30 L53.30,705.15 L55.95,706.00 L58.78,706.85 L61.61,707.70 L64.23,708.55 L66.48,709.40 L67.80,710.80 L68.83,712.20 L69.56,713.60 L70.00,715.00 L70.15,716.40 M22.00,678.80 L23.49,679.65 L25.44,680.50 L27.82,681.35 L30.53,682.20 L33.38,683.05 L36.18,683.90 L38.72,684.75 L40.87,685.60 L42.56,686.45 L43.81,687.30 L44.73,688.15 L45.49,689.00 L46.29,689.85 L47.34,690.70 L48.78,691.55 L50.67,692.40 L53.01,693.25 L55.69,694.10 L58.53,694.95 L61.35,695.80 L63.93,696.65 L66.13,697.50 L67.87,698.35 L69.17,699.20 L70.12,700.05 L70.89,700.90 L71.68,701.75 L72.69,702.60 L74.07,703.45 L75.91,704.30 L78.20,705.15 L80.85,706.00 L83.68,706.85 L86.51,707.70 L89.13,708.55 L91.38,709.40 L92.70,710.80 L93.73,712.20 L94.46,713.60 L94.90,715.00 L95.05,716.40 M46.90,678.80 L48.39,679.65 L50.34,680.50 L52.72,681.35 L55.43,682.20 L58.28,683.05 L61.08,683.90 L63.62,684.75 L65.77,685.60 L67.46,686.45 L68.71,687.30 L69.63,688.15 L70.39,689.00 L71.19,689.85 L72.24,690.70 L73.68,691.55 L75.57,692.40 L77.91,693.25 L80.59,694.10 L83.43,694.95 L86.25,695.80 L88.83,696.65 L91.03,697.50 L92.77,698.35 L94.07,699.20 L95.02,700.05 L95.79,700.90 L96.58,701.75 L97.59,702.60 L98.97,703.45 L100.81,704.30 L103.10,705.15 L105.75,706.00 L108.58,706.85 L111.41,707.70 L114.03,708.55 L116.28,709.40 L117.60,710.80 L118.63,712.20 L119.36,713.60 L119.80,715.00 L119.95,716.40 M71.80,678.80 L73.29,679.65 L75.24,680.50 L77.62,681.35 L80.33,682.20 L83.18,683.05 L85.98,683.90 L88.52,684.75 L90.67,685.60 L92.36,686.45 L93.61,687.30 L94.53,688.15 L95.29,689.00 L96.09,689.85 L97.14,690.70 L98.58,691.55 L100.47,692.40 L102.81,693.25 L105.49,694.10 L108.33,694.95 L111.15,695.80 L113.73,696.65 L115.93,697.50 L117.67,698.35 L118.97,699.20 L119.92,700.05 L120.69,700.90 L121.48,701.75 L122.49,702.60 L123.87,703.45 L125.71,704.30 L128.00,705.15 L130.65,706.00 L133.48,706.85 L136.31,707.70 L138.93,708.55 L141.18,709.40 L142.50,710.80 L143.53,712.20 L144.26,713.60 L144.70,715.00 L144.85,716.40 M96.70,678.80 L98.19,679.65 L100.14,680.50 L102.52,681.35 L105.23,682.20 L108.08,683.05 L110.88,683.90 L113.42,684.75 L115.57,685.60 L117.26,686.45 L118.51,687.30 L119.43,688.15 L120.19,689.00 L120.99,689.85 L122.04,690.70 L123.48,691.55 L125.37,692.40 L127.71,693.25 L130.39,694.10 L133.23,694.95 L136.05,695.80 L138.63,696.65 L140.83,697.50 L142.57,698.35 L143.87,699.20 L144.82,700.05 L145.59,700.90 L146.38,701.75 L147.39,702.60 L148.77,703.45 L150.61,704.30 L152.90,705.15 L155.55,706.00 L158.38,706.85 L161.21,707.70 L163.83,708.55 L166.08,709.40 L167.40,710.80 L168.43,712.20 L169.16,713.60 L169.60,715.00 L169.75,716.40 M121.60,678.80 L123.09,679.65 L125.04,680.50 L127.42,681.35 L130.13,682.20 L132.98,683.05 L135.78,683.90 L138.32,684.75 L140.47,685.60 L142.16,686.45 L143.41,687.30 L144.33,688.15 L145.09,689.00 L145.89,689.85 L146.94,690.70 L148.38,691.55 L150.27,692.40 L152.61,693.25 L155.29,694.10 L158.13,694.95 L160.95,695.80 L163.53,696.65 L165.73,697.50 L167.47,698.35 L168.77,699.20 L169.72,700.05 L170.49,700.90 L171.28,701.75 L172.29,702.60 L173.67,703.45 L175.51,704.30 L177.80,705.15 L180.45,706.00 L183.28,706.85 L186.11,707.70 L188.73,708.55 L190.98,709.40 L192.30,710.80 L193.33,712.20 L194.06,713.60 L194.50,715.00 L194.65,716.40 M146.50,678.80 L147.99,679.65 L149.94,680.50 L152.32,681.35 L155.03,682.20 L157.88,683.05 L160.68,683.90 L163.22,684.75 L165.37,685.60 L167.06,686.45 L168.31,687.30 L169.23,688.15 L169.99,689.00 L170.79,689.85 L171.84,690.70 L173.28,691.55 L175.17,692.40 L177.51,693.25 L180.19,694.10 L183.03,694.95 L185.85,695.80 L188.43,696.65 L190.63,697.50 L192.37,698.35 L193.67,699.20 L194.62,700.05 L195.39,700.90 L196.18,701.75 L197.19,702.60 L198.57,703.45 L200.41,704.30 L202.70,705.15 L205.35,706.00 L208.18,706.85 L211.01,707.70 L213.63,708.55 L215.88,709.40 L217.20,710.80 L218.23,712.20 L218.96,713.60 L219.40,715.00 L219.55,716.40 M171.40,678.80 L172.89,679.65 L174.84,680.50 L177.22,681.35 L179.93,682.20 L182.78,683.05 L185.58,683.90 L188.12,684.75 L190.27,685.60 L191.96,686.45 L193.21,687.30 L194.13,688.15 L194.89,689.00 L195.69,689.85 L196.74,690.70 L198.18,691.55 L200.07,692.40 L202.41,693.25 L205.09,694.10 L207.93,694.95 L210.75,695.80 L213.33,696.65 L215.53,697.50 L217.27,698.35 L218.57,699.20 L219.52,700.05 L220.29,700.90 L221.08,701.75 L222.09,702.60 L223.47,703.45 L225.31,704.30 L227.60,705.15 L230.25,706.00 L233.08,706.85 L235.91,707.70 L238.53,708.55 L240.78,709.40 L242.10,710.80 L243.13,712.20 L243.86,713.60 L244.30,715.00 L244.45,716.40 M196.30,678.80 L197.79,679.65 L199.74,680.50 L202.12,681.35 L204.83,682.20 L207.68,683.05 L210.48,683.90 L213.02,684.75 L215.17,685.60 L216.86,686.45 L218.11,687.30 L219.03,688.15 L219.79,689.00 L220.59,689.85 L221.64,690.70 L223.08,691.55 L224.97,692.40 L227.31,693.25 L229.99,694.10 L232.83,694.95 L235.65,695.80 L238.23,696.65 L240.43,697.50 L242.17,698.35 L243.47,699.20 L244.42,700.05 L245.19,700.90 L245.98,701.75 L246.99,702.60 L248.37,703.45 L250.21,704.30 L252.50,705.15 L255.15,706.00 L257.98,706.85 L260.81,707.70 L263.43,708.55 L265.68,709.40 L267.00,710.80 L268.03,712.20 L268.76,713.60 L269.20,715.00 L269.35,716.40 M221.20,678.80 L222.69,679.65 L224.64,680.50 L227.02,681.35 L229.73,682.20 L232.58,683.05 L235.38,683.90 L237.92,684.75 L240.07,685.60 L241.76,686.45 L243.01,687.30 L243.93,688.15 L244.69,689.00 L245.49,689.85 L246.54,690.70 L247.98,691.55 L249.87,692.40 L252.21,693.25 L254.89,694.10 L257.73,694.95 L260.55,695.80 L263.13,696.65 L265.33,697.50 L267.07,698.35 L268.37,699.20 L269.32,700.05 L270.09,700.90 L270.88,701.75 L271.89,702.60 L273.27,703.45 L275.11,704.30 L277.40,705.15 L280.05,706.00 L282.88,706.85 L285.71,707.70 L288.33,708.55 L290.58,709.40 L291.90,710.80 L292.93,712.20 L293.66,713.60 L294.10,715.00 L294.25,716.40 M246.10,678.80 L247.59,679.65 L249.54,680.50 L251.92,681.35 L254.63,682.20 L257.48,683.05 L260.28,683.90 L262.82,684.75 L264.97,685.60 L266.66,686.45 L267.91,687.30 L268.83,688.15 L269.59,689.00 L270.39,689.85 L271.44,690.70 L272.88,691.55 L274.77,692.40 L277.11,693.25 L279.79,694.10 L282.63,694.95 L285.45,695.80 L288.03,696.65 L290.23,697.50 L291.97,698.35 L293.27,699.20 L294.22,700.05 L294.99,700.90 L295.78,701.75 L296.79,702.60 L298.17,703.45 L300.01,704.30 L302.30,705.15 L304.95,706.00 L307.78,706.85 L310.61,707.70 L313.23,708.55 L315.48,709.40 L316.80,710.80 L317.83,712.20 L318.56,713.60 L319.00,715.00 L319.15,716.40" stroke="#8c8c8c" stroke-width="2.1" fill="none"/><path d="M-77.60,678.80 L-76.11,679.65 L-74.16,680.50 L-71.78,681.35 L-69.07,682.20 L-66.22,683.05 L-63.42,683.90 L-60.88,684.75 L-58.73,685.60 L-57.04,686.45 L-55.79,687.30 L-54.87,688.15 L-54.11,689.00 L-53.31,689.85 L-52.26,690.70 L-50.82,691.55 L-48.93,692.40 L-46.59,693.25 L-43.91,694.10 L-41.07,694.95 L-38.25,695.80 L-35.67,696.65 L-33.47,697.50 L-31.73,698.35 L-30.43,699.20 L-29.48,700.05 L-28.71,700.90 L-27.92,701.75 L-26.91,702.60 L-25.53,703.45 L-23.69,704.30 L-21.40,705.15 L-18.75,706.00 L-15.92,706.85 L-13.09,707.70 L-10.47,708.55 L-8.22,709.40 L-6.90,710.80 L-5.87,712.20 L-5.14,713.60 L-4.70,715.00 L-4.55,716.40 M-52.70,678.80 L-51.21,679.65 L-49.26,680.50 L-46.88,681.35 L-44.17,682.20 L-41.32,683.05 L-38.52,683.90 L-35.98,684.75 L-33.83,685.60 L-32.14,686.45 L-30.89,687.30 L-29.97,688.15 L-29.21,689.00 L-28.41,689.85 L-27.36,690.70 L-25.92,691.55 L-24.03,692.40 L-21.69,693.25 L-19.01,694.10 L-16.17,694.95 L-13.35,695.80 L-10.77,696.65 L-8.57,697.50 L-6.83,698.35 L-5.53,699.20 L-4.58,700.05 L-3.81,700.90 L-3.02,701.75 L-2.01,702.60 L-0.63,703.45 L1.21,704.30 L3.50,705.15 L6.15,706.00 L8.98,706.85 L11.81,707.70 L14.43,708.55 L16.68,709.40 L18.00,710.80 L19.03,712.20 L19.76,713.60 L20.20,715.00 L20.35,716.40 M-27.80,678.80 L-26.31,679.65 L-24.36,680.50 L-21.98,681.35 L-19.27,682.20 L-16.42,683.05 L-13.62,683.90 L-11.08,684.75 L-8.93,685.60 L-7.24,686.45 L-5.99,687.30 L-5.07,688.15 L-4.31,689.00 L-3.51,689.85 L-2.46,690.70 L-1.02,691.55 L0.87,692.40 L3.21,693.25 L5.89,694.10 L8.73,694.95 L11.55,695.80 L14.13,696.65 L16.33,697.50 L18.07,698.35 L19.37,699.20 L20.32,700.05 L21.09,700.90 L21.88,701.75 L22.89,702.60 L24.27,703.45 L26.11,704.30 L28.40,705.15 L31.05,706.00 L33.88,706.85 L36.71,707.70 L39.33,708.55 L41.58,709.40 L42.90,710.80 L43.93,712.20 L44.66,713.60 L45.10,715.00 L45.25,716.40 M-2.90,678.80 L-1.41,679.65 L0.54,680.50 L2.92,681.35 L5.63,682.20 L8.48,683.05 L11.28,683.90 L13.82,684.75 L15.97,685.60 L17.66,686.45 L18.91,687.30 L19.83,688.15 L20.59,689.00 L21.39,689.85 L22.44,690.70 L23.88,691.55 L25.77,692.40 L28.11,693.25 L30.79,694.10 L33.63,694.95 L36.45,695.80 L39.03,696.65 L41.23,697.50 L42.97,698.35 L44.27,699.20 L45.22,700.05 L45.99,700.90 L46.78,701.75 L47.79,702.60 L49.17,703.45 L51.01,704.30 L53.30,705.15 L55.95,706.00 L58.78,706.85 L61.61,707.70 L64.23,708.55 L66.48,709.40 L67.80,710.80 L68.83,712.20 L69.56,713.60 L70.00,715.00 L70.15,716.40 M22.00,678.80 L23.49,679.65 L25.44,680.50 L27.82,681.35 L30.53,682.20 L33.38,683.05 L36.18,683.90 L38.72,684.75 L40.87,685.60 L42.56,686.45 L43.81,687.30 L44.73,688.15 L45.49,689.00 L46.29,689.85 L47.34,690.70 L48.78,691.55 L50.67,692.40 L53.01,693.25 L55.69,694.10 L58.53,694.95 L61.35,695.80 L63.93,696.65 L66.13,697.50 L67.87,698.35 L69.17,699.20 L70.12,700.05 L70.89,700.90 L71.68,701.75 L72.69,702.60 L74.07,703.45 L75.91,704.30 L78.20,705.15 L80.85,706.00 L83.68,706.85 L86.51,707.70 L89.13,708.55 L91.38,709.40 L92.70,710.80 L93.73,712.20 L94.46,713.60 L94.90,715.00 L95.05,716.40 M46.90,678.80 L48.39,679.65 L50.34,680.50 L52.72,681.35 L55.43,682.20 L58.28,683.05 L61.08,683.90 L63.62,684.75 L65.77,685.60 L67.46,686.45 L68.71,687.30 L69.63,688.15 L70.39,689.00 L71.19,689.85 L72.24,690.70 L73.68,691.55 L75.57,692.40 L77.91,693.25 L80.59,694.10 L83.43,694.95 L86.25,695.80 L88.83,696.65 L91.03,697.50 L92.77,698.35 L94.07,699.20 L95.02,700.05 L95.79,700.90 L96.58,701.75 L97.59,702.60 L98.97,703.45 L100.81,704.30 L103.10,705.15 L105.75,706.00 L108.58,706.85 L111.41,707.70 L114.03,708.55 L116.28,709.40 L117.60,710.80 L118.63,712.20 L119.36,713.60 L119.80,715.00 L119.95,716.40 M71.80,678.80 L73.29,679.65 L75.24,680.50 L77.62,681.35 L80.33,682.20 L83.18,683.05 L85.98,683.90 L88.52,684.75 L90.67,685.60 L92.36,686.45 L93.61,687.30 L94.53,688.15 L95.29,689.00 L96.09,689.85 L97.14,690.70 L98.58,691.55 L100.47,692.40 L102.81,693.25 L105.49,694.10 L108.33,694.95 L111.15,695.80 L113.73,696.65 L115.93,697.50 L117.67,698.35 L118.97,699.20 L119.92,700.05 L120.69,700.90 L121.48,701.75 L122.49,702.60 L123.87,703.45 L125.71,704.30 L128.00,705.15 L130.65,706.00 L133.48,706.85 L136.31,707.70 L138.93,708.55 L141.18,709.40 L142.50,710.80 L143.53,712.20 L144.26,713.60 L144.70,715.00 L144.85,716.40 M96.70,678.80 L98.19,679.65 L100.14,680.50 L102.52,681.35 L105.23,682.20 L108.08,683.05 L110.88,683.90 L113.42,684.75 L115.57,685.60 L117.26,686.45 L118.51,687.30 L119.43,688.15 L120.19,689.00 L120.99,689.85 L122.04,690.70 L123.48,691.55 L125.37,692.40 L127.71,693.25 L130.39,694.10 L133.23,694.95 L136.05,695.80 L138.63,696.65 L140.83,697.50 L142.57,698.35 L143.87,699.20 L144.82,700.05 L145.59,700.90 L146.38,701.75 L147.39,702.60 L148.77,703.45 L150.61,704.30 L152.90,705.15 L155.55,706.00 L158.38,706.85 L161.21,707.70 L163.83,708.55 L166.08,709.40 L167.40,710.80 L168.43,712.20 L169.16,713.60 L169.60,715.00 L169.75,716.40 M121.60,678.80 L123.09,679.65 L125.04,680.50 L127.42,681.35 L130.13,682.20 L132.98,683.05 L135.78,683.90 L138.32,684.75 L140.47,685.60 L142.16,686.45 L143.41,687.30 L144.33,688.15 L145.09,689.00 L145.89,689.85 L146.94,690.70 L148.38,691.55 L150.27,692.40 L152.61,693.25 L155.29,694.10 L158.13,694.95 L160.95,695.80 L163.53,696.65 L165.73,697.50 L167.47,698.35 L168.77,699.20 L169.72,700.05 L170.49,700.90 L171.28,701.75 L172.29,702.60 L173.67,703.45 L175.51,704.30 L177.80,705.15 L180.45,706.00 L183.28,706.85 L186.11,707.70 L188.73,708.55 L190.98,709.40 L192.30,710.80 L193.33,712.20 L194.06,713.60 L194.50,715.00 L194.65,716.40 M146.50,678.80 L147.99,679.65 L149.94,680.50 L152.32,681.35 L155.03,682.20 L157.88,683.05 L160.68,683.90 L163.22,684.75 L165.37,685.60 L167.06,686.45 L168.31,687.30 L169.23,688.15 L169.99,689.00 L170.79,689.85 L171.84,690.70 L173.28,691.55 L175.17,692.40 L177.51,693.25 L180.19,694.10 L183.03,694.95 L185.85,695.80 L188.43,696.65 L190.63,697.50 L192.37,698.35 L193.67,699.20 L194.62,700.05 L195.39,700.90 L196.18,701.75 L197.19,702.60 L198.57,703.45 L200.41,704.30 L202.70,705.15 L205.35,706.00 L208.18,706.85 L211.01,707.70 L213.63,708.55 L215.88,709.40 L217.20,710.80 L218.23,712.20 L218.96,713.60 L219.40,715.00 L219.55,716.40 M171.40,678.80 L172.89,679.65 L174.84,680.50 L177.22,681.35 L179.93,682.20 L182.78,683.05 L185.58,683.90 L188.12,684.75 L190.27,685.60 L191.96,686.45 L193.21,687.30 L194.13,688.15 L194.89,689.00 L195.69,689.85 L196.74,690.70 L198.18,691.55 L200.07,692.40 L202.41,693.25 L205.09,694.10 L207.93,694.95 L210.75,695.80 L213.33,696.65 L215.53,697.50 L217.27,698.35 L218.57,699.20 L219.52,700.05 L220.29,700.90 L221.08,701.75 L222.09,702.60 L223.47,703.45 L225.31,704.30 L227.60,705.15 L230.25,706.00 L233.08,706.85 L235.91,707.70 L238.53,708.55 L240.78,709.40 L242.10,710.80 L243.13,712.20 L243.86,713.60 L244.30,715.00 L244.45,716.40 M196.30,678.80 L197.79,679.65 L199.74,680.50 L202.12,681.35 L204.83,682.20 L207.68,683.05 L210.48,683.90 L213.02,684.75 L215.17,685.60 L216.86,686.45 L218.11,687.30 L219.03,688.15 L219.79,689.00 L220.59,689.85 L221.64,690.70 L223.08,691.55 L224.97,692.40 L227.31,693.25 L229.99,694.10 L232.83,694.95 L235.65,695.80 L238.23,696.65 L240.43,697.50 L242.17,698.35 L243.47,699.20 L244.42,700.05 L245.19,700.90 L245.98,701.75 L246.99,702.60 L248.37,703.45 L250.21,704.30 L252.50,705.15 L255.15,706.00 L257.98,706.85 L260.81,707.70 L263.43,708.55 L265.68,709.40 L267.00,710.80 L268.03,712.20 L268.76,713.60 L269.20,715.00 L269.35,716.40 M221.20,678.80 L222.69,679.65 L224.64,680.50 L227.02,681.35 L229.73,682.20 L232.58,683.05 L235.38,683.90 L237.92,684.75 L240.07,685.60 L241.76,686.45 L243.01,687.30 L243.93,688.15 L244.69,689.00 L245.49,689.85 L246.54,690.70 L247.98,691.55 L249.87,692.40 L252.21,693.25 L254.89,694.10 L257.73,694.95 L260.55,695.80 L263.13,696.65 L265.33,697.50 L267.07,698.35 L268.37,699.20 L269.32,700.05 L270.09,700.90 L270.88,701.75 L271.89,702.60 L273.27,703.45 L275.11,704.30 L277.40,705.15 L280.05,706.00 L282.88,706.85 L285.71,707.70 L288.33,708.55 L290.58,709.40 L291.90,710.80 L292.93,712.20 L293.66,713.60 L294.10,715.00 L294.25,716.40 M246.10,678.80 L247.59,679.65 L249.54,680.50 L251.92,681.35 L254.63,682.20 L257.48,683.05 L260.28,683.90 L262.82,684.75 L264.97,685.60 L266.66,686.45 L267.91,687.30 L268.83,688.15 L269.59,689.00 L270.39,689.85 L271.44,690.70 L272.88,691.55 L274.77,692.40 L277.11,693.25 L279.79,694.10 L282.63,694.95 L285.45,695.80 L288.03,696.65 L290.23,697.50 L291.97,698.35 L293.27,699.20 L294.22,700.05 L294.99,700.90 L295.78,701.75 L296.79,702.60 L298.17,703.45 L300.01,704.30 L302.30,705.15 L304.95,706.00 L307.78,706.85 L310.61,707.70 L313.23,708.55 L315.48,709.40 L316.80,710.80 L317.83,712.20 L318.56,713.60 L319.00,715.00 L319.15,716.40" stroke="#8c8c8c" stroke-width="5.0" fill="none" clip-path="url(#cp6)"/><rect x="33.0" y="713.8" width="205.6" height="1.6" fill="#000" fill-opacity="0.4"/><rect x="33.0" y="678.8" width="205.6" height="1.2" fill="#000" fill-opacity="0.35"/><path d="M-50.91,715.80 L-32.89,715.80 C-32.89,719.55 -35.30,723.60 -36.30,724.68 Q-37.50,725.40 -41.90,725.40 Q-46.30,725.40 -47.50,724.68 C-48.50,723.60 -50.91,719.55 -50.91,715.80 Z" fill="#e50000"/><path d="M-26.01,715.80 L-7.99,715.80 C-7.99,719.90 -10.40,724.40 -11.40,725.60 Q-12.60,726.40 -17.00,726.40 Q-21.40,726.40 -22.60,725.60 C-23.60,724.40 -26.01,719.90 -26.01,715.80 Z" fill="#0000e5"/><path d="M-1.11,715.80 L16.91,715.80 C16.91,719.55 14.50,723.60 13.50,724.68 Q12.30,725.40 7.90,725.40 Q3.50,725.40 2.30,724.68 C1.30,723.60 -1.11,719.55 -1.11,715.80 Z" fill="#e50000"/><path d="M23.79,715.80 L41.81,715.80 C41.81,719.90 39.40,724.40 38.40,725.60 Q37.20,726.40 32.80,726.40 Q28.40,726.40 27.20,725.60 C26.20,724.40 23.79,719.90 23.79,715.80 Z" fill="#0000e5"/><path d="M48.69,715.80 L66.71,715.80 C66.71,719.55 64.30,723.60 63.30,724.68 Q62.10,725.40 57.70,725.40 Q53.30,725.40 52.10,724.68 C51.10,723.60 48.69,719.55 48.69,715.80 Z" fill="#e50000"/><path d="M73.59,715.80 L91.61,715.80 C91.61,719.90 89.20,724.40 88.20,725.60 Q87.00,726.40 82.60,726.40 Q78.20,726.40 77.00,725.60 C76.00,724.40 73.59,719.90 73.59,715.80 Z" fill="#0000e5"/><path d="M98.49,715.80 L116.51,715.80 C116.51,719.55 114.10,723.60 113.10,724.68 Q111.90,725.40 107.50,725.40 Q103.10,725.40 101.90,724.68 C100.90,723.60 98.49,719.55 98.49,715.80 Z" fill="#e50000"/><path d="M123.39,715.80 L141.41,715.80 C141.41,719.90 139.00,724.40 138.00,725.60 Q136.80,726.40 132.40,726.40 Q128.00,726.40 126.80,725.60 C125.80,724.40 123.39,719.90 123.39,715.80 Z" fill="#0000e5"/><path d="M148.29,715.80 L166.31,715.80 C166.31,719.55 163.90,723.60 162.90,724.68 Q161.70,725.40 157.30,725.40 Q152.90,725.40 151.70,724.68 C150.70,723.60 148.29,719.55 148.29,715.80 Z" fill="#e50000"/><path d="M173.19,715.80 L191.21,715.80 C191.21,719.90 188.80,724.40 187.80,725.60 Q186.60,726.40 182.20,726.40 Q177.80,726.40 176.60,725.60 C175.60,724.40 173.19,719.90 173.19,715.80 Z" fill="#0000e5"/><path d="M198.09,715.80 L216.11,715.80 C216.11,719.55 213.70,723.60 212.70,724.68 Q211.50,725.40 207.10,725.40 Q202.70,725.40 201.50,724.68 C200.50,723.60 198.09,719.55 198.09,715.80 Z" fill="#e50000"/><path d="M222.99,715.80 L241.01,715.80 C241.01,719.90 238.60,724.40 237.60,725.60 Q236.40,726.40 232.00,726.40 Q227.60,726.40 226.40,725.60 C225.40,724.40 222.99,719.90 222.99,715.80 Z" fill="#0000e5"/><path d="M247.89,715.80 L265.91,715.80 C265.91,719.55 263.50,723.60 262.50,724.68 Q261.30,725.40 256.90,725.40 Q252.50,725.40 251.30,724.68 C250.30,723.60 247.89,719.55 247.89,715.80 Z" fill="#e50000"/><path d="M272.79,715.80 L290.81,715.80 C290.81,719.90 288.40,724.40 287.40,725.60 Q286.20,726.40 281.80,726.40 Q277.40,726.40 276.20,725.60 C275.20,724.40 272.79,719.90 272.79,715.80 Z" fill="#0000e5"/><path d="M-62.43,678.80 L-62.43,678.00 L-62.06,668.08 L-60.32,660.64 L-57.94,654.94 L-56.65,653.20 L-43.81,653.20 L-42.35,654.69 L-41.25,661.38 L-39.41,666.84 L-38.77,671.80 L-38.77,678.00 L-38.77,678.80 Z" fill="#0000e5" stroke="#0000e5" stroke-width="0.4" stroke-linejoin="round"/><path d="M-37.53,678.80 L-37.53,678.00 L-37.16,668.08 L-35.42,660.64 L-33.04,654.94 L-31.75,653.20 L-18.91,653.20 L-17.45,654.69 L-16.35,661.38 L-14.51,666.84 L-13.87,671.80 L-13.87,678.00 L-13.87,678.80 Z" fill="#e50000" stroke="#e50000" stroke-width="0.4" stroke-linejoin="round"/><path d="M-12.63,678.80 L-12.63,678.00 L-12.26,668.08 L-10.52,660.64 L-8.14,654.94 L-6.85,653.20 L5.99,653.20 L7.45,654.69 L8.55,661.38 L10.39,666.84 L11.03,671.80 L11.03,678.00 L11.03,678.80 Z" fill="#0000e5" stroke="#0000e5" stroke-width="0.4" stroke-linejoin="round"/><path d="M12.27,678.80 L12.27,678.00 L12.64,668.08 L14.38,660.64 L16.76,654.94 L18.05,653.20 L30.89,653.20 L32.35,654.69 L33.45,661.38 L35.29,666.84 L35.93,671.80 L35.93,678.00 L35.93,678.80 Z" fill="#e50000" stroke="#e50000" stroke-width="0.4" stroke-linejoin="round"/><path d="M37.17,678.80 L37.17,678.00 L37.54,668.08 L39.28,660.64 L41.66,654.94 L42.95,653.20 L55.79,653.20 L57.25,654.69 L58.35,661.38 L60.19,666.84 L60.83,671.80 L60.83,678.00 L60.83,678.80 Z" fill="#0000e5" stroke="#0000e5" stroke-width="0.4" stroke-linejoin="round"/><path d="M62.07,678.80 L62.07,678.00 L62.44,668.08 L64.18,660.64 L66.56,654.94 L67.85,653.20 L80.69,653.20 L82.15,654.69 L83.25,661.38 L85.09,666.84 L85.73,671.80 L85.73,678.00 L85.73,678.80 Z" fill="#e50000" stroke="#e50000" stroke-width="0.4" stroke-linejoin="round"/><path d="M86.97,678.80 L86.97,678.00 L87.34,668.08 L89.08,660.64 L91.46,654.94 L92.75,653.20 L105.59,653.20 L107.05,654.69 L108.15,661.38 L109.99,666.84 L110.63,671.80 L110.63,678.00 L110.63,678.80 Z" fill="#0000e5" stroke="#0000e5" stroke-width="0.4" stroke-linejoin="round"/><path d="M111.87,678.80 L111.87,678.00 L112.24,668.08 L113.98,660.64 L116.36,654.94 L117.65,653.20 L130.49,653.20 L131.95,654.69 L133.05,661.38 L134.89,666.84 L135.53,671.80 L135.53,678.00 L135.53,678.80 Z" fill="#e50000" stroke="#e50000" stroke-width="0.4" stroke-linejoin="round"/><path d="M136.77,678.80 L136.77,678.00 L137.14,668.08 L138.88,660.64 L141.26,654.94 L142.55,653.20 L155.39,653.20 L156.85,654.69 L157.95,661.38 L159.79,666.84 L160.43,671.80 L160.43,678.00 L160.43,678.80 Z" fill="#0000e5" stroke="#0000e5" stroke-width="0.4" stroke-linejoin="round"/><path d="M161.67,678.80 L161.67,678.00 L162.04,668.08 L163.78,660.64 L166.16,654.94 L167.45,653.20 L180.29,653.20 L181.75,654.69 L182.85,661.38 L184.69,666.84 L185.33,671.80 L185.33,678.00 L185.33,678.80 Z" fill="#e50000" stroke="#e50000" stroke-width="0.4" stroke-linejoin="round"/><path d="M186.57,678.80 L186.57,678.00 L186.94,668.08 L188.68,660.64 L191.06,654.94 L192.35,653.20 L205.19,653.20 L206.65,654.69 L207.75,661.38 L209.59,666.84 L210.23,671.80 L210.23,678.00 L210.23,678.80 Z" fill="#0000e5" stroke="#0000e5" stroke-width="0.4" stroke-linejoin="round"/><path d="M211.47,678.80 L211.47,678.00 L211.84,668.08 L213.58,660.64 L215.96,654.94 L217.25,653.20 L230.09,653.20 L231.55,654.69 L232.65,661.38 L234.49,666.84 L235.13,671.80 L235.13,678.00 L235.13,678.80 Z" fill="#e50000" stroke="#e50000" stroke-width="0.4" stroke-linejoin="round"/><path d="M236.37,678.80 L236.37,678.00 L236.74,668.08 L238.48,660.64 L240.86,654.94 L242.15,653.20 L254.99,653.20 L256.45,654.69 L257.55,661.38 L259.39,666.84 L260.03,671.80 L260.03,678.00 L260.03,678.80 Z" fill="#0000e5" stroke="#0000e5" stroke-width="0.4" stroke-linejoin="round"/><path d="M261.27,678.80 L261.27,678.00 L261.64,668.08 L263.38,660.64 L265.76,654.94 L267.05,653.20 L279.89,653.20 L281.35,654.69 L282.45,661.38 L284.29,666.84 L284.93,671.80 L284.93,678.00 L284.93,678.80 Z" fill="#e50000" stroke="#e50000" stroke-width="0.4" stroke-linejoin="round"/><path d="M34.5,670.0 H224.6" stroke="#ffe500" stroke-width="1.9" stroke-dasharray="7.2 6"/><path d="M226.1,666.1 L237.6,670.0 L226.1,673.9 Z" fill="#ffe500"/><path d="M219.6,670.0 H228.6" stroke="#ffe500" stroke-width="1.9"/><text x="213.6" y="666.7" font-size="11.5" fill="#ffe500">e</text><rect x="221.1" y="660.0" width="2.3" height="1.0" fill="#ffe500"/></g><clipPath id="cp7"><rect x="243.0" y="652.8" width="206.5" height="79.2"/></clipPath><clipPath id="cp8"><rect x="243.0" y="709.4" width="206.5" height="7"/></clipPath><g clip-path="url(#cp7)"><rect x="243.0" y="652.8" width="206.5" height="79.2" fill="#e3e3e3"/><rect x="243.0" y="678.80" width="206.5" height="1.36" fill="#929292"/><rect x="243.0" y="680.10" width="206.5" height="1.36" fill="#7e7e7e"/><rect x="243.0" y="681.40" width="206.5" height="1.36" fill="#626262"/><rect x="243.0" y="682.70" width="206.5" height="1.36" fill="#8c8c8c"/><rect x="243.0" y="684.00" width="206.5" height="1.36" fill="#a2a2a2"/><rect x="243.0" y="685.30" width="206.5" height="1.36" fill="#727272"/><rect x="243.0" y="686.60" width="206.5" height="1.36" fill="#4e4e4e"/><rect x="243.0" y="687.90" width="206.5" height="1.36" fill="#868686"/><rect x="243.0" y="689.20" width="206.5" height="1.36" fill="#929292"/><rect x="243.0" y="690.50" width="206.5" height="1.36" fill="#7e7e7e"/><rect x="243.0" y="691.80" width="206.5" height="1.36" fill="#626262"/><rect x="243.0" y="693.10" width="206.5" height="1.36" fill="#8c8c8c"/><rect x="243.0" y="694.40" width="206.5" height="1.36" fill="#a2a2a2"/><rect x="243.0" y="695.70" width="206.5" height="1.36" fill="#727272"/><rect x="243.0" y="697.00" width="206.5" height="1.36" fill="#4e4e4e"/><rect x="243.0" y="698.30" width="206.5" height="1.36" fill="#868686"/><rect x="243.0" y="699.60" width="206.5" height="1.36" fill="#929292"/><rect x="243.0" y="700.90" width="206.5" height="1.36" fill="#7e7e7e"/><rect x="243.0" y="702.20" width="206.5" height="1.36" fill="#626262"/><rect x="243.0" y="703.50" width="206.5" height="1.36" fill="#8c8c8c"/><rect x="243.0" y="704.80" width="206.5" height="1.36" fill="#a2a2a2"/><rect x="243.0" y="706.10" width="206.5" height="1.36" fill="#727272"/><rect x="243.0" y="707.40" width="206.5" height="1.36" fill="#4e4e4e"/><rect x="243.0" y="708.70" width="206.5" height="1.36" fill="#868686"/><rect x="243.0" y="710.00" width="206.5" height="1.36" fill="#929292"/><rect x="243.0" y="711.30" width="206.5" height="1.36" fill="#7e7e7e"/><rect x="243.0" y="712.60" width="206.5" height="1.36" fill="#626262"/><rect x="243.0" y="713.90" width="206.5" height="1.36" fill="#8c8c8c"/><rect x="243.0" y="715.20" width="206.5" height="1.26" fill="#a2a2a2"/><path d="M131.25,678.80 L132.04,679.65 L133.06,680.50 L134.50,681.35 L136.45,682.20 L138.89,683.05 L141.73,683.90 L144.78,684.75 L147.82,685.60 L150.63,686.45 L153.04,687.30 L154.95,688.15 L156.36,689.00 L157.36,689.85 L158.14,690.70 L158.91,691.55 L159.90,692.40 L161.28,693.25 L163.17,694.10 L165.55,694.95 L168.35,695.80 L171.39,696.65 L174.44,697.50 L177.29,698.35 L179.76,699.20 L181.73,700.05 L183.19,700.90 L184.23,701.75 L185.03,702.60 L185.79,703.45 L186.74,704.30 L188.07,705.15 L189.89,706.00 L192.22,706.85 L194.98,707.70 L198.00,708.55 L201.07,709.40 L202.53,710.80 L203.66,712.20 L204.48,713.60 L204.96,715.00 L205.13,716.40 L232.68,716.40 L232.51,715.00 L232.03,713.60 L231.21,712.20 L230.08,710.80 L228.62,709.40 L225.55,708.55 L222.53,707.70 L219.77,706.85 L217.44,706.00 L215.62,705.15 L214.29,704.30 L213.34,703.45 L212.58,702.60 L211.78,701.75 L210.74,700.90 L209.28,700.05 L207.31,699.20 L204.84,698.35 L201.99,697.50 L198.94,696.65 L195.90,695.80 L193.10,694.95 L190.72,694.10 L188.83,693.25 L187.45,692.40 L186.46,691.55 L185.69,690.70 L184.91,689.85 L183.91,689.00 L182.50,688.15 L180.59,687.30 L178.18,686.45 L175.37,685.60 L172.33,684.75 L169.28,683.90 L166.44,683.05 L164.00,682.20 L162.05,681.35 L160.61,680.50 L159.59,679.65 L158.80,678.80 Z" fill="#860000"/><path d="M158.80,678.80 L159.59,679.65 L160.61,680.50 L162.05,681.35 L164.00,682.20 L166.44,683.05 L169.28,683.90 L172.33,684.75 L175.37,685.60 L178.18,686.45 L180.59,687.30 L182.50,688.15 L183.91,689.00 L184.91,689.85 L185.69,690.70 L186.46,691.55 L187.45,692.40 L188.83,693.25 L190.72,694.10 L193.10,694.95 L195.90,695.80 L198.94,696.65 L201.99,697.50 L204.84,698.35 L207.31,699.20 L209.28,700.05 L210.74,700.90 L211.78,701.75 L212.58,702.60 L213.34,703.45 L214.29,704.30 L215.62,705.15 L217.44,706.00 L219.77,706.85 L222.53,707.70 L225.55,708.55 L228.62,709.40 L230.08,710.80 L231.21,712.20 L232.03,713.60 L232.51,715.00 L232.68,716.40 L260.23,716.40 L260.06,715.00 L259.58,713.60 L258.76,712.20 L257.63,710.80 L256.17,709.40 L253.10,708.55 L250.08,707.70 L247.32,706.85 L244.99,706.00 L243.17,705.15 L241.84,704.30 L240.89,703.45 L240.13,702.60 L239.33,701.75 L238.29,700.90 L236.83,700.05 L234.86,699.20 L232.39,698.35 L229.54,697.50 L226.49,696.65 L223.45,695.80 L220.65,694.95 L218.27,694.10 L216.38,693.25 L215.00,692.40 L214.01,691.55 L213.24,690.70 L212.46,689.85 L211.46,689.00 L210.05,688.15 L208.14,687.30 L205.73,686.45 L202.92,685.60 L199.88,684.75 L196.83,683.90 L193.99,683.05 L191.55,682.20 L189.60,681.35 L188.16,680.50 L187.14,679.65 L186.35,678.80 Z" fill="#000088"/><path d="M186.35,678.80 L187.14,679.65 L188.16,680.50 L189.60,681.35 L191.55,682.20 L193.99,683.05 L196.83,683.90 L199.88,684.75 L202.92,685.60 L205.73,686.45 L208.14,687.30 L210.05,688.15 L211.46,689.00 L212.46,689.85 L213.24,690.70 L214.01,691.55 L215.00,692.40 L216.38,693.25 L218.27,694.10 L220.65,694.95 L223.45,695.80 L226.49,696.65 L229.54,697.50 L232.39,698.35 L234.86,699.20 L236.83,700.05 L238.29,700.90 L239.33,701.75 L240.13,702.60 L240.89,703.45 L241.84,704.30 L243.17,705.15 L244.99,706.00 L247.32,706.85 L250.08,707.70 L253.10,708.55 L256.17,709.40 L257.63,710.80 L258.76,712.20 L259.58,713.60 L260.06,715.00 L260.22,716.40 L287.77,716.40 L287.61,715.00 L287.13,713.60 L286.31,712.20 L285.18,710.80 L283.72,709.40 L280.65,708.55 L277.63,707.70 L274.87,706.85 L272.54,706.00 L270.72,705.15 L269.39,704.30 L268.44,703.45 L267.68,702.60 L266.88,701.75 L265.84,700.90 L264.38,700.05 L262.41,699.20 L259.94,698.35 L257.09,697.50 L254.04,696.65 L251.00,695.80 L248.20,694.95 L245.82,694.10 L243.93,693.25 L242.55,692.40 L241.56,691.55 L240.79,690.70 L240.01,689.85 L239.01,689.00 L237.60,688.15 L235.69,687.30 L233.28,686.45 L230.47,685.60 L227.43,684.75 L224.38,683.90 L221.54,683.05 L219.10,682.20 L217.15,681.35 L215.71,680.50 L214.69,679.65 L213.90,678.80 Z" fill="#860000"/><path d="M213.90,678.80 L214.69,679.65 L215.71,680.50 L217.15,681.35 L219.10,682.20 L221.54,683.05 L224.38,683.90 L227.43,684.75 L230.47,685.60 L233.28,686.45 L235.69,687.30 L237.60,688.15 L239.01,689.00 L240.01,689.85 L240.79,690.70 L241.56,691.55 L242.55,692.40 L243.93,693.25 L245.82,694.10 L248.20,694.95 L251.00,695.80 L254.04,696.65 L257.09,697.50 L259.94,698.35 L262.41,699.20 L264.38,700.05 L265.84,700.90 L266.88,701.75 L267.68,702.60 L268.44,703.45 L269.39,704.30 L270.72,705.15 L272.54,706.00 L274.87,706.85 L277.63,707.70 L280.65,708.55 L283.72,709.40 L285.18,710.80 L286.31,712.20 L287.13,713.60 L287.61,715.00 L287.77,716.40 L315.32,716.40 L315.16,715.00 L314.68,713.60 L313.86,712.20 L312.73,710.80 L311.27,709.40 L308.20,708.55 L305.18,707.70 L302.42,706.85 L300.09,706.00 L298.27,705.15 L296.94,704.30 L295.99,703.45 L295.23,702.60 L294.43,701.75 L293.39,700.90 L291.93,700.05 L289.96,699.20 L287.49,698.35 L284.64,697.50 L281.59,696.65 L278.55,695.80 L275.75,694.95 L273.37,694.10 L271.48,693.25 L270.10,692.40 L269.11,691.55 L268.34,690.70 L267.56,689.85 L266.56,689.00 L265.15,688.15 L263.24,687.30 L260.83,686.45 L258.02,685.60 L254.98,684.75 L251.93,683.90 L249.09,683.05 L246.65,682.20 L244.70,681.35 L243.26,680.50 L242.24,679.65 L241.45,678.80 Z" fill="#000088"/><path d="M241.45,678.80 L242.24,679.65 L243.26,680.50 L244.70,681.35 L246.65,682.20 L249.09,683.05 L251.93,683.90 L254.98,684.75 L258.02,685.60 L260.83,686.45 L263.24,687.30 L265.15,688.15 L266.56,689.00 L267.56,689.85 L268.34,690.70 L269.11,691.55 L270.10,692.40 L271.48,693.25 L273.37,694.10 L275.75,694.95 L278.55,695.80 L281.59,696.65 L284.64,697.50 L287.49,698.35 L289.96,699.20 L291.93,700.05 L293.39,700.90 L294.43,701.75 L295.23,702.60 L295.99,703.45 L296.94,704.30 L298.27,705.15 L300.09,706.00 L302.42,706.85 L305.18,707.70 L308.20,708.55 L311.27,709.40 L312.73,710.80 L313.86,712.20 L314.68,713.60 L315.16,715.00 L315.32,716.40 L342.88,716.40 L342.71,715.00 L342.23,713.60 L341.41,712.20 L340.28,710.80 L338.82,709.40 L335.75,708.55 L332.73,707.70 L329.97,706.85 L327.64,706.00 L325.82,705.15 L324.49,704.30 L323.54,703.45 L322.78,702.60 L321.98,701.75 L320.94,700.90 L319.48,700.05 L317.51,699.20 L315.04,698.35 L312.19,697.50 L309.14,696.65 L306.10,695.80 L303.30,694.95 L300.92,694.10 L299.03,693.25 L297.65,692.40 L296.66,691.55 L295.89,690.70 L295.11,689.85 L294.11,689.00 L292.70,688.15 L290.79,687.30 L288.38,686.45 L285.57,685.60 L282.53,684.75 L279.48,683.90 L276.64,683.05 L274.20,682.20 L272.25,681.35 L270.81,680.50 L269.79,679.65 L269.00,678.80 Z" fill="#860000"/><path d="M269.00,678.80 L269.79,679.65 L270.81,680.50 L272.25,681.35 L274.20,682.20 L276.64,683.05 L279.48,683.90 L282.53,684.75 L285.57,685.60 L288.38,686.45 L290.79,687.30 L292.70,688.15 L294.11,689.00 L295.11,689.85 L295.89,690.70 L296.66,691.55 L297.65,692.40 L299.03,693.25 L300.92,694.10 L303.30,694.95 L306.10,695.80 L309.14,696.65 L312.19,697.50 L315.04,698.35 L317.51,699.20 L319.48,700.05 L320.94,700.90 L321.98,701.75 L322.78,702.60 L323.54,703.45 L324.49,704.30 L325.82,705.15 L327.64,706.00 L329.97,706.85 L332.73,707.70 L335.75,708.55 L338.82,709.40 L340.28,710.80 L341.41,712.20 L342.23,713.60 L342.71,715.00 L342.88,716.40 L370.43,716.40 L370.26,715.00 L369.78,713.60 L368.96,712.20 L367.83,710.80 L366.37,709.40 L363.30,708.55 L360.28,707.70 L357.52,706.85 L355.19,706.00 L353.37,705.15 L352.04,704.30 L351.09,703.45 L350.33,702.60 L349.53,701.75 L348.49,700.90 L347.03,700.05 L345.06,699.20 L342.59,698.35 L339.74,697.50 L336.69,696.65 L333.65,695.80 L330.85,694.95 L328.47,694.10 L326.58,693.25 L325.20,692.40 L324.21,691.55 L323.44,690.70 L322.66,689.85 L321.66,689.00 L320.25,688.15 L318.34,687.30 L315.93,686.45 L313.12,685.60 L310.08,684.75 L307.03,683.90 L304.19,683.05 L301.75,682.20 L299.80,681.35 L298.36,680.50 L297.34,679.65 L296.55,678.80 Z" fill="#000088"/><path d="M296.55,678.80 L297.34,679.65 L298.36,680.50 L299.80,681.35 L301.75,682.20 L304.19,683.05 L307.03,683.90 L310.08,684.75 L313.12,685.60 L315.93,686.45 L318.34,687.30 L320.25,688.15 L321.66,689.00 L322.66,689.85 L323.44,690.70 L324.21,691.55 L325.20,692.40 L326.58,693.25 L328.47,694.10 L330.85,694.95 L333.65,695.80 L336.69,696.65 L339.74,697.50 L342.59,698.35 L345.06,699.20 L347.03,700.05 L348.49,700.90 L349.53,701.75 L350.33,702.60 L351.09,703.45 L352.04,704.30 L353.37,705.15 L355.19,706.00 L357.52,706.85 L360.28,707.70 L363.30,708.55 L366.37,709.40 L367.83,710.80 L368.96,712.20 L369.78,713.60 L370.26,715.00 L370.43,716.40 L397.98,716.40 L397.81,715.00 L397.33,713.60 L396.51,712.20 L395.38,710.80 L393.92,709.40 L390.85,708.55 L387.83,707.70 L385.07,706.85 L382.74,706.00 L380.92,705.15 L379.59,704.30 L378.64,703.45 L377.88,702.60 L377.08,701.75 L376.04,700.90 L374.58,700.05 L372.61,699.20 L370.14,698.35 L367.29,697.50 L364.24,696.65 L361.20,695.80 L358.40,694.95 L356.02,694.10 L354.13,693.25 L352.75,692.40 L351.76,691.55 L350.99,690.70 L350.21,689.85 L349.21,689.00 L347.80,688.15 L345.89,687.30 L343.48,686.45 L340.67,685.60 L337.63,684.75 L334.58,683.90 L331.74,683.05 L329.30,682.20 L327.35,681.35 L325.91,680.50 L324.89,679.65 L324.10,678.80 Z" fill="#860000"/><path d="M324.10,678.80 L324.89,679.65 L325.91,680.50 L327.35,681.35 L329.30,682.20 L331.74,683.05 L334.58,683.90 L337.63,684.75 L340.67,685.60 L343.48,686.45 L345.89,687.30 L347.80,688.15 L349.21,689.00 L350.21,689.85 L350.99,690.70 L351.76,691.55 L352.75,692.40 L354.13,693.25 L356.02,694.10 L358.40,694.95 L361.20,695.80 L364.24,696.65 L367.29,697.50 L370.14,698.35 L372.61,699.20 L374.58,700.05 L376.04,700.90 L377.08,701.75 L377.88,702.60 L378.64,703.45 L379.59,704.30 L380.92,705.15 L382.74,706.00 L385.07,706.85 L387.83,707.70 L390.85,708.55 L393.92,709.40 L395.38,710.80 L396.51,712.20 L397.33,713.60 L397.81,715.00 L397.98,716.40 L425.53,716.40 L425.36,715.00 L424.88,713.60 L424.06,712.20 L422.93,710.80 L421.47,709.40 L418.40,708.55 L415.38,707.70 L412.62,706.85 L410.29,706.00 L408.47,705.15 L407.14,704.30 L406.19,703.45 L405.43,702.60 L404.63,701.75 L403.59,700.90 L402.13,700.05 L400.16,699.20 L397.69,698.35 L394.84,697.50 L391.79,696.65 L388.75,695.80 L385.95,694.95 L383.57,694.10 L381.68,693.25 L380.30,692.40 L379.31,691.55 L378.54,690.70 L377.76,689.85 L376.76,689.00 L375.35,688.15 L373.44,687.30 L371.03,686.45 L368.22,685.60 L365.18,684.75 L362.13,683.90 L359.29,683.05 L356.85,682.20 L354.90,681.35 L353.46,680.50 L352.44,679.65 L351.65,678.80 Z" fill="#000088"/><path d="M351.65,678.80 L352.44,679.65 L353.46,680.50 L354.90,681.35 L356.85,682.20 L359.29,683.05 L362.13,683.90 L365.18,684.75 L368.22,685.60 L371.03,686.45 L373.44,687.30 L375.35,688.15 L376.76,689.00 L377.76,689.85 L378.54,690.70 L379.31,691.55 L380.30,692.40 L381.68,693.25 L383.57,694.10 L385.95,694.95 L388.75,695.80 L391.79,696.65 L394.84,697.50 L397.69,698.35 L400.16,699.20 L402.13,700.05 L403.59,700.90 L404.63,701.75 L405.43,702.60 L406.19,703.45 L407.14,704.30 L408.47,705.15 L410.29,706.00 L412.62,706.85 L415.38,707.70 L418.40,708.55 L421.47,709.40 L422.93,710.80 L424.06,712.20 L424.88,713.60 L425.36,715.00 L425.52,716.40 L453.07,716.40 L452.91,715.00 L452.43,713.60 L451.61,712.20 L450.48,710.80 L449.02,709.40 L445.95,708.55 L442.93,707.70 L440.17,706.85 L437.84,706.00 L436.02,705.15 L434.69,704.30 L433.74,703.45 L432.98,702.60 L432.18,701.75 L431.14,700.90 L429.68,700.05 L427.71,699.20 L425.24,698.35 L422.39,697.50 L419.34,696.65 L416.30,695.80 L413.50,694.95 L411.12,694.10 L409.23,693.25 L407.85,692.40 L406.86,691.55 L406.09,690.70 L405.31,689.85 L404.31,689.00 L402.90,688.15 L400.99,687.30 L398.58,686.45 L395.77,685.60 L392.73,684.75 L389.68,683.90 L386.84,683.05 L384.40,682.20 L382.45,681.35 L381.01,680.50 L379.99,679.65 L379.20,678.80 Z" fill="#860000"/><path d="M379.20,678.80 L379.99,679.65 L381.01,680.50 L382.45,681.35 L384.40,682.20 L386.84,683.05 L389.68,683.90 L392.73,684.75 L395.77,685.60 L398.58,686.45 L400.99,687.30 L402.90,688.15 L404.31,689.00 L405.31,689.85 L406.09,690.70 L406.86,691.55 L407.85,692.40 L409.23,693.25 L411.12,694.10 L413.50,694.95 L416.30,695.80 L419.34,696.65 L422.39,697.50 L425.24,698.35 L427.71,699.20 L429.68,700.05 L431.14,700.90 L432.18,701.75 L432.98,702.60 L433.74,703.45 L434.69,704.30 L436.02,705.15 L437.84,706.00 L440.17,706.85 L442.93,707.70 L445.95,708.55 L449.02,709.40 L450.48,710.80 L451.61,712.20 L452.43,713.60 L452.91,715.00 L453.07,716.40 L480.62,716.40 L480.46,715.00 L479.98,713.60 L479.16,712.20 L478.03,710.80 L476.57,709.40 L473.50,708.55 L470.48,707.70 L467.72,706.85 L465.39,706.00 L463.57,705.15 L462.24,704.30 L461.29,703.45 L460.53,702.60 L459.73,701.75 L458.69,700.90 L457.23,700.05 L455.26,699.20 L452.79,698.35 L449.94,697.50 L446.89,696.65 L443.85,695.80 L441.05,694.95 L438.67,694.10 L436.78,693.25 L435.40,692.40 L434.41,691.55 L433.64,690.70 L432.86,689.85 L431.86,689.00 L430.45,688.15 L428.54,687.30 L426.13,686.45 L423.32,685.60 L420.28,684.75 L417.23,683.90 L414.39,683.05 L411.95,682.20 L410.00,681.35 L408.56,680.50 L407.54,679.65 L406.75,678.80 Z" fill="#000088"/><path d="M406.75,678.80 L407.54,679.65 L408.56,680.50 L410.00,681.35 L411.95,682.20 L414.39,683.05 L417.23,683.90 L420.28,684.75 L423.32,685.60 L426.13,686.45 L428.54,687.30 L430.45,688.15 L431.86,689.00 L432.86,689.85 L433.64,690.70 L434.41,691.55 L435.40,692.40 L436.78,693.25 L438.67,694.10 L441.05,694.95 L443.85,695.80 L446.89,696.65 L449.94,697.50 L452.79,698.35 L455.26,699.20 L457.23,700.05 L458.69,700.90 L459.73,701.75 L460.53,702.60 L461.29,703.45 L462.24,704.30 L463.57,705.15 L465.39,706.00 L467.72,706.85 L470.48,707.70 L473.50,708.55 L476.57,709.40 L478.03,710.80 L479.16,712.20 L479.98,713.60 L480.46,715.00 L480.62,716.40 L508.18,716.40 L508.01,715.00 L507.53,713.60 L506.71,712.20 L505.58,710.80 L504.12,709.40 L501.05,708.55 L498.03,707.70 L495.27,706.85 L492.94,706.00 L491.12,705.15 L489.79,704.30 L488.84,703.45 L488.08,702.60 L487.28,701.75 L486.24,700.90 L484.78,700.05 L482.81,699.20 L480.34,698.35 L477.49,697.50 L474.44,696.65 L471.40,695.80 L468.60,694.95 L466.22,694.10 L464.33,693.25 L462.95,692.40 L461.96,691.55 L461.19,690.70 L460.41,689.85 L459.41,689.00 L458.00,688.15 L456.09,687.30 L453.68,686.45 L450.87,685.60 L447.83,684.75 L444.78,683.90 L441.94,683.05 L439.50,682.20 L437.55,681.35 L436.11,680.50 L435.09,679.65 L434.30,678.80 Z" fill="#860000"/><path d="M434.30,678.80 L435.09,679.65 L436.11,680.50 L437.55,681.35 L439.50,682.20 L441.94,683.05 L444.78,683.90 L447.83,684.75 L450.87,685.60 L453.68,686.45 L456.09,687.30 L458.00,688.15 L459.41,689.00 L460.41,689.85 L461.19,690.70 L461.96,691.55 L462.95,692.40 L464.33,693.25 L466.22,694.10 L468.60,694.95 L471.40,695.80 L474.44,696.65 L477.49,697.50 L480.34,698.35 L482.81,699.20 L484.78,700.05 L486.24,700.90 L487.28,701.75 L488.08,702.60 L488.84,703.45 L489.79,704.30 L491.12,705.15 L492.94,706.00 L495.27,706.85 L498.03,707.70 L501.05,708.55 L504.12,709.40 L505.58,710.80 L506.71,712.20 L507.53,713.60 L508.01,715.00 L508.18,716.40 L535.73,716.40 L535.56,715.00 L535.08,713.60 L534.26,712.20 L533.13,710.80 L531.67,709.40 L528.60,708.55 L525.58,707.70 L522.82,706.85 L520.49,706.00 L518.67,705.15 L517.34,704.30 L516.39,703.45 L515.63,702.60 L514.83,701.75 L513.79,700.90 L512.33,700.05 L510.36,699.20 L507.89,698.35 L505.04,697.50 L501.99,696.65 L498.95,695.80 L496.15,694.95 L493.77,694.10 L491.88,693.25 L490.50,692.40 L489.51,691.55 L488.74,690.70 L487.96,689.85 L486.96,689.00 L485.55,688.15 L483.64,687.30 L481.23,686.45 L478.42,685.60 L475.38,684.75 L472.33,683.90 L469.49,683.05 L467.05,682.20 L465.10,681.35 L463.66,680.50 L462.64,679.65 L461.85,678.80 Z" fill="#000088"/><path d="M461.85,678.80 L462.64,679.65 L463.66,680.50 L465.10,681.35 L467.05,682.20 L469.49,683.05 L472.33,683.90 L475.38,684.75 L478.42,685.60 L481.23,686.45 L483.64,687.30 L485.55,688.15 L486.96,689.00 L487.96,689.85 L488.74,690.70 L489.51,691.55 L490.50,692.40 L491.88,693.25 L493.77,694.10 L496.15,694.95 L498.95,695.80 L501.99,696.65 L505.04,697.50 L507.89,698.35 L510.36,699.20 L512.33,700.05 L513.79,700.90 L514.83,701.75 L515.63,702.60 L516.39,703.45 L517.34,704.30 L518.67,705.15 L520.49,706.00 L522.82,706.85 L525.58,707.70 L528.60,708.55 L531.67,709.40 L533.13,710.80 L534.26,712.20 L535.08,713.60 L535.56,715.00 L535.73,716.40 L563.28,716.40 L563.11,715.00 L562.63,713.60 L561.81,712.20 L560.68,710.80 L559.22,709.40 L556.15,708.55 L553.13,707.70 L550.37,706.85 L548.04,706.00 L546.22,705.15 L544.89,704.30 L543.94,703.45 L543.18,702.60 L542.38,701.75 L541.34,700.90 L539.88,700.05 L537.91,699.20 L535.44,698.35 L532.59,697.50 L529.54,696.65 L526.50,695.80 L523.70,694.95 L521.32,694.10 L519.43,693.25 L518.05,692.40 L517.06,691.55 L516.29,690.70 L515.51,689.85 L514.51,689.00 L513.10,688.15 L511.19,687.30 L508.78,686.45 L505.97,685.60 L502.93,684.75 L499.88,683.90 L497.04,683.05 L494.60,682.20 L492.65,681.35 L491.21,680.50 L490.19,679.65 L489.40,678.80 Z" fill="#860000"/><path d="M243.0,680.00 H449.5 M243.0,683.60 H449.5 M243.0,687.20 H449.5 M243.0,690.80 H449.5 M243.0,694.40 H449.5 M243.0,698.00 H449.5 M243.0,701.60 H449.5 M243.0,705.20 H449.5 M243.0,708.80 H449.5 M243.0,712.40 H449.5" stroke="#000" stroke-opacity="0.3" stroke-width="1.0" fill="none"/><path d="M131.25,678.80 L132.04,679.65 L133.06,680.50 L134.50,681.35 L136.45,682.20 L138.89,683.05 L141.73,683.90 L144.78,684.75 L147.82,685.60 L150.63,686.45 L153.04,687.30 L154.95,688.15 L156.36,689.00 L157.36,689.85 L158.14,690.70 L158.91,691.55 L159.90,692.40 L161.28,693.25 L163.17,694.10 L165.55,694.95 L168.35,695.80 L171.39,696.65 L174.44,697.50 L177.29,698.35 L179.76,699.20 L181.73,700.05 L183.19,700.90 L184.23,701.75 L185.03,702.60 L185.79,703.45 L186.74,704.30 L188.07,705.15 L189.89,706.00 L192.22,706.85 L194.98,707.70 L198.00,708.55 L201.07,709.40 L202.53,710.80 L203.66,712.20 L204.48,713.60 L204.96,715.00 L205.13,716.40 M158.80,678.80 L159.59,679.65 L160.61,680.50 L162.05,681.35 L164.00,682.20 L166.44,683.05 L169.28,683.90 L172.33,684.75 L175.37,685.60 L178.18,686.45 L180.59,687.30 L182.50,688.15 L183.91,689.00 L184.91,689.85 L185.69,690.70 L186.46,691.55 L187.45,692.40 L188.83,693.25 L190.72,694.10 L193.10,694.95 L195.90,695.80 L198.94,696.65 L201.99,697.50 L204.84,698.35 L207.31,699.20 L209.28,700.05 L210.74,700.90 L211.78,701.75 L212.58,702.60 L213.34,703.45 L214.29,704.30 L215.62,705.15 L217.44,706.00 L219.77,706.85 L222.53,707.70 L225.55,708.55 L228.62,709.40 L230.08,710.80 L231.21,712.20 L232.03,713.60 L232.51,715.00 L232.68,716.40 M186.35,678.80 L187.14,679.65 L188.16,680.50 L189.60,681.35 L191.55,682.20 L193.99,683.05 L196.83,683.90 L199.88,684.75 L202.92,685.60 L205.73,686.45 L208.14,687.30 L210.05,688.15 L211.46,689.00 L212.46,689.85 L213.24,690.70 L214.01,691.55 L215.00,692.40 L216.38,693.25 L218.27,694.10 L220.65,694.95 L223.45,695.80 L226.49,696.65 L229.54,697.50 L232.39,698.35 L234.86,699.20 L236.83,700.05 L238.29,700.90 L239.33,701.75 L240.13,702.60 L240.89,703.45 L241.84,704.30 L243.17,705.15 L244.99,706.00 L247.32,706.85 L250.08,707.70 L253.10,708.55 L256.17,709.40 L257.63,710.80 L258.76,712.20 L259.58,713.60 L260.06,715.00 L260.22,716.40 M213.90,678.80 L214.69,679.65 L215.71,680.50 L217.15,681.35 L219.10,682.20 L221.54,683.05 L224.38,683.90 L227.43,684.75 L230.47,685.60 L233.28,686.45 L235.69,687.30 L237.60,688.15 L239.01,689.00 L240.01,689.85 L240.79,690.70 L241.56,691.55 L242.55,692.40 L243.93,693.25 L245.82,694.10 L248.20,694.95 L251.00,695.80 L254.04,696.65 L257.09,697.50 L259.94,698.35 L262.41,699.20 L264.38,700.05 L265.84,700.90 L266.88,701.75 L267.68,702.60 L268.44,703.45 L269.39,704.30 L270.72,705.15 L272.54,706.00 L274.87,706.85 L277.63,707.70 L280.65,708.55 L283.72,709.40 L285.18,710.80 L286.31,712.20 L287.13,713.60 L287.61,715.00 L287.77,716.40 M241.45,678.80 L242.24,679.65 L243.26,680.50 L244.70,681.35 L246.65,682.20 L249.09,683.05 L251.93,683.90 L254.98,684.75 L258.02,685.60 L260.83,686.45 L263.24,687.30 L265.15,688.15 L266.56,689.00 L267.56,689.85 L268.34,690.70 L269.11,691.55 L270.10,692.40 L271.48,693.25 L273.37,694.10 L275.75,694.95 L278.55,695.80 L281.59,696.65 L284.64,697.50 L287.49,698.35 L289.96,699.20 L291.93,700.05 L293.39,700.90 L294.43,701.75 L295.23,702.60 L295.99,703.45 L296.94,704.30 L298.27,705.15 L300.09,706.00 L302.42,706.85 L305.18,707.70 L308.20,708.55 L311.27,709.40 L312.73,710.80 L313.86,712.20 L314.68,713.60 L315.16,715.00 L315.32,716.40 M269.00,678.80 L269.79,679.65 L270.81,680.50 L272.25,681.35 L274.20,682.20 L276.64,683.05 L279.48,683.90 L282.53,684.75 L285.57,685.60 L288.38,686.45 L290.79,687.30 L292.70,688.15 L294.11,689.00 L295.11,689.85 L295.89,690.70 L296.66,691.55 L297.65,692.40 L299.03,693.25 L300.92,694.10 L303.30,694.95 L306.10,695.80 L309.14,696.65 L312.19,697.50 L315.04,698.35 L317.51,699.20 L319.48,700.05 L320.94,700.90 L321.98,701.75 L322.78,702.60 L323.54,703.45 L324.49,704.30 L325.82,705.15 L327.64,706.00 L329.97,706.85 L332.73,707.70 L335.75,708.55 L338.82,709.40 L340.28,710.80 L341.41,712.20 L342.23,713.60 L342.71,715.00 L342.88,716.40 M296.55,678.80 L297.34,679.65 L298.36,680.50 L299.80,681.35 L301.75,682.20 L304.19,683.05 L307.03,683.90 L310.08,684.75 L313.12,685.60 L315.93,686.45 L318.34,687.30 L320.25,688.15 L321.66,689.00 L322.66,689.85 L323.44,690.70 L324.21,691.55 L325.20,692.40 L326.58,693.25 L328.47,694.10 L330.85,694.95 L333.65,695.80 L336.69,696.65 L339.74,697.50 L342.59,698.35 L345.06,699.20 L347.03,700.05 L348.49,700.90 L349.53,701.75 L350.33,702.60 L351.09,703.45 L352.04,704.30 L353.37,705.15 L355.19,706.00 L357.52,706.85 L360.28,707.70 L363.30,708.55 L366.37,709.40 L367.83,710.80 L368.96,712.20 L369.78,713.60 L370.26,715.00 L370.43,716.40 M324.10,678.80 L324.89,679.65 L325.91,680.50 L327.35,681.35 L329.30,682.20 L331.74,683.05 L334.58,683.90 L337.63,684.75 L340.67,685.60 L343.48,686.45 L345.89,687.30 L347.80,688.15 L349.21,689.00 L350.21,689.85 L350.99,690.70 L351.76,691.55 L352.75,692.40 L354.13,693.25 L356.02,694.10 L358.40,694.95 L361.20,695.80 L364.24,696.65 L367.29,697.50 L370.14,698.35 L372.61,699.20 L374.58,700.05 L376.04,700.90 L377.08,701.75 L377.88,702.60 L378.64,703.45 L379.59,704.30 L380.92,705.15 L382.74,706.00 L385.07,706.85 L387.83,707.70 L390.85,708.55 L393.92,709.40 L395.38,710.80 L396.51,712.20 L397.33,713.60 L397.81,715.00 L397.98,716.40 M351.65,678.80 L352.44,679.65 L353.46,680.50 L354.90,681.35 L356.85,682.20 L359.29,683.05 L362.13,683.90 L365.18,684.75 L368.22,685.60 L371.03,686.45 L373.44,687.30 L375.35,688.15 L376.76,689.00 L377.76,689.85 L378.54,690.70 L379.31,691.55 L380.30,692.40 L381.68,693.25 L383.57,694.10 L385.95,694.95 L388.75,695.80 L391.79,696.65 L394.84,697.50 L397.69,698.35 L400.16,699.20 L402.13,700.05 L403.59,700.90 L404.63,701.75 L405.43,702.60 L406.19,703.45 L407.14,704.30 L408.47,705.15 L410.29,706.00 L412.62,706.85 L415.38,707.70 L418.40,708.55 L421.47,709.40 L422.93,710.80 L424.06,712.20 L424.88,713.60 L425.36,715.00 L425.52,716.40 M379.20,678.80 L379.99,679.65 L381.01,680.50 L382.45,681.35 L384.40,682.20 L386.84,683.05 L389.68,683.90 L392.73,684.75 L395.77,685.60 L398.58,686.45 L400.99,687.30 L402.90,688.15 L404.31,689.00 L405.31,689.85 L406.09,690.70 L406.86,691.55 L407.85,692.40 L409.23,693.25 L411.12,694.10 L413.50,694.95 L416.30,695.80 L419.34,696.65 L422.39,697.50 L425.24,698.35 L427.71,699.20 L429.68,700.05 L431.14,700.90 L432.18,701.75 L432.98,702.60 L433.74,703.45 L434.69,704.30 L436.02,705.15 L437.84,706.00 L440.17,706.85 L442.93,707.70 L445.95,708.55 L449.02,709.40 L450.48,710.80 L451.61,712.20 L452.43,713.60 L452.91,715.00 L453.07,716.40 M406.75,678.80 L407.54,679.65 L408.56,680.50 L410.00,681.35 L411.95,682.20 L414.39,683.05 L417.23,683.90 L420.28,684.75 L423.32,685.60 L426.13,686.45 L428.54,687.30 L430.45,688.15 L431.86,689.00 L432.86,689.85 L433.64,690.70 L434.41,691.55 L435.40,692.40 L436.78,693.25 L438.67,694.10 L441.05,694.95 L443.85,695.80 L446.89,696.65 L449.94,697.50 L452.79,698.35 L455.26,699.20 L457.23,700.05 L458.69,700.90 L459.73,701.75 L460.53,702.60 L461.29,703.45 L462.24,704.30 L463.57,705.15 L465.39,706.00 L467.72,706.85 L470.48,707.70 L473.50,708.55 L476.57,709.40 L478.03,710.80 L479.16,712.20 L479.98,713.60 L480.46,715.00 L480.62,716.40 M434.30,678.80 L435.09,679.65 L436.11,680.50 L437.55,681.35 L439.50,682.20 L441.94,683.05 L444.78,683.90 L447.83,684.75 L450.87,685.60 L453.68,686.45 L456.09,687.30 L458.00,688.15 L459.41,689.00 L460.41,689.85 L461.19,690.70 L461.96,691.55 L462.95,692.40 L464.33,693.25 L466.22,694.10 L468.60,694.95 L471.40,695.80 L474.44,696.65 L477.49,697.50 L480.34,698.35 L482.81,699.20 L484.78,700.05 L486.24,700.90 L487.28,701.75 L488.08,702.60 L488.84,703.45 L489.79,704.30 L491.12,705.15 L492.94,706.00 L495.27,706.85 L498.03,707.70 L501.05,708.55 L504.12,709.40 L505.58,710.80 L506.71,712.20 L507.53,713.60 L508.01,715.00 L508.18,716.40 M461.85,678.80 L462.64,679.65 L463.66,680.50 L465.10,681.35 L467.05,682.20 L469.49,683.05 L472.33,683.90 L475.38,684.75 L478.42,685.60 L481.23,686.45 L483.64,687.30 L485.55,688.15 L486.96,689.00 L487.96,689.85 L488.74,690.70 L489.51,691.55 L490.50,692.40 L491.88,693.25 L493.77,694.10 L496.15,694.95 L498.95,695.80 L501.99,696.65 L505.04,697.50 L507.89,698.35 L510.36,699.20 L512.33,700.05 L513.79,700.90 L514.83,701.75 L515.63,702.60 L516.39,703.45 L517.34,704.30 L518.67,705.15 L520.49,706.00 L522.82,706.85 L525.58,707.70 L528.60,708.55 L531.67,709.40 L533.13,710.80 L534.26,712.20 L535.08,713.60 L535.56,715.00 L535.73,716.40" stroke="#8c8c8c" stroke-width="2.1" fill="none"/><path d="M131.25,678.80 L132.04,679.65 L133.06,680.50 L134.50,681.35 L136.45,682.20 L138.89,683.05 L141.73,683.90 L144.78,684.75 L147.82,685.60 L150.63,686.45 L153.04,687.30 L154.95,688.15 L156.36,689.00 L157.36,689.85 L158.14,690.70 L158.91,691.55 L159.90,692.40 L161.28,693.25 L163.17,694.10 L165.55,694.95 L168.35,695.80 L171.39,696.65 L174.44,697.50 L177.29,698.35 L179.76,699.20 L181.73,700.05 L183.19,700.90 L184.23,701.75 L185.03,702.60 L185.79,703.45 L186.74,704.30 L188.07,705.15 L189.89,706.00 L192.22,706.85 L194.98,707.70 L198.00,708.55 L201.07,709.40 L202.53,710.80 L203.66,712.20 L204.48,713.60 L204.96,715.00 L205.13,716.40 M158.80,678.80 L159.59,679.65 L160.61,680.50 L162.05,681.35 L164.00,682.20 L166.44,683.05 L169.28,683.90 L172.33,684.75 L175.37,685.60 L178.18,686.45 L180.59,687.30 L182.50,688.15 L183.91,689.00 L184.91,689.85 L185.69,690.70 L186.46,691.55 L187.45,692.40 L188.83,693.25 L190.72,694.10 L193.10,694.95 L195.90,695.80 L198.94,696.65 L201.99,697.50 L204.84,698.35 L207.31,699.20 L209.28,700.05 L210.74,700.90 L211.78,701.75 L212.58,702.60 L213.34,703.45 L214.29,704.30 L215.62,705.15 L217.44,706.00 L219.77,706.85 L222.53,707.70 L225.55,708.55 L228.62,709.40 L230.08,710.80 L231.21,712.20 L232.03,713.60 L232.51,715.00 L232.68,716.40 M186.35,678.80 L187.14,679.65 L188.16,680.50 L189.60,681.35 L191.55,682.20 L193.99,683.05 L196.83,683.90 L199.88,684.75 L202.92,685.60 L205.73,686.45 L208.14,687.30 L210.05,688.15 L211.46,689.00 L212.46,689.85 L213.24,690.70 L214.01,691.55 L215.00,692.40 L216.38,693.25 L218.27,694.10 L220.65,694.95 L223.45,695.80 L226.49,696.65 L229.54,697.50 L232.39,698.35 L234.86,699.20 L236.83,700.05 L238.29,700.90 L239.33,701.75 L240.13,702.60 L240.89,703.45 L241.84,704.30 L243.17,705.15 L244.99,706.00 L247.32,706.85 L250.08,707.70 L253.10,708.55 L256.17,709.40 L257.63,710.80 L258.76,712.20 L259.58,713.60 L260.06,715.00 L260.22,716.40 M213.90,678.80 L214.69,679.65 L215.71,680.50 L217.15,681.35 L219.10,682.20 L221.54,683.05 L224.38,683.90 L227.43,684.75 L230.47,685.60 L233.28,686.45 L235.69,687.30 L237.60,688.15 L239.01,689.00 L240.01,689.85 L240.79,690.70 L241.56,691.55 L242.55,692.40 L243.93,693.25 L245.82,694.10 L248.20,694.95 L251.00,695.80 L254.04,696.65 L257.09,697.50 L259.94,698.35 L262.41,699.20 L264.38,700.05 L265.84,700.90 L266.88,701.75 L267.68,702.60 L268.44,703.45 L269.39,704.30 L270.72,705.15 L272.54,706.00 L274.87,706.85 L277.63,707.70 L280.65,708.55 L283.72,709.40 L285.18,710.80 L286.31,712.20 L287.13,713.60 L287.61,715.00 L287.77,716.40 M241.45,678.80 L242.24,679.65 L243.26,680.50 L244.70,681.35 L246.65,682.20 L249.09,683.05 L251.93,683.90 L254.98,684.75 L258.02,685.60 L260.83,686.45 L263.24,687.30 L265.15,688.15 L266.56,689.00 L267.56,689.85 L268.34,690.70 L269.11,691.55 L270.10,692.40 L271.48,693.25 L273.37,694.10 L275.75,694.95 L278.55,695.80 L281.59,696.65 L284.64,697.50 L287.49,698.35 L289.96,699.20 L291.93,700.05 L293.39,700.90 L294.43,701.75 L295.23,702.60 L295.99,703.45 L296.94,704.30 L298.27,705.15 L300.09,706.00 L302.42,706.85 L305.18,707.70 L308.20,708.55 L311.27,709.40 L312.73,710.80 L313.86,712.20 L314.68,713.60 L315.16,715.00 L315.32,716.40 M269.00,678.80 L269.79,679.65 L270.81,680.50 L272.25,681.35 L274.20,682.20 L276.64,683.05 L279.48,683.90 L282.53,684.75 L285.57,685.60 L288.38,686.45 L290.79,687.30 L292.70,688.15 L294.11,689.00 L295.11,689.85 L295.89,690.70 L296.66,691.55 L297.65,692.40 L299.03,693.25 L300.92,694.10 L303.30,694.95 L306.10,695.80 L309.14,696.65 L312.19,697.50 L315.04,698.35 L317.51,699.20 L319.48,700.05 L320.94,700.90 L321.98,701.75 L322.78,702.60 L323.54,703.45 L324.49,704.30 L325.82,705.15 L327.64,706.00 L329.97,706.85 L332.73,707.70 L335.75,708.55 L338.82,709.40 L340.28,710.80 L341.41,712.20 L342.23,713.60 L342.71,715.00 L342.88,716.40 M296.55,678.80 L297.34,679.65 L298.36,680.50 L299.80,681.35 L301.75,682.20 L304.19,683.05 L307.03,683.90 L310.08,684.75 L313.12,685.60 L315.93,686.45 L318.34,687.30 L320.25,688.15 L321.66,689.00 L322.66,689.85 L323.44,690.70 L324.21,691.55 L325.20,692.40 L326.58,693.25 L328.47,694.10 L330.85,694.95 L333.65,695.80 L336.69,696.65 L339.74,697.50 L342.59,698.35 L345.06,699.20 L347.03,700.05 L348.49,700.90 L349.53,701.75 L350.33,702.60 L351.09,703.45 L352.04,704.30 L353.37,705.15 L355.19,706.00 L357.52,706.85 L360.28,707.70 L363.30,708.55 L366.37,709.40 L367.83,710.80 L368.96,712.20 L369.78,713.60 L370.26,715.00 L370.43,716.40 M324.10,678.80 L324.89,679.65 L325.91,680.50 L327.35,681.35 L329.30,682.20 L331.74,683.05 L334.58,683.90 L337.63,684.75 L340.67,685.60 L343.48,686.45 L345.89,687.30 L347.80,688.15 L349.21,689.00 L350.21,689.85 L350.99,690.70 L351.76,691.55 L352.75,692.40 L354.13,693.25 L356.02,694.10 L358.40,694.95 L361.20,695.80 L364.24,696.65 L367.29,697.50 L370.14,698.35 L372.61,699.20 L374.58,700.05 L376.04,700.90 L377.08,701.75 L377.88,702.60 L378.64,703.45 L379.59,704.30 L380.92,705.15 L382.74,706.00 L385.07,706.85 L387.83,707.70 L390.85,708.55 L393.92,709.40 L395.38,710.80 L396.51,712.20 L397.33,713.60 L397.81,715.00 L397.98,716.40 M351.65,678.80 L352.44,679.65 L353.46,680.50 L354.90,681.35 L356.85,682.20 L359.29,683.05 L362.13,683.90 L365.18,684.75 L368.22,685.60 L371.03,686.45 L373.44,687.30 L375.35,688.15 L376.76,689.00 L377.76,689.85 L378.54,690.70 L379.31,691.55 L380.30,692.40 L381.68,693.25 L383.57,694.10 L385.95,694.95 L388.75,695.80 L391.79,696.65 L394.84,697.50 L397.69,698.35 L400.16,699.20 L402.13,700.05 L403.59,700.90 L404.63,701.75 L405.43,702.60 L406.19,703.45 L407.14,704.30 L408.47,705.15 L410.29,706.00 L412.62,706.85 L415.38,707.70 L418.40,708.55 L421.47,709.40 L422.93,710.80 L424.06,712.20 L424.88,713.60 L425.36,715.00 L425.52,716.40 M379.20,678.80 L379.99,679.65 L381.01,680.50 L382.45,681.35 L384.40,682.20 L386.84,683.05 L389.68,683.90 L392.73,684.75 L395.77,685.60 L398.58,686.45 L400.99,687.30 L402.90,688.15 L404.31,689.00 L405.31,689.85 L406.09,690.70 L406.86,691.55 L407.85,692.40 L409.23,693.25 L411.12,694.10 L413.50,694.95 L416.30,695.80 L419.34,696.65 L422.39,697.50 L425.24,698.35 L427.71,699.20 L429.68,700.05 L431.14,700.90 L432.18,701.75 L432.98,702.60 L433.74,703.45 L434.69,704.30 L436.02,705.15 L437.84,706.00 L440.17,706.85 L442.93,707.70 L445.95,708.55 L449.02,709.40 L450.48,710.80 L451.61,712.20 L452.43,713.60 L452.91,715.00 L453.07,716.40 M406.75,678.80 L407.54,679.65 L408.56,680.50 L410.00,681.35 L411.95,682.20 L414.39,683.05 L417.23,683.90 L420.28,684.75 L423.32,685.60 L426.13,686.45 L428.54,687.30 L430.45,688.15 L431.86,689.00 L432.86,689.85 L433.64,690.70 L434.41,691.55 L435.40,692.40 L436.78,693.25 L438.67,694.10 L441.05,694.95 L443.85,695.80 L446.89,696.65 L449.94,697.50 L452.79,698.35 L455.26,699.20 L457.23,700.05 L458.69,700.90 L459.73,701.75 L460.53,702.60 L461.29,703.45 L462.24,704.30 L463.57,705.15 L465.39,706.00 L467.72,706.85 L470.48,707.70 L473.50,708.55 L476.57,709.40 L478.03,710.80 L479.16,712.20 L479.98,713.60 L480.46,715.00 L480.62,716.40 M434.30,678.80 L435.09,679.65 L436.11,680.50 L437.55,681.35 L439.50,682.20 L441.94,683.05 L444.78,683.90 L447.83,684.75 L450.87,685.60 L453.68,686.45 L456.09,687.30 L458.00,688.15 L459.41,689.00 L460.41,689.85 L461.19,690.70 L461.96,691.55 L462.95,692.40 L464.33,693.25 L466.22,694.10 L468.60,694.95 L471.40,695.80 L474.44,696.65 L477.49,697.50 L480.34,698.35 L482.81,699.20 L484.78,700.05 L486.24,700.90 L487.28,701.75 L488.08,702.60 L488.84,703.45 L489.79,704.30 L491.12,705.15 L492.94,706.00 L495.27,706.85 L498.03,707.70 L501.05,708.55 L504.12,709.40 L505.58,710.80 L506.71,712.20 L507.53,713.60 L508.01,715.00 L508.18,716.40 M461.85,678.80 L462.64,679.65 L463.66,680.50 L465.10,681.35 L467.05,682.20 L469.49,683.05 L472.33,683.90 L475.38,684.75 L478.42,685.60 L481.23,686.45 L483.64,687.30 L485.55,688.15 L486.96,689.00 L487.96,689.85 L488.74,690.70 L489.51,691.55 L490.50,692.40 L491.88,693.25 L493.77,694.10 L496.15,694.95 L498.95,695.80 L501.99,696.65 L505.04,697.50 L507.89,698.35 L510.36,699.20 L512.33,700.05 L513.79,700.90 L514.83,701.75 L515.63,702.60 L516.39,703.45 L517.34,704.30 L518.67,705.15 L520.49,706.00 L522.82,706.85 L525.58,707.70 L528.60,708.55 L531.67,709.40 L533.13,710.80 L534.26,712.20 L535.08,713.60 L535.56,715.00 L535.73,716.40" stroke="#8c8c8c" stroke-width="5.0" fill="none" clip-path="url(#cp8)"/><rect x="243.0" y="713.8" width="206.5" height="1.6" fill="#000" fill-opacity="0.4"/><rect x="243.0" y="678.8" width="206.5" height="1.2" fill="#000" fill-opacity="0.35"/><path d="M153.83,715.80 L173.77,715.80 C173.77,719.55 171.00,723.60 170.00,724.68 Q168.80,725.40 163.80,725.40 Q158.80,725.40 157.60,724.68 C156.60,723.60 153.83,719.55 153.83,715.80 Z" fill="#e50000"/><path d="M181.38,715.80 L201.32,715.80 C201.32,719.90 198.55,724.40 197.55,725.60 Q196.35,726.40 191.35,726.40 Q186.35,726.40 185.15,725.60 C184.15,724.40 181.38,719.90 181.38,715.80 Z" fill="#0000e5"/><path d="M208.93,715.80 L228.87,715.80 C228.87,719.55 226.10,723.60 225.10,724.68 Q223.90,725.40 218.90,725.40 Q213.90,725.40 212.70,724.68 C211.70,723.60 208.93,719.55 208.93,715.80 Z" fill="#e50000"/><path d="M236.48,715.80 L256.42,715.80 C256.42,719.90 253.65,724.40 252.65,725.60 Q251.45,726.40 246.45,726.40 Q241.45,726.40 240.25,725.60 C239.25,724.40 236.48,719.90 236.48,715.80 Z" fill="#0000e5"/><path d="M264.03,715.80 L283.97,715.80 C283.97,719.55 281.20,723.60 280.20,724.68 Q279.00,725.40 274.00,725.40 Q269.00,725.40 267.80,724.68 C266.80,723.60 264.03,719.55 264.03,715.80 Z" fill="#e50000"/><path d="M291.58,715.80 L311.52,715.80 C311.52,719.90 308.75,724.40 307.75,725.60 Q306.55,726.40 301.55,726.40 Q296.55,726.40 295.35,725.60 C294.35,724.40 291.58,719.90 291.58,715.80 Z" fill="#0000e5"/><path d="M319.13,715.80 L339.07,715.80 C339.07,719.55 336.30,723.60 335.30,724.68 Q334.10,725.40 329.10,725.40 Q324.10,725.40 322.90,724.68 C321.90,723.60 319.13,719.55 319.13,715.80 Z" fill="#e50000"/><path d="M346.68,715.80 L366.62,715.80 C366.62,719.90 363.85,724.40 362.85,725.60 Q361.65,726.40 356.65,726.40 Q351.65,726.40 350.45,725.60 C349.45,724.40 346.68,719.90 346.68,715.80 Z" fill="#0000e5"/><path d="M374.23,715.80 L394.17,715.80 C394.17,719.55 391.40,723.60 390.40,724.68 Q389.20,725.40 384.20,725.40 Q379.20,725.40 378.00,724.68 C377.00,723.60 374.23,719.55 374.23,715.80 Z" fill="#e50000"/><path d="M401.78,715.80 L421.72,715.80 C421.72,719.90 418.95,724.40 417.95,725.60 Q416.75,726.40 411.75,726.40 Q406.75,726.40 405.55,725.60 C404.55,724.40 401.78,719.90 401.78,715.80 Z" fill="#0000e5"/><path d="M429.33,715.80 L449.27,715.80 C449.27,719.55 446.50,723.60 445.50,724.68 Q444.30,725.40 439.30,725.40 Q434.30,725.40 433.10,724.68 C432.10,723.60 429.33,719.55 429.33,715.80 Z" fill="#e50000"/><path d="M456.88,715.80 L476.82,715.80 C476.82,719.90 474.05,724.40 473.05,725.60 Q471.85,726.40 466.85,726.40 Q461.85,726.40 460.65,725.60 C459.65,724.40 456.88,719.90 456.88,715.80 Z" fill="#0000e5"/><path d="M484.43,715.80 L504.37,715.80 C504.37,719.55 501.60,723.60 500.60,724.68 Q499.40,725.40 494.40,725.40 Q489.40,725.40 488.20,724.68 C487.20,723.60 484.43,719.55 484.43,715.80 Z" fill="#e50000"/><path d="M511.98,715.80 L531.92,715.80 C531.92,719.90 529.15,724.40 528.15,725.60 Q526.95,726.40 521.95,726.40 Q516.95,726.40 515.75,725.60 C514.75,724.40 511.98,719.90 511.98,715.80 Z" fill="#0000e5"/><path d="M148.71,678.80 L148.71,678.00 L149.12,668.08 L151.04,660.64 L153.68,654.94 L155.10,653.20 L169.31,653.20 L170.93,654.69 L172.15,661.38 L174.18,666.84 L174.89,671.80 L174.89,678.00 L174.89,678.80 Z" fill="#0000e5" stroke="#0000e5" stroke-width="0.4" stroke-linejoin="round"/><path d="M176.26,678.80 L176.26,678.00 L176.67,668.08 L178.59,660.64 L181.23,654.94 L182.65,653.20 L196.86,653.20 L198.48,654.69 L199.70,661.38 L201.73,666.84 L202.44,671.80 L202.44,678.00 L202.44,678.80 Z" fill="#e50000" stroke="#e50000" stroke-width="0.4" stroke-linejoin="round"/><path d="M203.81,678.80 L203.81,678.00 L204.22,668.08 L206.14,660.64 L208.78,654.94 L210.20,653.20 L224.41,653.20 L226.03,654.69 L227.25,661.38 L229.28,666.84 L229.99,671.80 L229.99,678.00 L229.99,678.80 Z" fill="#0000e5" stroke="#0000e5" stroke-width="0.4" stroke-linejoin="round"/><path d="M231.36,678.80 L231.36,678.00 L231.77,668.08 L233.69,660.64 L236.33,654.94 L237.75,653.20 L251.96,653.20 L253.58,654.69 L254.80,661.38 L256.83,666.84 L257.54,671.80 L257.54,678.00 L257.54,678.80 Z" fill="#e50000" stroke="#e50000" stroke-width="0.4" stroke-linejoin="round"/><path d="M258.91,678.80 L258.91,678.00 L259.32,668.08 L261.24,660.64 L263.88,654.94 L265.30,653.20 L279.51,653.20 L281.13,654.69 L282.35,661.38 L284.38,666.84 L285.09,671.80 L285.09,678.00 L285.09,678.80 Z" fill="#0000e5" stroke="#0000e5" stroke-width="0.4" stroke-linejoin="round"/><path d="M286.46,678.80 L286.46,678.00 L286.87,668.08 L288.79,660.64 L291.43,654.94 L292.85,653.20 L307.06,653.20 L308.68,654.69 L309.90,661.38 L311.93,666.84 L312.64,671.80 L312.64,678.00 L312.64,678.80 Z" fill="#e50000" stroke="#e50000" stroke-width="0.4" stroke-linejoin="round"/><path d="M314.01,678.80 L314.01,678.00 L314.42,668.08 L316.34,660.64 L318.98,654.94 L320.40,653.20 L334.61,653.20 L336.23,654.69 L337.45,661.38 L339.48,666.84 L340.19,671.80 L340.19,678.00 L340.19,678.80 Z" fill="#0000e5" stroke="#0000e5" stroke-width="0.4" stroke-linejoin="round"/><path d="M341.56,678.80 L341.56,678.00 L341.97,668.08 L343.89,660.64 L346.53,654.94 L347.95,653.20 L362.16,653.20 L363.78,654.69 L365.00,661.38 L367.03,666.84 L367.74,671.80 L367.74,678.00 L367.74,678.80 Z" fill="#e50000" stroke="#e50000" stroke-width="0.4" stroke-linejoin="round"/><path d="M369.11,678.80 L369.11,678.00 L369.52,668.08 L371.44,660.64 L374.08,654.94 L375.50,653.20 L389.71,653.20 L391.33,654.69 L392.55,661.38 L394.58,666.84 L395.29,671.80 L395.29,678.00 L395.29,678.80 Z" fill="#0000e5" stroke="#0000e5" stroke-width="0.4" stroke-linejoin="round"/><path d="M396.66,678.80 L396.66,678.00 L397.07,668.08 L398.99,660.64 L401.63,654.94 L403.05,653.20 L417.26,653.20 L418.88,654.69 L420.10,661.38 L422.13,666.84 L422.84,671.80 L422.84,678.00 L422.84,678.80 Z" fill="#e50000" stroke="#e50000" stroke-width="0.4" stroke-linejoin="round"/><path d="M424.21,678.80 L424.21,678.00 L424.62,668.08 L426.54,660.64 L429.18,654.94 L430.60,653.20 L444.81,653.20 L446.43,654.69 L447.65,661.38 L449.68,666.84 L450.39,671.80 L450.39,678.00 L450.39,678.80 Z" fill="#0000e5" stroke="#0000e5" stroke-width="0.4" stroke-linejoin="round"/><path d="M451.76,678.80 L451.76,678.00 L452.17,668.08 L454.09,660.64 L456.73,654.94 L458.15,653.20 L472.36,653.20 L473.98,654.69 L475.20,661.38 L477.23,666.84 L477.94,671.80 L477.94,678.00 L477.94,678.80 Z" fill="#e50000" stroke="#e50000" stroke-width="0.4" stroke-linejoin="round"/><path d="M479.31,678.80 L479.31,678.00 L479.72,668.08 L481.64,660.64 L484.28,654.94 L485.70,653.20 L499.91,653.20 L501.53,654.69 L502.75,661.38 L504.78,666.84 L505.49,671.80 L505.49,678.00 L505.49,678.80 Z" fill="#0000e5" stroke="#0000e5" stroke-width="0.4" stroke-linejoin="round"/><path d="M506.86,678.80 L506.86,678.00 L507.27,668.08 L509.19,660.64 L511.83,654.94 L513.25,653.20 L527.46,653.20 L529.08,654.69 L530.30,661.38 L532.33,666.84 L533.04,671.80 L533.04,678.00 L533.04,678.80 Z" fill="#e50000" stroke="#e50000" stroke-width="0.4" stroke-linejoin="round"/><path d="M244.5,670.0 H435.5" stroke="#ffe500" stroke-width="1.9" stroke-dasharray="7.2 6"/><path d="M437.0,666.1 L448.5,670.0 L437.0,673.9 Z" fill="#ffe500"/><path d="M430.5,670.0 H439.5" stroke="#ffe500" stroke-width="1.9"/><text x="424.5" y="666.7" font-size="11.5" fill="#ffe500">e</text><rect x="432.0" y="660.0" width="2.3" height="1.0" fill="#ffe500"/></g><clipPath id="cp9"><rect x="454.0" y="652.8" width="205.5" height="79.2"/></clipPath><clipPath id="cp10"><rect x="454.0" y="709.4" width="205.5" height="7"/></clipPath><g clip-path="url(#cp9)"><rect x="454.0" y="652.8" width="205.5" height="79.2" fill="#e3e3e3"/><rect x="454.0" y="678.80" width="205.5" height="1.36" fill="#929292"/><rect x="454.0" y="680.10" width="205.5" height="1.36" fill="#7e7e7e"/><rect x="454.0" y="681.40" width="205.5" height="1.36" fill="#626262"/><rect x="454.0" y="682.70" width="205.5" height="1.36" fill="#8c8c8c"/><rect x="454.0" y="684.00" width="205.5" height="1.36" fill="#a2a2a2"/><rect x="454.0" y="685.30" width="205.5" height="1.36" fill="#727272"/><rect x="454.0" y="686.60" width="205.5" height="1.36" fill="#4e4e4e"/><rect x="454.0" y="687.90" width="205.5" height="1.36" fill="#868686"/><rect x="454.0" y="689.20" width="205.5" height="1.36" fill="#929292"/><rect x="454.0" y="690.50" width="205.5" height="1.36" fill="#7e7e7e"/><rect x="454.0" y="691.80" width="205.5" height="1.36" fill="#626262"/><rect x="454.0" y="693.10" width="205.5" height="1.36" fill="#8c8c8c"/><rect x="454.0" y="694.40" width="205.5" height="1.36" fill="#a2a2a2"/><rect x="454.0" y="695.70" width="205.5" height="1.36" fill="#727272"/><rect x="454.0" y="697.00" width="205.5" height="1.36" fill="#4e4e4e"/><rect x="454.0" y="698.30" width="205.5" height="1.36" fill="#868686"/><rect x="454.0" y="699.60" width="205.5" height="1.36" fill="#929292"/><rect x="454.0" y="700.90" width="205.5" height="1.36" fill="#7e7e7e"/><rect x="454.0" y="702.20" width="205.5" height="1.36" fill="#626262"/><rect x="454.0" y="703.50" width="205.5" height="1.36" fill="#8c8c8c"/><rect x="454.0" y="704.80" width="205.5" height="1.36" fill="#a2a2a2"/><rect x="454.0" y="706.10" width="205.5" height="1.36" fill="#727272"/><rect x="454.0" y="707.40" width="205.5" height="1.36" fill="#4e4e4e"/><rect x="454.0" y="708.70" width="205.5" height="1.36" fill="#868686"/><rect x="454.0" y="710.00" width="205.5" height="1.36" fill="#929292"/><rect x="454.0" y="711.30" width="205.5" height="1.36" fill="#7e7e7e"/><rect x="454.0" y="712.60" width="205.5" height="1.36" fill="#626262"/><rect x="454.0" y="713.90" width="205.5" height="1.36" fill="#8c8c8c"/><rect x="454.0" y="715.20" width="205.5" height="1.26" fill="#a2a2a2"/><path d="M338.75,678.80 L340.72,679.65 L343.16,680.50 L345.93,681.35 L348.83,682.20 L351.65,683.05 L354.16,683.90 L356.22,684.75 L357.78,685.60 L358.85,686.45 L359.59,687.30 L360.18,688.15 L360.84,689.00 L361.80,689.85 L363.20,690.70 L365.10,691.55 L367.49,692.40 L370.23,693.25 L373.13,694.10 L375.97,694.95 L378.53,695.80 L380.65,696.65 L382.26,697.50 L383.39,698.35 L384.16,699.20 L384.75,700.05 L385.40,700.90 L386.31,701.75 L387.65,702.60 L389.50,703.45 L391.83,704.30 L394.54,705.15 L397.43,706.00 L400.29,706.85 L402.89,707.70 L405.07,708.55 L406.74,709.40 L408.32,710.80 L409.55,712.20 L410.42,713.60 L410.95,715.00 L411.12,716.40 L440.88,716.40 L440.70,715.00 L440.17,713.60 L439.30,712.20 L438.07,710.80 L436.49,709.40 L434.82,708.55 L432.64,707.70 L430.04,706.85 L427.18,706.00 L424.29,705.15 L421.58,704.30 L419.25,703.45 L417.40,702.60 L416.06,701.75 L415.15,700.90 L414.50,700.05 L413.91,699.20 L413.14,698.35 L412.01,697.50 L410.40,696.65 L408.28,695.80 L405.72,694.95 L402.88,694.10 L399.98,693.25 L397.24,692.40 L394.85,691.55 L392.95,690.70 L391.55,689.85 L390.59,689.00 L389.93,688.15 L389.34,687.30 L388.60,686.45 L387.53,685.60 L385.97,684.75 L383.91,683.90 L381.40,683.05 L378.58,682.20 L375.68,681.35 L372.91,680.50 L370.47,679.65 L368.50,678.80 Z" fill="#860000"/><path d="M368.50,678.80 L370.47,679.65 L372.91,680.50 L375.68,681.35 L378.58,682.20 L381.40,683.05 L383.91,683.90 L385.97,684.75 L387.53,685.60 L388.60,686.45 L389.34,687.30 L389.93,688.15 L390.59,689.00 L391.55,689.85 L392.95,690.70 L394.85,691.55 L397.24,692.40 L399.98,693.25 L402.88,694.10 L405.72,694.95 L408.28,695.80 L410.40,696.65 L412.01,697.50 L413.14,698.35 L413.91,699.20 L414.50,700.05 L415.15,700.90 L416.06,701.75 L417.40,702.60 L419.25,703.45 L421.58,704.30 L424.29,705.15 L427.18,706.00 L430.04,706.85 L432.64,707.70 L434.82,708.55 L436.49,709.40 L438.07,710.80 L439.30,712.20 L440.17,713.60 L440.70,715.00 L440.88,716.40 L470.62,716.40 L470.45,715.00 L469.92,713.60 L469.05,712.20 L467.82,710.80 L466.24,709.40 L464.57,708.55 L462.39,707.70 L459.79,706.85 L456.93,706.00 L454.04,705.15 L451.33,704.30 L449.00,703.45 L447.15,702.60 L445.81,701.75 L444.90,700.90 L444.25,700.05 L443.66,699.20 L442.89,698.35 L441.76,697.50 L440.15,696.65 L438.03,695.80 L435.47,694.95 L432.63,694.10 L429.73,693.25 L426.99,692.40 L424.60,691.55 L422.70,690.70 L421.30,689.85 L420.34,689.00 L419.68,688.15 L419.09,687.30 L418.35,686.45 L417.28,685.60 L415.72,684.75 L413.66,683.90 L411.15,683.05 L408.33,682.20 L405.43,681.35 L402.66,680.50 L400.22,679.65 L398.25,678.80 Z" fill="#000088"/><path d="M398.25,678.80 L400.22,679.65 L402.66,680.50 L405.43,681.35 L408.33,682.20 L411.15,683.05 L413.66,683.90 L415.72,684.75 L417.28,685.60 L418.35,686.45 L419.09,687.30 L419.68,688.15 L420.34,689.00 L421.30,689.85 L422.70,690.70 L424.60,691.55 L426.99,692.40 L429.73,693.25 L432.63,694.10 L435.47,694.95 L438.03,695.80 L440.15,696.65 L441.76,697.50 L442.89,698.35 L443.66,699.20 L444.25,700.05 L444.90,700.90 L445.81,701.75 L447.15,702.60 L449.00,703.45 L451.33,704.30 L454.04,705.15 L456.93,706.00 L459.79,706.85 L462.39,707.70 L464.57,708.55 L466.24,709.40 L467.82,710.80 L469.05,712.20 L469.92,713.60 L470.45,715.00 L470.62,716.40 L500.38,716.40 L500.20,715.00 L499.67,713.60 L498.80,712.20 L497.57,710.80 L495.99,709.40 L494.32,708.55 L492.14,707.70 L489.54,706.85 L486.68,706.00 L483.79,705.15 L481.08,704.30 L478.75,703.45 L476.90,702.60 L475.56,701.75 L474.65,700.90 L474.00,700.05 L473.41,699.20 L472.64,698.35 L471.51,697.50 L469.90,696.65 L467.78,695.80 L465.22,694.95 L462.38,694.10 L459.48,693.25 L456.74,692.40 L454.35,691.55 L452.45,690.70 L451.05,689.85 L450.09,689.00 L449.43,688.15 L448.84,687.30 L448.10,686.45 L447.03,685.60 L445.47,684.75 L443.41,683.90 L440.90,683.05 L438.08,682.20 L435.18,681.35 L432.41,680.50 L429.97,679.65 L428.00,678.80 Z" fill="#860000"/><path d="M428.00,678.80 L429.97,679.65 L432.41,680.50 L435.18,681.35 L438.08,682.20 L440.90,683.05 L443.41,683.90 L445.47,684.75 L447.03,685.60 L448.10,686.45 L448.84,687.30 L449.43,688.15 L450.09,689.00 L451.05,689.85 L452.45,690.70 L454.35,691.55 L456.74,692.40 L459.48,693.25 L462.38,694.10 L465.22,694.95 L467.78,695.80 L469.90,696.65 L471.51,697.50 L472.64,698.35 L473.41,699.20 L474.00,700.05 L474.65,700.90 L475.56,701.75 L476.90,702.60 L478.75,703.45 L481.08,704.30 L483.79,705.15 L486.68,706.00 L489.54,706.85 L492.14,707.70 L494.32,708.55 L495.99,709.40 L497.57,710.80 L498.80,712.20 L499.67,713.60 L500.20,715.00 L500.38,716.40 L530.12,716.40 L529.95,715.00 L529.42,713.60 L528.55,712.20 L527.32,710.80 L525.74,709.40 L524.07,708.55 L521.89,707.70 L519.29,706.85 L516.43,706.00 L513.54,705.15 L510.83,704.30 L508.50,703.45 L506.65,702.60 L505.31,701.75 L504.40,700.90 L503.75,700.05 L503.16,699.20 L502.39,698.35 L501.26,697.50 L499.65,696.65 L497.53,695.80 L494.97,694.95 L492.13,694.10 L489.23,693.25 L486.49,692.40 L484.10,691.55 L482.20,690.70 L480.80,689.85 L479.84,689.00 L479.18,688.15 L478.59,687.30 L477.85,686.45 L476.78,685.60 L475.22,684.75 L473.16,683.90 L470.65,683.05 L467.83,682.20 L464.93,681.35 L462.16,680.50 L459.72,679.65 L457.75,678.80 Z" fill="#000088"/><path d="M457.75,678.80 L459.72,679.65 L462.16,680.50 L464.93,681.35 L467.83,682.20 L470.65,683.05 L473.16,683.90 L475.22,684.75 L476.78,685.60 L477.85,686.45 L478.59,687.30 L479.18,688.15 L479.84,689.00 L480.80,689.85 L482.20,690.70 L484.10,691.55 L486.49,692.40 L489.23,693.25 L492.13,694.10 L494.97,694.95 L497.53,695.80 L499.65,696.65 L501.26,697.50 L502.39,698.35 L503.16,699.20 L503.75,700.05 L504.40,700.90 L505.31,701.75 L506.65,702.60 L508.50,703.45 L510.83,704.30 L513.54,705.15 L516.43,706.00 L519.29,706.85 L521.89,707.70 L524.07,708.55 L525.74,709.40 L527.32,710.80 L528.55,712.20 L529.42,713.60 L529.95,715.00 L530.12,716.40 L559.88,716.40 L559.70,715.00 L559.17,713.60 L558.30,712.20 L557.07,710.80 L555.49,709.40 L553.82,708.55 L551.64,707.70 L549.04,706.85 L546.18,706.00 L543.29,705.15 L540.58,704.30 L538.25,703.45 L536.40,702.60 L535.06,701.75 L534.15,700.90 L533.50,700.05 L532.91,699.20 L532.14,698.35 L531.01,697.50 L529.40,696.65 L527.28,695.80 L524.72,694.95 L521.88,694.10 L518.98,693.25 L516.24,692.40 L513.85,691.55 L511.95,690.70 L510.55,689.85 L509.59,689.00 L508.93,688.15 L508.34,687.30 L507.60,686.45 L506.53,685.60 L504.97,684.75 L502.91,683.90 L500.40,683.05 L497.58,682.20 L494.68,681.35 L491.91,680.50 L489.47,679.65 L487.50,678.80 Z" fill="#860000"/><path d="M487.50,678.80 L489.47,679.65 L491.91,680.50 L494.68,681.35 L497.58,682.20 L500.40,683.05 L502.91,683.90 L504.97,684.75 L506.53,685.60 L507.60,686.45 L508.34,687.30 L508.93,688.15 L509.59,689.00 L510.55,689.85 L511.95,690.70 L513.85,691.55 L516.24,692.40 L518.98,693.25 L521.88,694.10 L524.72,694.95 L527.28,695.80 L529.40,696.65 L531.01,697.50 L532.14,698.35 L532.91,699.20 L533.50,700.05 L534.15,700.90 L535.06,701.75 L536.40,702.60 L538.25,703.45 L540.58,704.30 L543.29,705.15 L546.18,706.00 L549.04,706.85 L551.64,707.70 L553.82,708.55 L555.49,709.40 L557.07,710.80 L558.30,712.20 L559.17,713.60 L559.70,715.00 L559.88,716.40 L589.62,716.40 L589.45,715.00 L588.92,713.60 L588.05,712.20 L586.82,710.80 L585.24,709.40 L583.57,708.55 L581.39,707.70 L578.79,706.85 L575.93,706.00 L573.04,705.15 L570.33,704.30 L568.00,703.45 L566.15,702.60 L564.81,701.75 L563.90,700.90 L563.25,700.05 L562.66,699.20 L561.89,698.35 L560.76,697.50 L559.15,696.65 L557.03,695.80 L554.47,694.95 L551.63,694.10 L548.73,693.25 L545.99,692.40 L543.60,691.55 L541.70,690.70 L540.30,689.85 L539.34,689.00 L538.68,688.15 L538.09,687.30 L537.35,686.45 L536.28,685.60 L534.72,684.75 L532.66,683.90 L530.15,683.05 L527.33,682.20 L524.43,681.35 L521.66,680.50 L519.22,679.65 L517.25,678.80 Z" fill="#000088"/><path d="M517.25,678.80 L519.22,679.65 L521.66,680.50 L524.43,681.35 L527.33,682.20 L530.15,683.05 L532.66,683.90 L534.72,684.75 L536.28,685.60 L537.35,686.45 L538.09,687.30 L538.68,688.15 L539.34,689.00 L540.30,689.85 L541.70,690.70 L543.60,691.55 L545.99,692.40 L548.73,693.25 L551.63,694.10 L554.47,694.95 L557.03,695.80 L559.15,696.65 L560.76,697.50 L561.89,698.35 L562.66,699.20 L563.25,700.05 L563.90,700.90 L564.81,701.75 L566.15,702.60 L568.00,703.45 L570.33,704.30 L573.04,705.15 L575.93,706.00 L578.79,706.85 L581.39,707.70 L583.57,708.55 L585.24,709.40 L586.82,710.80 L588.05,712.20 L588.92,713.60 L589.45,715.00 L589.62,716.40 L619.38,716.40 L619.20,715.00 L618.67,713.60 L617.80,712.20 L616.57,710.80 L614.99,709.40 L613.32,708.55 L611.14,707.70 L608.54,706.85 L605.68,706.00 L602.79,705.15 L600.08,704.30 L597.75,703.45 L595.90,702.60 L594.56,701.75 L593.65,700.90 L593.00,700.05 L592.41,699.20 L591.64,698.35 L590.51,697.50 L588.90,696.65 L586.78,695.80 L584.22,694.95 L581.38,694.10 L578.48,693.25 L575.74,692.40 L573.35,691.55 L571.45,690.70 L570.05,689.85 L569.09,689.00 L568.43,688.15 L567.84,687.30 L567.10,686.45 L566.03,685.60 L564.47,684.75 L562.41,683.90 L559.90,683.05 L557.08,682.20 L554.18,681.35 L551.41,680.50 L548.97,679.65 L547.00,678.80 Z" fill="#860000"/><path d="M547.00,678.80 L548.97,679.65 L551.41,680.50 L554.18,681.35 L557.08,682.20 L559.90,683.05 L562.41,683.90 L564.47,684.75 L566.03,685.60 L567.10,686.45 L567.84,687.30 L568.43,688.15 L569.09,689.00 L570.05,689.85 L571.45,690.70 L573.35,691.55 L575.74,692.40 L578.48,693.25 L581.38,694.10 L584.22,694.95 L586.78,695.80 L588.90,696.65 L590.51,697.50 L591.64,698.35 L592.41,699.20 L593.00,700.05 L593.65,700.90 L594.56,701.75 L595.90,702.60 L597.75,703.45 L600.08,704.30 L602.79,705.15 L605.68,706.00 L608.54,706.85 L611.14,707.70 L613.32,708.55 L614.99,709.40 L616.57,710.80 L617.80,712.20 L618.67,713.60 L619.20,715.00 L619.38,716.40 L649.12,716.40 L648.95,715.00 L648.42,713.60 L647.55,712.20 L646.32,710.80 L644.74,709.40 L643.07,708.55 L640.89,707.70 L638.29,706.85 L635.43,706.00 L632.54,705.15 L629.83,704.30 L627.50,703.45 L625.65,702.60 L624.31,701.75 L623.40,700.90 L622.75,700.05 L622.16,699.20 L621.39,698.35 L620.26,697.50 L618.65,696.65 L616.53,695.80 L613.97,694.95 L611.13,694.10 L608.23,693.25 L605.49,692.40 L603.10,691.55 L601.20,690.70 L599.80,689.85 L598.84,689.00 L598.18,688.15 L597.59,687.30 L596.85,686.45 L595.78,685.60 L594.22,684.75 L592.16,683.90 L589.65,683.05 L586.83,682.20 L583.93,681.35 L581.16,680.50 L578.72,679.65 L576.75,678.80 Z" fill="#000088"/><path d="M576.75,678.80 L578.72,679.65 L581.16,680.50 L583.93,681.35 L586.83,682.20 L589.65,683.05 L592.16,683.90 L594.22,684.75 L595.78,685.60 L596.85,686.45 L597.59,687.30 L598.18,688.15 L598.84,689.00 L599.80,689.85 L601.20,690.70 L603.10,691.55 L605.49,692.40 L608.23,693.25 L611.13,694.10 L613.97,694.95 L616.53,695.80 L618.65,696.65 L620.26,697.50 L621.39,698.35 L622.16,699.20 L622.75,700.05 L623.40,700.90 L624.31,701.75 L625.65,702.60 L627.50,703.45 L629.83,704.30 L632.54,705.15 L635.43,706.00 L638.29,706.85 L640.89,707.70 L643.07,708.55 L644.74,709.40 L646.32,710.80 L647.55,712.20 L648.42,713.60 L648.95,715.00 L649.12,716.40 L678.88,716.40 L678.70,715.00 L678.17,713.60 L677.30,712.20 L676.07,710.80 L674.49,709.40 L672.82,708.55 L670.64,707.70 L668.04,706.85 L665.18,706.00 L662.29,705.15 L659.58,704.30 L657.25,703.45 L655.40,702.60 L654.06,701.75 L653.15,700.90 L652.50,700.05 L651.91,699.20 L651.14,698.35 L650.01,697.50 L648.40,696.65 L646.28,695.80 L643.72,694.95 L640.88,694.10 L637.98,693.25 L635.24,692.40 L632.85,691.55 L630.95,690.70 L629.55,689.85 L628.59,689.00 L627.93,688.15 L627.34,687.30 L626.60,686.45 L625.53,685.60 L623.97,684.75 L621.91,683.90 L619.40,683.05 L616.58,682.20 L613.68,681.35 L610.91,680.50 L608.47,679.65 L606.50,678.80 Z" fill="#860000"/><path d="M606.50,678.80 L608.47,679.65 L610.91,680.50 L613.68,681.35 L616.58,682.20 L619.40,683.05 L621.91,683.90 L623.97,684.75 L625.53,685.60 L626.60,686.45 L627.34,687.30 L627.93,688.15 L628.59,689.00 L629.55,689.85 L630.95,690.70 L632.85,691.55 L635.24,692.40 L637.98,693.25 L640.88,694.10 L643.72,694.95 L646.28,695.80 L648.40,696.65 L650.01,697.50 L651.14,698.35 L651.91,699.20 L652.50,700.05 L653.15,700.90 L654.06,701.75 L655.40,702.60 L657.25,703.45 L659.58,704.30 L662.29,705.15 L665.18,706.00 L668.04,706.85 L670.64,707.70 L672.82,708.55 L674.49,709.40 L676.07,710.80 L677.30,712.20 L678.17,713.60 L678.70,715.00 L678.88,716.40 L708.62,716.40 L708.45,715.00 L707.92,713.60 L707.05,712.20 L705.82,710.80 L704.24,709.40 L702.57,708.55 L700.39,707.70 L697.79,706.85 L694.93,706.00 L692.04,705.15 L689.33,704.30 L687.00,703.45 L685.15,702.60 L683.81,701.75 L682.90,700.90 L682.25,700.05 L681.66,699.20 L680.89,698.35 L679.76,697.50 L678.15,696.65 L676.03,695.80 L673.47,694.95 L670.63,694.10 L667.73,693.25 L664.99,692.40 L662.60,691.55 L660.70,690.70 L659.30,689.85 L658.34,689.00 L657.68,688.15 L657.09,687.30 L656.35,686.45 L655.28,685.60 L653.72,684.75 L651.66,683.90 L649.15,683.05 L646.33,682.20 L643.43,681.35 L640.66,680.50 L638.22,679.65 L636.25,678.80 Z" fill="#000088"/><path d="M636.25,678.80 L638.22,679.65 L640.66,680.50 L643.43,681.35 L646.33,682.20 L649.15,683.05 L651.66,683.90 L653.72,684.75 L655.28,685.60 L656.35,686.45 L657.09,687.30 L657.68,688.15 L658.34,689.00 L659.30,689.85 L660.70,690.70 L662.60,691.55 L664.99,692.40 L667.73,693.25 L670.63,694.10 L673.47,694.95 L676.03,695.80 L678.15,696.65 L679.76,697.50 L680.89,698.35 L681.66,699.20 L682.25,700.05 L682.90,700.90 L683.81,701.75 L685.15,702.60 L687.00,703.45 L689.33,704.30 L692.04,705.15 L694.93,706.00 L697.79,706.85 L700.39,707.70 L702.57,708.55 L704.24,709.40 L705.82,710.80 L707.05,712.20 L707.92,713.60 L708.45,715.00 L708.62,716.40 L738.38,716.40 L738.20,715.00 L737.67,713.60 L736.80,712.20 L735.57,710.80 L733.99,709.40 L732.32,708.55 L730.14,707.70 L727.54,706.85 L724.68,706.00 L721.79,705.15 L719.08,704.30 L716.75,703.45 L714.90,702.60 L713.56,701.75 L712.65,700.90 L712.00,700.05 L711.41,699.20 L710.64,698.35 L709.51,697.50 L707.90,696.65 L705.78,695.80 L703.22,694.95 L700.38,694.10 L697.48,693.25 L694.74,692.40 L692.35,691.55 L690.45,690.70 L689.05,689.85 L688.09,689.00 L687.43,688.15 L686.84,687.30 L686.10,686.45 L685.03,685.60 L683.47,684.75 L681.41,683.90 L678.90,683.05 L676.08,682.20 L673.18,681.35 L670.41,680.50 L667.97,679.65 L666.00,678.80 Z" fill="#860000"/><path d="M666.00,678.80 L667.97,679.65 L670.41,680.50 L673.18,681.35 L676.08,682.20 L678.90,683.05 L681.41,683.90 L683.47,684.75 L685.03,685.60 L686.10,686.45 L686.84,687.30 L687.43,688.15 L688.09,689.00 L689.05,689.85 L690.45,690.70 L692.35,691.55 L694.74,692.40 L697.48,693.25 L700.38,694.10 L703.22,694.95 L705.78,695.80 L707.90,696.65 L709.51,697.50 L710.64,698.35 L711.41,699.20 L712.00,700.05 L712.65,700.90 L713.56,701.75 L714.90,702.60 L716.75,703.45 L719.08,704.30 L721.79,705.15 L724.68,706.00 L727.54,706.85 L730.14,707.70 L732.32,708.55 L733.99,709.40 L735.57,710.80 L736.80,712.20 L737.67,713.60 L738.20,715.00 L738.38,716.40 L768.12,716.40 L767.95,715.00 L767.42,713.60 L766.55,712.20 L765.32,710.80 L763.74,709.40 L762.07,708.55 L759.89,707.70 L757.29,706.85 L754.43,706.00 L751.54,705.15 L748.83,704.30 L746.50,703.45 L744.65,702.60 L743.31,701.75 L742.40,700.90 L741.75,700.05 L741.16,699.20 L740.39,698.35 L739.26,697.50 L737.65,696.65 L735.53,695.80 L732.97,694.95 L730.13,694.10 L727.23,693.25 L724.49,692.40 L722.10,691.55 L720.20,690.70 L718.80,689.85 L717.84,689.00 L717.18,688.15 L716.59,687.30 L715.85,686.45 L714.78,685.60 L713.22,684.75 L711.16,683.90 L708.65,683.05 L705.83,682.20 L702.93,681.35 L700.16,680.50 L697.72,679.65 L695.75,678.80 Z" fill="#000088"/><path d="M454.0,680.00 H659.5 M454.0,683.60 H659.5 M454.0,687.20 H659.5 M454.0,690.80 H659.5 M454.0,694.40 H659.5 M454.0,698.00 H659.5 M454.0,701.60 H659.5 M454.0,705.20 H659.5 M454.0,708.80 H659.5 M454.0,712.40 H659.5" stroke="#000" stroke-opacity="0.3" stroke-width="1.0" fill="none"/><path d="M338.75,678.80 L340.72,679.65 L343.16,680.50 L345.93,681.35 L348.83,682.20 L351.65,683.05 L354.16,683.90 L356.22,684.75 L357.78,685.60 L358.85,686.45 L359.59,687.30 L360.18,688.15 L360.84,689.00 L361.80,689.85 L363.20,690.70 L365.10,691.55 L367.49,692.40 L370.23,693.25 L373.13,694.10 L375.97,694.95 L378.53,695.80 L380.65,696.65 L382.26,697.50 L383.39,698.35 L384.16,699.20 L384.75,700.05 L385.40,700.90 L386.31,701.75 L387.65,702.60 L389.50,703.45 L391.83,704.30 L394.54,705.15 L397.43,706.00 L400.29,706.85 L402.89,707.70 L405.07,708.55 L406.74,709.40 L408.32,710.80 L409.55,712.20 L410.42,713.60 L410.95,715.00 L411.12,716.40 M368.50,678.80 L370.47,679.65 L372.91,680.50 L375.68,681.35 L378.58,682.20 L381.40,683.05 L383.91,683.90 L385.97,684.75 L387.53,685.60 L388.60,686.45 L389.34,687.30 L389.93,688.15 L390.59,689.00 L391.55,689.85 L392.95,690.70 L394.85,691.55 L397.24,692.40 L399.98,693.25 L402.88,694.10 L405.72,694.95 L408.28,695.80 L410.40,696.65 L412.01,697.50 L413.14,698.35 L413.91,699.20 L414.50,700.05 L415.15,700.90 L416.06,701.75 L417.40,702.60 L419.25,703.45 L421.58,704.30 L424.29,705.15 L427.18,706.00 L430.04,706.85 L432.64,707.70 L434.82,708.55 L436.49,709.40 L438.07,710.80 L439.30,712.20 L440.17,713.60 L440.70,715.00 L440.88,716.40 M398.25,678.80 L400.22,679.65 L402.66,680.50 L405.43,681.35 L408.33,682.20 L411.15,683.05 L413.66,683.90 L415.72,684.75 L417.28,685.60 L418.35,686.45 L419.09,687.30 L419.68,688.15 L420.34,689.00 L421.30,689.85 L422.70,690.70 L424.60,691.55 L426.99,692.40 L429.73,693.25 L432.63,694.10 L435.47,694.95 L438.03,695.80 L440.15,696.65 L441.76,697.50 L442.89,698.35 L443.66,699.20 L444.25,700.05 L444.90,700.90 L445.81,701.75 L447.15,702.60 L449.00,703.45 L451.33,704.30 L454.04,705.15 L456.93,706.00 L459.79,706.85 L462.39,707.70 L464.57,708.55 L466.24,709.40 L467.82,710.80 L469.05,712.20 L469.92,713.60 L470.45,715.00 L470.62,716.40 M428.00,678.80 L429.97,679.65 L432.41,680.50 L435.18,681.35 L438.08,682.20 L440.90,683.05 L443.41,683.90 L445.47,684.75 L447.03,685.60 L448.10,686.45 L448.84,687.30 L449.43,688.15 L450.09,689.00 L451.05,689.85 L452.45,690.70 L454.35,691.55 L456.74,692.40 L459.48,693.25 L462.38,694.10 L465.22,694.95 L467.78,695.80 L469.90,696.65 L471.51,697.50 L472.64,698.35 L473.41,699.20 L474.00,700.05 L474.65,700.90 L475.56,701.75 L476.90,702.60 L478.75,703.45 L481.08,704.30 L483.79,705.15 L486.68,706.00 L489.54,706.85 L492.14,707.70 L494.32,708.55 L495.99,709.40 L497.57,710.80 L498.80,712.20 L499.67,713.60 L500.20,715.00 L500.38,716.40 M457.75,678.80 L459.72,679.65 L462.16,680.50 L464.93,681.35 L467.83,682.20 L470.65,683.05 L473.16,683.90 L475.22,684.75 L476.78,685.60 L477.85,686.45 L478.59,687.30 L479.18,688.15 L479.84,689.00 L480.80,689.85 L482.20,690.70 L484.10,691.55 L486.49,692.40 L489.23,693.25 L492.13,694.10 L494.97,694.95 L497.53,695.80 L499.65,696.65 L501.26,697.50 L502.39,698.35 L503.16,699.20 L503.75,700.05 L504.40,700.90 L505.31,701.75 L506.65,702.60 L508.50,703.45 L510.83,704.30 L513.54,705.15 L516.43,706.00 L519.29,706.85 L521.89,707.70 L524.07,708.55 L525.74,709.40 L527.32,710.80 L528.55,712.20 L529.42,713.60 L529.95,715.00 L530.12,716.40 M487.50,678.80 L489.47,679.65 L491.91,680.50 L494.68,681.35 L497.58,682.20 L500.40,683.05 L502.91,683.90 L504.97,684.75 L506.53,685.60 L507.60,686.45 L508.34,687.30 L508.93,688.15 L509.59,689.00 L510.55,689.85 L511.95,690.70 L513.85,691.55 L516.24,692.40 L518.98,693.25 L521.88,694.10 L524.72,694.95 L527.28,695.80 L529.40,696.65 L531.01,697.50 L532.14,698.35 L532.91,699.20 L533.50,700.05 L534.15,700.90 L535.06,701.75 L536.40,702.60 L538.25,703.45 L540.58,704.30 L543.29,705.15 L546.18,706.00 L549.04,706.85 L551.64,707.70 L553.82,708.55 L555.49,709.40 L557.07,710.80 L558.30,712.20 L559.17,713.60 L559.70,715.00 L559.88,716.40 M517.25,678.80 L519.22,679.65 L521.66,680.50 L524.43,681.35 L527.33,682.20 L530.15,683.05 L532.66,683.90 L534.72,684.75 L536.28,685.60 L537.35,686.45 L538.09,687.30 L538.68,688.15 L539.34,689.00 L540.30,689.85 L541.70,690.70 L543.60,691.55 L545.99,692.40 L548.73,693.25 L551.63,694.10 L554.47,694.95 L557.03,695.80 L559.15,696.65 L560.76,697.50 L561.89,698.35 L562.66,699.20 L563.25,700.05 L563.90,700.90 L564.81,701.75 L566.15,702.60 L568.00,703.45 L570.33,704.30 L573.04,705.15 L575.93,706.00 L578.79,706.85 L581.39,707.70 L583.57,708.55 L585.24,709.40 L586.82,710.80 L588.05,712.20 L588.92,713.60 L589.45,715.00 L589.62,716.40 M547.00,678.80 L548.97,679.65 L551.41,680.50 L554.18,681.35 L557.08,682.20 L559.90,683.05 L562.41,683.90 L564.47,684.75 L566.03,685.60 L567.10,686.45 L567.84,687.30 L568.43,688.15 L569.09,689.00 L570.05,689.85 L571.45,690.70 L573.35,691.55 L575.74,692.40 L578.48,693.25 L581.38,694.10 L584.22,694.95 L586.78,695.80 L588.90,696.65 L590.51,697.50 L591.64,698.35 L592.41,699.20 L593.00,700.05 L593.65,700.90 L594.56,701.75 L595.90,702.60 L597.75,703.45 L600.08,704.30 L602.79,705.15 L605.68,706.00 L608.54,706.85 L611.14,707.70 L613.32,708.55 L614.99,709.40 L616.57,710.80 L617.80,712.20 L618.67,713.60 L619.20,715.00 L619.38,716.40 M576.75,678.80 L578.72,679.65 L581.16,680.50 L583.93,681.35 L586.83,682.20 L589.65,683.05 L592.16,683.90 L594.22,684.75 L595.78,685.60 L596.85,686.45 L597.59,687.30 L598.18,688.15 L598.84,689.00 L599.80,689.85 L601.20,690.70 L603.10,691.55 L605.49,692.40 L608.23,693.25 L611.13,694.10 L613.97,694.95 L616.53,695.80 L618.65,696.65 L620.26,697.50 L621.39,698.35 L622.16,699.20 L622.75,700.05 L623.40,700.90 L624.31,701.75 L625.65,702.60 L627.50,703.45 L629.83,704.30 L632.54,705.15 L635.43,706.00 L638.29,706.85 L640.89,707.70 L643.07,708.55 L644.74,709.40 L646.32,710.80 L647.55,712.20 L648.42,713.60 L648.95,715.00 L649.12,716.40 M606.50,678.80 L608.47,679.65 L610.91,680.50 L613.68,681.35 L616.58,682.20 L619.40,683.05 L621.91,683.90 L623.97,684.75 L625.53,685.60 L626.60,686.45 L627.34,687.30 L627.93,688.15 L628.59,689.00 L629.55,689.85 L630.95,690.70 L632.85,691.55 L635.24,692.40 L637.98,693.25 L640.88,694.10 L643.72,694.95 L646.28,695.80 L648.40,696.65 L650.01,697.50 L651.14,698.35 L651.91,699.20 L652.50,700.05 L653.15,700.90 L654.06,701.75 L655.40,702.60 L657.25,703.45 L659.58,704.30 L662.29,705.15 L665.18,706.00 L668.04,706.85 L670.64,707.70 L672.82,708.55 L674.49,709.40 L676.07,710.80 L677.30,712.20 L678.17,713.60 L678.70,715.00 L678.88,716.40 M636.25,678.80 L638.22,679.65 L640.66,680.50 L643.43,681.35 L646.33,682.20 L649.15,683.05 L651.66,683.90 L653.72,684.75 L655.28,685.60 L656.35,686.45 L657.09,687.30 L657.68,688.15 L658.34,689.00 L659.30,689.85 L660.70,690.70 L662.60,691.55 L664.99,692.40 L667.73,693.25 L670.63,694.10 L673.47,694.95 L676.03,695.80 L678.15,696.65 L679.76,697.50 L680.89,698.35 L681.66,699.20 L682.25,700.05 L682.90,700.90 L683.81,701.75 L685.15,702.60 L687.00,703.45 L689.33,704.30 L692.04,705.15 L694.93,706.00 L697.79,706.85 L700.39,707.70 L702.57,708.55 L704.24,709.40 L705.82,710.80 L707.05,712.20 L707.92,713.60 L708.45,715.00 L708.62,716.40 M666.00,678.80 L667.97,679.65 L670.41,680.50 L673.18,681.35 L676.08,682.20 L678.90,683.05 L681.41,683.90 L683.47,684.75 L685.03,685.60 L686.10,686.45 L686.84,687.30 L687.43,688.15 L688.09,689.00 L689.05,689.85 L690.45,690.70 L692.35,691.55 L694.74,692.40 L697.48,693.25 L700.38,694.10 L703.22,694.95 L705.78,695.80 L707.90,696.65 L709.51,697.50 L710.64,698.35 L711.41,699.20 L712.00,700.05 L712.65,700.90 L713.56,701.75 L714.90,702.60 L716.75,703.45 L719.08,704.30 L721.79,705.15 L724.68,706.00 L727.54,706.85 L730.14,707.70 L732.32,708.55 L733.99,709.40 L735.57,710.80 L736.80,712.20 L737.67,713.60 L738.20,715.00 L738.38,716.40" stroke="#8c8c8c" stroke-width="2.1" fill="none"/><path d="M338.75,678.80 L340.72,679.65 L343.16,680.50 L345.93,681.35 L348.83,682.20 L351.65,683.05 L354.16,683.90 L356.22,684.75 L357.78,685.60 L358.85,686.45 L359.59,687.30 L360.18,688.15 L360.84,689.00 L361.80,689.85 L363.20,690.70 L365.10,691.55 L367.49,692.40 L370.23,693.25 L373.13,694.10 L375.97,694.95 L378.53,695.80 L380.65,696.65 L382.26,697.50 L383.39,698.35 L384.16,699.20 L384.75,700.05 L385.40,700.90 L386.31,701.75 L387.65,702.60 L389.50,703.45 L391.83,704.30 L394.54,705.15 L397.43,706.00 L400.29,706.85 L402.89,707.70 L405.07,708.55 L406.74,709.40 L408.32,710.80 L409.55,712.20 L410.42,713.60 L410.95,715.00 L411.12,716.40 M368.50,678.80 L370.47,679.65 L372.91,680.50 L375.68,681.35 L378.58,682.20 L381.40,683.05 L383.91,683.90 L385.97,684.75 L387.53,685.60 L388.60,686.45 L389.34,687.30 L389.93,688.15 L390.59,689.00 L391.55,689.85 L392.95,690.70 L394.85,691.55 L397.24,692.40 L399.98,693.25 L402.88,694.10 L405.72,694.95 L408.28,695.80 L410.40,696.65 L412.01,697.50 L413.14,698.35 L413.91,699.20 L414.50,700.05 L415.15,700.90 L416.06,701.75 L417.40,702.60 L419.25,703.45 L421.58,704.30 L424.29,705.15 L427.18,706.00 L430.04,706.85 L432.64,707.70 L434.82,708.55 L436.49,709.40 L438.07,710.80 L439.30,712.20 L440.17,713.60 L440.70,715.00 L440.88,716.40 M398.25,678.80 L400.22,679.65 L402.66,680.50 L405.43,681.35 L408.33,682.20 L411.15,683.05 L413.66,683.90 L415.72,684.75 L417.28,685.60 L418.35,686.45 L419.09,687.30 L419.68,688.15 L420.34,689.00 L421.30,689.85 L422.70,690.70 L424.60,691.55 L426.99,692.40 L429.73,693.25 L432.63,694.10 L435.47,694.95 L438.03,695.80 L440.15,696.65 L441.76,697.50 L442.89,698.35 L443.66,699.20 L444.25,700.05 L444.90,700.90 L445.81,701.75 L447.15,702.60 L449.00,703.45 L451.33,704.30 L454.04,705.15 L456.93,706.00 L459.79,706.85 L462.39,707.70 L464.57,708.55 L466.24,709.40 L467.82,710.80 L469.05,712.20 L469.92,713.60 L470.45,715.00 L470.62,716.40 M428.00,678.80 L429.97,679.65 L432.41,680.50 L435.18,681.35 L438.08,682.20 L440.90,683.05 L443.41,683.90 L445.47,684.75 L447.03,685.60 L448.10,686.45 L448.84,687.30 L449.43,688.15 L450.09,689.00 L451.05,689.85 L452.45,690.70 L454.35,691.55 L456.74,692.40 L459.48,693.25 L462.38,694.10 L465.22,694.95 L467.78,695.80 L469.90,696.65 L471.51,697.50 L472.64,698.35 L473.41,699.20 L474.00,700.05 L474.65,700.90 L475.56,701.75 L476.90,702.60 L478.75,703.45 L481.08,704.30 L483.79,705.15 L486.68,706.00 L489.54,706.85 L492.14,707.70 L494.32,708.55 L495.99,709.40 L497.57,710.80 L498.80,712.20 L499.67,713.60 L500.20,715.00 L500.38,716.40 M457.75,678.80 L459.72,679.65 L462.16,680.50 L464.93,681.35 L467.83,682.20 L470.65,683.05 L473.16,683.90 L475.22,684.75 L476.78,685.60 L477.85,686.45 L478.59,687.30 L479.18,688.15 L479.84,689.00 L480.80,689.85 L482.20,690.70 L484.10,691.55 L486.49,692.40 L489.23,693.25 L492.13,694.10 L494.97,694.95 L497.53,695.80 L499.65,696.65 L501.26,697.50 L502.39,698.35 L503.16,699.20 L503.75,700.05 L504.40,700.90 L505.31,701.75 L506.65,702.60 L508.50,703.45 L510.83,704.30 L513.54,705.15 L516.43,706.00 L519.29,706.85 L521.89,707.70 L524.07,708.55 L525.74,709.40 L527.32,710.80 L528.55,712.20 L529.42,713.60 L529.95,715.00 L530.12,716.40 M487.50,678.80 L489.47,679.65 L491.91,680.50 L494.68,681.35 L497.58,682.20 L500.40,683.05 L502.91,683.90 L504.97,684.75 L506.53,685.60 L507.60,686.45 L508.34,687.30 L508.93,688.15 L509.59,689.00 L510.55,689.85 L511.95,690.70 L513.85,691.55 L516.24,692.40 L518.98,693.25 L521.88,694.10 L524.72,694.95 L527.28,695.80 L529.40,696.65 L531.01,697.50 L532.14,698.35 L532.91,699.20 L533.50,700.05 L534.15,700.90 L535.06,701.75 L536.40,702.60 L538.25,703.45 L540.58,704.30 L543.29,705.15 L546.18,706.00 L549.04,706.85 L551.64,707.70 L553.82,708.55 L555.49,709.40 L557.07,710.80 L558.30,712.20 L559.17,713.60 L559.70,715.00 L559.88,716.40 M517.25,678.80 L519.22,679.65 L521.66,680.50 L524.43,681.35 L527.33,682.20 L530.15,683.05 L532.66,683.90 L534.72,684.75 L536.28,685.60 L537.35,686.45 L538.09,687.30 L538.68,688.15 L539.34,689.00 L540.30,689.85 L541.70,690.70 L543.60,691.55 L545.99,692.40 L548.73,693.25 L551.63,694.10 L554.47,694.95 L557.03,695.80 L559.15,696.65 L560.76,697.50 L561.89,698.35 L562.66,699.20 L563.25,700.05 L563.90,700.90 L564.81,701.75 L566.15,702.60 L568.00,703.45 L570.33,704.30 L573.04,705.15 L575.93,706.00 L578.79,706.85 L581.39,707.70 L583.57,708.55 L585.24,709.40 L586.82,710.80 L588.05,712.20 L588.92,713.60 L589.45,715.00 L589.62,716.40 M547.00,678.80 L548.97,679.65 L551.41,680.50 L554.18,681.35 L557.08,682.20 L559.90,683.05 L562.41,683.90 L564.47,684.75 L566.03,685.60 L567.10,686.45 L567.84,687.30 L568.43,688.15 L569.09,689.00 L570.05,689.85 L571.45,690.70 L573.35,691.55 L575.74,692.40 L578.48,693.25 L581.38,694.10 L584.22,694.95 L586.78,695.80 L588.90,696.65 L590.51,697.50 L591.64,698.35 L592.41,699.20 L593.00,700.05 L593.65,700.90 L594.56,701.75 L595.90,702.60 L597.75,703.45 L600.08,704.30 L602.79,705.15 L605.68,706.00 L608.54,706.85 L611.14,707.70 L613.32,708.55 L614.99,709.40 L616.57,710.80 L617.80,712.20 L618.67,713.60 L619.20,715.00 L619.38,716.40 M576.75,678.80 L578.72,679.65 L581.16,680.50 L583.93,681.35 L586.83,682.20 L589.65,683.05 L592.16,683.90 L594.22,684.75 L595.78,685.60 L596.85,686.45 L597.59,687.30 L598.18,688.15 L598.84,689.00 L599.80,689.85 L601.20,690.70 L603.10,691.55 L605.49,692.40 L608.23,693.25 L611.13,694.10 L613.97,694.95 L616.53,695.80 L618.65,696.65 L620.26,697.50 L621.39,698.35 L622.16,699.20 L622.75,700.05 L623.40,700.90 L624.31,701.75 L625.65,702.60 L627.50,703.45 L629.83,704.30 L632.54,705.15 L635.43,706.00 L638.29,706.85 L640.89,707.70 L643.07,708.55 L644.74,709.40 L646.32,710.80 L647.55,712.20 L648.42,713.60 L648.95,715.00 L649.12,716.40 M606.50,678.80 L608.47,679.65 L610.91,680.50 L613.68,681.35 L616.58,682.20 L619.40,683.05 L621.91,683.90 L623.97,684.75 L625.53,685.60 L626.60,686.45 L627.34,687.30 L627.93,688.15 L628.59,689.00 L629.55,689.85 L630.95,690.70 L632.85,691.55 L635.24,692.40 L637.98,693.25 L640.88,694.10 L643.72,694.95 L646.28,695.80 L648.40,696.65 L650.01,697.50 L651.14,698.35 L651.91,699.20 L652.50,700.05 L653.15,700.90 L654.06,701.75 L655.40,702.60 L657.25,703.45 L659.58,704.30 L662.29,705.15 L665.18,706.00 L668.04,706.85 L670.64,707.70 L672.82,708.55 L674.49,709.40 L676.07,710.80 L677.30,712.20 L678.17,713.60 L678.70,715.00 L678.88,716.40 M636.25,678.80 L638.22,679.65 L640.66,680.50 L643.43,681.35 L646.33,682.20 L649.15,683.05 L651.66,683.90 L653.72,684.75 L655.28,685.60 L656.35,686.45 L657.09,687.30 L657.68,688.15 L658.34,689.00 L659.30,689.85 L660.70,690.70 L662.60,691.55 L664.99,692.40 L667.73,693.25 L670.63,694.10 L673.47,694.95 L676.03,695.80 L678.15,696.65 L679.76,697.50 L680.89,698.35 L681.66,699.20 L682.25,700.05 L682.90,700.90 L683.81,701.75 L685.15,702.60 L687.00,703.45 L689.33,704.30 L692.04,705.15 L694.93,706.00 L697.79,706.85 L700.39,707.70 L702.57,708.55 L704.24,709.40 L705.82,710.80 L707.05,712.20 L707.92,713.60 L708.45,715.00 L708.62,716.40 M666.00,678.80 L667.97,679.65 L670.41,680.50 L673.18,681.35 L676.08,682.20 L678.90,683.05 L681.41,683.90 L683.47,684.75 L685.03,685.60 L686.10,686.45 L686.84,687.30 L687.43,688.15 L688.09,689.00 L689.05,689.85 L690.45,690.70 L692.35,691.55 L694.74,692.40 L697.48,693.25 L700.38,694.10 L703.22,694.95 L705.78,695.80 L707.90,696.65 L709.51,697.50 L710.64,698.35 L711.41,699.20 L712.00,700.05 L712.65,700.90 L713.56,701.75 L714.90,702.60 L716.75,703.45 L719.08,704.30 L721.79,705.15 L724.68,706.00 L727.54,706.85 L730.14,707.70 L732.32,708.55 L733.99,709.40 L735.57,710.80 L736.80,712.20 L737.67,713.60 L738.20,715.00 L738.38,716.40" stroke="#8c8c8c" stroke-width="5.0" fill="none" clip-path="url(#cp10)"/><rect x="454.0" y="713.8" width="205.5" height="1.6" fill="#000" fill-opacity="0.4"/><rect x="454.0" y="678.8" width="205.5" height="1.2" fill="#000" fill-opacity="0.35"/><path d="M355.73,715.80 L377.27,715.80 C377.27,719.55 374.19,723.60 373.19,724.68 Q371.99,725.40 366.50,725.40 Q361.01,725.40 359.81,724.68 C358.81,723.60 355.73,719.55 355.73,715.80 Z" fill="#e50000"/><path d="M385.48,715.80 L407.02,715.80 C407.02,719.90 403.94,724.40 402.94,725.60 Q401.74,726.40 396.25,726.40 Q390.76,726.40 389.56,725.60 C388.56,724.40 385.48,719.90 385.48,715.80 Z" fill="#0000e5"/><path d="M415.23,715.80 L436.77,715.80 C436.77,719.55 433.69,723.60 432.69,724.68 Q431.49,725.40 426.00,725.40 Q420.51,725.40 419.31,724.68 C418.31,723.60 415.23,719.55 415.23,715.80 Z" fill="#e50000"/><path d="M444.98,715.80 L466.52,715.80 C466.52,719.90 463.44,724.40 462.44,725.60 Q461.24,726.40 455.75,726.40 Q450.26,726.40 449.06,725.60 C448.06,724.40 444.98,719.90 444.98,715.80 Z" fill="#0000e5"/><path d="M474.73,715.80 L496.27,715.80 C496.27,719.55 493.19,723.60 492.19,724.68 Q490.99,725.40 485.50,725.40 Q480.01,725.40 478.81,724.68 C477.81,723.60 474.73,719.55 474.73,715.80 Z" fill="#e50000"/><path d="M504.48,715.80 L526.02,715.80 C526.02,719.90 522.94,724.40 521.94,725.60 Q520.74,726.40 515.25,726.40 Q509.76,726.40 508.56,725.60 C507.56,724.40 504.48,719.90 504.48,715.80 Z" fill="#0000e5"/><path d="M534.23,715.80 L555.77,715.80 C555.77,719.55 552.69,723.60 551.69,724.68 Q550.49,725.40 545.00,725.40 Q539.51,725.40 538.31,724.68 C537.31,723.60 534.23,719.55 534.23,715.80 Z" fill="#e50000"/><path d="M563.98,715.80 L585.52,715.80 C585.52,719.90 582.44,724.40 581.44,725.60 Q580.24,726.40 574.75,726.40 Q569.26,726.40 568.06,725.60 C567.06,724.40 563.98,719.90 563.98,715.80 Z" fill="#0000e5"/><path d="M593.73,715.80 L615.27,715.80 C615.27,719.55 612.19,723.60 611.19,724.68 Q609.99,725.40 604.50,725.40 Q599.01,725.40 597.81,724.68 C596.81,723.60 593.73,719.55 593.73,715.80 Z" fill="#e50000"/><path d="M623.48,715.80 L645.02,715.80 C645.02,719.90 641.94,724.40 640.94,725.60 Q639.74,726.40 634.25,726.40 Q628.76,726.40 627.56,725.60 C626.56,724.40 623.48,719.90 623.48,715.80 Z" fill="#0000e5"/><path d="M653.23,715.80 L674.77,715.80 C674.77,719.55 671.69,723.60 670.69,724.68 Q669.49,725.40 664.00,725.40 Q658.51,725.40 657.31,724.68 C656.31,723.60 653.23,719.55 653.23,715.80 Z" fill="#e50000"/><path d="M682.98,715.80 L704.52,715.80 C704.52,719.90 701.44,724.40 700.44,725.60 Q699.24,726.40 693.75,726.40 Q688.26,726.40 687.06,725.60 C686.06,724.40 682.98,719.90 682.98,715.80 Z" fill="#0000e5"/><path d="M357.86,678.80 L357.86,678.00 L358.30,668.08 L360.38,660.64 L363.23,654.94 L364.77,653.20 L380.11,653.20 L381.86,654.69 L383.18,661.38 L385.37,666.84 L386.14,671.80 L386.14,678.00 L386.14,678.80 Z" fill="#0000e5" stroke="#0000e5" stroke-width="0.4" stroke-linejoin="round"/><path d="M387.61,678.80 L387.61,678.00 L388.05,668.08 L390.13,660.64 L392.98,654.94 L394.52,653.20 L409.86,653.20 L411.61,654.69 L412.93,661.38 L415.12,666.84 L415.89,671.80 L415.89,678.00 L415.89,678.80 Z" fill="#e50000" stroke="#e50000" stroke-width="0.4" stroke-linejoin="round"/><path d="M417.36,678.80 L417.36,678.00 L417.80,668.08 L419.88,660.64 L422.73,654.94 L424.27,653.20 L439.61,653.20 L441.36,654.69 L442.68,661.38 L444.87,666.84 L445.64,671.80 L445.64,678.00 L445.64,678.80 Z" fill="#0000e5" stroke="#0000e5" stroke-width="0.4" stroke-linejoin="round"/><path d="M447.11,678.80 L447.11,678.00 L447.55,668.08 L449.63,660.64 L452.48,654.94 L454.02,653.20 L469.36,653.20 L471.11,654.69 L472.43,661.38 L474.62,666.84 L475.39,671.80 L475.39,678.00 L475.39,678.80 Z" fill="#e50000" stroke="#e50000" stroke-width="0.4" stroke-linejoin="round"/><path d="M476.86,678.80 L476.86,678.00 L477.30,668.08 L479.38,660.64 L482.23,654.94 L483.77,653.20 L499.11,653.20 L500.86,654.69 L502.18,661.38 L504.37,666.84 L505.14,671.80 L505.14,678.00 L505.14,678.80 Z" fill="#0000e5" stroke="#0000e5" stroke-width="0.4" stroke-linejoin="round"/><path d="M506.61,678.80 L506.61,678.00 L507.05,668.08 L509.13,660.64 L511.98,654.94 L513.52,653.20 L528.86,653.20 L530.61,654.69 L531.93,661.38 L534.12,666.84 L534.89,671.80 L534.89,678.00 L534.89,678.80 Z" fill="#e50000" stroke="#e50000" stroke-width="0.4" stroke-linejoin="round"/><path d="M536.36,678.80 L536.36,678.00 L536.80,668.08 L538.88,660.64 L541.73,654.94 L543.27,653.20 L558.61,653.20 L560.36,654.69 L561.68,661.38 L563.87,666.84 L564.64,671.80 L564.64,678.00 L564.64,678.80 Z" fill="#0000e5" stroke="#0000e5" stroke-width="0.4" stroke-linejoin="round"/><path d="M566.11,678.80 L566.11,678.00 L566.55,668.08 L568.63,660.64 L571.48,654.94 L573.02,653.20 L588.36,653.20 L590.11,654.69 L591.43,661.38 L593.62,666.84 L594.39,671.80 L594.39,678.00 L594.39,678.80 Z" fill="#e50000" stroke="#e50000" stroke-width="0.4" stroke-linejoin="round"/><path d="M595.86,678.80 L595.86,678.00 L596.30,668.08 L598.38,660.64 L601.23,654.94 L602.77,653.20 L618.11,653.20 L619.86,654.69 L621.18,661.38 L623.37,666.84 L624.14,671.80 L624.14,678.00 L624.14,678.80 Z" fill="#0000e5" stroke="#0000e5" stroke-width="0.4" stroke-linejoin="round"/><path d="M625.61,678.80 L625.61,678.00 L626.05,668.08 L628.13,660.64 L630.98,654.94 L632.52,653.20 L647.86,653.20 L649.61,654.69 L650.93,661.38 L653.12,666.84 L653.89,671.80 L653.89,678.00 L653.89,678.80 Z" fill="#e50000" stroke="#e50000" stroke-width="0.4" stroke-linejoin="round"/><path d="M655.36,678.80 L655.36,678.00 L655.80,668.08 L657.88,660.64 L660.73,654.94 L662.27,653.20 L677.61,653.20 L679.36,654.69 L680.68,661.38 L682.87,666.84 L683.64,671.80 L683.64,678.00 L683.64,678.80 Z" fill="#0000e5" stroke="#0000e5" stroke-width="0.4" stroke-linejoin="round"/><path d="M685.11,678.80 L685.11,678.00 L685.55,668.08 L687.63,660.64 L690.48,654.94 L692.02,653.20 L707.36,653.20 L709.11,654.69 L710.43,661.38 L712.62,666.84 L713.39,671.80 L713.39,678.00 L713.39,678.80 Z" fill="#e50000" stroke="#e50000" stroke-width="0.4" stroke-linejoin="round"/><path d="M455.5,669.8 H645.5" stroke="#ffe500" stroke-width="1.9" stroke-dasharray="7.2 6"/><path d="M647.0,665.9 L658.5,669.8 L647.0,673.7 Z" fill="#ffe500"/><path d="M640.5,669.8 H649.5" stroke="#ffe500" stroke-width="1.9"/><text x="634.5" y="666.5" font-size="11.5" fill="#ffe500">e</text><rect x="642.0" y="659.8" width="2.3" height="1.0" fill="#ffe500"/></g>
</svg></body></html>
